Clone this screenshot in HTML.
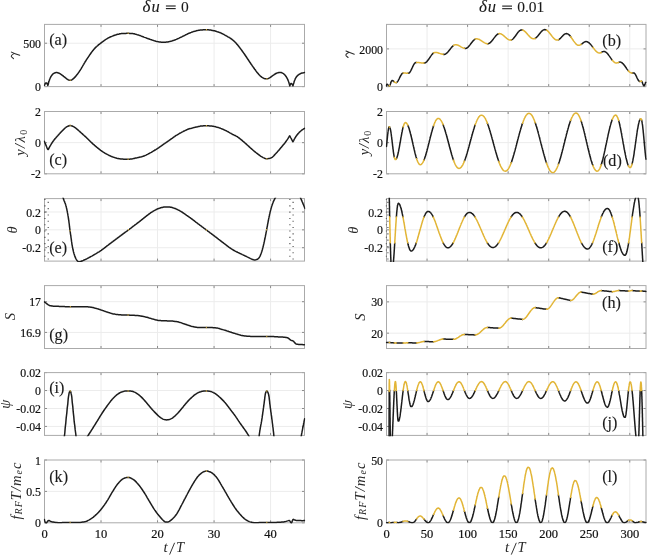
<!DOCTYPE html>
<html><head><meta charset="utf-8"><style>
html,body{margin:0;padding:0;background:#fff;width:648px;height:556px;overflow:hidden;}
svg{display:block;filter:blur(0.3px);}
</style></head><body>
<svg width="648" height="556" viewBox="0 0 648 556">
<style>
.tk { font-family: "Liberation Serif", serif; font-size: 12.5px; fill: #111; stroke: #111; stroke-width: 0.2px; }
.pl { font-family: "Liberation Serif", serif; font-size: 16.2px; fill: #1a1a1a; stroke: #1a1a1a; stroke-width: 0.12px; }
.yl { font-family: "Liberation Serif", serif; font-size: 14px; fill: #2a2a2a; font-style: italic; }
.ti { font-family: "Liberation Serif", serif; font-size: 15.5px; fill: #1a1a1a; stroke: #1a1a1a; stroke-width: 0.1px; }
</style>
<rect width="648" height="556" fill="#fff"/>
<line x1="101.02" y1="24.4" x2="101.02" y2="86.6" stroke="#ececec" stroke-width="1"/>
<line x1="157.54" y1="24.4" x2="157.54" y2="86.6" stroke="#ececec" stroke-width="1"/>
<line x1="214.07" y1="24.4" x2="214.07" y2="86.6" stroke="#ececec" stroke-width="1"/>
<line x1="270.59" y1="24.4" x2="270.59" y2="86.6" stroke="#ececec" stroke-width="1"/>
<line x1="44.5" y1="43.22" x2="304.5" y2="43.22" stroke="#ececec" stroke-width="1"/>
<line x1="44.50" y1="86.6" x2="44.50" y2="84.1" stroke="#8a8a8a" stroke-width="1"/>
<line x1="44.50" y1="24.4" x2="44.50" y2="26.9" stroke="#8a8a8a" stroke-width="1"/>
<line x1="101.02" y1="86.6" x2="101.02" y2="84.1" stroke="#8a8a8a" stroke-width="1"/>
<line x1="101.02" y1="24.4" x2="101.02" y2="26.9" stroke="#8a8a8a" stroke-width="1"/>
<line x1="157.54" y1="86.6" x2="157.54" y2="84.1" stroke="#8a8a8a" stroke-width="1"/>
<line x1="157.54" y1="24.4" x2="157.54" y2="26.9" stroke="#8a8a8a" stroke-width="1"/>
<line x1="214.07" y1="86.6" x2="214.07" y2="84.1" stroke="#8a8a8a" stroke-width="1"/>
<line x1="214.07" y1="24.4" x2="214.07" y2="26.9" stroke="#8a8a8a" stroke-width="1"/>
<line x1="270.59" y1="86.6" x2="270.59" y2="84.1" stroke="#8a8a8a" stroke-width="1"/>
<line x1="270.59" y1="24.4" x2="270.59" y2="26.9" stroke="#8a8a8a" stroke-width="1"/>
<line x1="44.5" y1="86.60" x2="47.0" y2="86.60" stroke="#8a8a8a" stroke-width="1"/>
<line x1="304.5" y1="86.60" x2="302.0" y2="86.60" stroke="#8a8a8a" stroke-width="1"/>
<line x1="44.5" y1="43.22" x2="47.0" y2="43.22" stroke="#8a8a8a" stroke-width="1"/>
<line x1="304.5" y1="43.22" x2="302.0" y2="43.22" stroke="#8a8a8a" stroke-width="1"/>
<text transform="translate(41.00,91.20) scale(0.95,1)" text-anchor="end" class="tk">0</text>
<text transform="translate(41.00,47.82) scale(0.95,1)" text-anchor="end" class="tk">500</text>
<line x1="101.02" y1="111.5" x2="101.02" y2="173.8" stroke="#ececec" stroke-width="1"/>
<line x1="157.54" y1="111.5" x2="157.54" y2="173.8" stroke="#ececec" stroke-width="1"/>
<line x1="214.07" y1="111.5" x2="214.07" y2="173.8" stroke="#ececec" stroke-width="1"/>
<line x1="270.59" y1="111.5" x2="270.59" y2="173.8" stroke="#ececec" stroke-width="1"/>
<line x1="44.5" y1="142.65" x2="304.5" y2="142.65" stroke="#ececec" stroke-width="1"/>
<line x1="44.50" y1="173.8" x2="44.50" y2="171.3" stroke="#8a8a8a" stroke-width="1"/>
<line x1="44.50" y1="111.5" x2="44.50" y2="114.0" stroke="#8a8a8a" stroke-width="1"/>
<line x1="101.02" y1="173.8" x2="101.02" y2="171.3" stroke="#8a8a8a" stroke-width="1"/>
<line x1="101.02" y1="111.5" x2="101.02" y2="114.0" stroke="#8a8a8a" stroke-width="1"/>
<line x1="157.54" y1="173.8" x2="157.54" y2="171.3" stroke="#8a8a8a" stroke-width="1"/>
<line x1="157.54" y1="111.5" x2="157.54" y2="114.0" stroke="#8a8a8a" stroke-width="1"/>
<line x1="214.07" y1="173.8" x2="214.07" y2="171.3" stroke="#8a8a8a" stroke-width="1"/>
<line x1="214.07" y1="111.5" x2="214.07" y2="114.0" stroke="#8a8a8a" stroke-width="1"/>
<line x1="270.59" y1="173.8" x2="270.59" y2="171.3" stroke="#8a8a8a" stroke-width="1"/>
<line x1="270.59" y1="111.5" x2="270.59" y2="114.0" stroke="#8a8a8a" stroke-width="1"/>
<line x1="44.5" y1="173.80" x2="47.0" y2="173.80" stroke="#8a8a8a" stroke-width="1"/>
<line x1="304.5" y1="173.80" x2="302.0" y2="173.80" stroke="#8a8a8a" stroke-width="1"/>
<line x1="44.5" y1="142.65" x2="47.0" y2="142.65" stroke="#8a8a8a" stroke-width="1"/>
<line x1="304.5" y1="142.65" x2="302.0" y2="142.65" stroke="#8a8a8a" stroke-width="1"/>
<line x1="44.5" y1="111.50" x2="47.0" y2="111.50" stroke="#8a8a8a" stroke-width="1"/>
<line x1="304.5" y1="111.50" x2="302.0" y2="111.50" stroke="#8a8a8a" stroke-width="1"/>
<text transform="translate(41.00,178.40) scale(0.95,1)" text-anchor="end" class="tk">-2</text>
<text transform="translate(41.00,147.25) scale(0.95,1)" text-anchor="end" class="tk">0</text>
<text transform="translate(41.00,116.10) scale(0.95,1)" text-anchor="end" class="tk">2</text>
<line x1="101.02" y1="198.6" x2="101.02" y2="261.1" stroke="#ececec" stroke-width="1"/>
<line x1="157.54" y1="198.6" x2="157.54" y2="261.1" stroke="#ececec" stroke-width="1"/>
<line x1="214.07" y1="198.6" x2="214.07" y2="261.1" stroke="#ececec" stroke-width="1"/>
<line x1="270.59" y1="198.6" x2="270.59" y2="261.1" stroke="#ececec" stroke-width="1"/>
<line x1="44.5" y1="247.71" x2="304.5" y2="247.71" stroke="#ececec" stroke-width="1"/>
<line x1="44.5" y1="229.85" x2="304.5" y2="229.85" stroke="#ececec" stroke-width="1"/>
<line x1="44.5" y1="211.99" x2="304.5" y2="211.99" stroke="#ececec" stroke-width="1"/>
<line x1="44.50" y1="261.1" x2="44.50" y2="258.6" stroke="#8a8a8a" stroke-width="1"/>
<line x1="44.50" y1="198.6" x2="44.50" y2="201.1" stroke="#8a8a8a" stroke-width="1"/>
<line x1="101.02" y1="261.1" x2="101.02" y2="258.6" stroke="#8a8a8a" stroke-width="1"/>
<line x1="101.02" y1="198.6" x2="101.02" y2="201.1" stroke="#8a8a8a" stroke-width="1"/>
<line x1="157.54" y1="261.1" x2="157.54" y2="258.6" stroke="#8a8a8a" stroke-width="1"/>
<line x1="157.54" y1="198.6" x2="157.54" y2="201.1" stroke="#8a8a8a" stroke-width="1"/>
<line x1="214.07" y1="261.1" x2="214.07" y2="258.6" stroke="#8a8a8a" stroke-width="1"/>
<line x1="214.07" y1="198.6" x2="214.07" y2="201.1" stroke="#8a8a8a" stroke-width="1"/>
<line x1="270.59" y1="261.1" x2="270.59" y2="258.6" stroke="#8a8a8a" stroke-width="1"/>
<line x1="270.59" y1="198.6" x2="270.59" y2="201.1" stroke="#8a8a8a" stroke-width="1"/>
<line x1="44.5" y1="247.71" x2="47.0" y2="247.71" stroke="#8a8a8a" stroke-width="1"/>
<line x1="304.5" y1="247.71" x2="302.0" y2="247.71" stroke="#8a8a8a" stroke-width="1"/>
<line x1="44.5" y1="229.85" x2="47.0" y2="229.85" stroke="#8a8a8a" stroke-width="1"/>
<line x1="304.5" y1="229.85" x2="302.0" y2="229.85" stroke="#8a8a8a" stroke-width="1"/>
<line x1="44.5" y1="211.99" x2="47.0" y2="211.99" stroke="#8a8a8a" stroke-width="1"/>
<line x1="304.5" y1="211.99" x2="302.0" y2="211.99" stroke="#8a8a8a" stroke-width="1"/>
<text transform="translate(41.00,252.31) scale(0.95,1)" text-anchor="end" class="tk">-0.2</text>
<text transform="translate(41.00,234.45) scale(0.95,1)" text-anchor="end" class="tk">0</text>
<text transform="translate(41.00,216.59) scale(0.95,1)" text-anchor="end" class="tk">0.2</text>
<line x1="101.02" y1="285.6" x2="101.02" y2="348.5" stroke="#ececec" stroke-width="1"/>
<line x1="157.54" y1="285.6" x2="157.54" y2="348.5" stroke="#ececec" stroke-width="1"/>
<line x1="214.07" y1="285.6" x2="214.07" y2="348.5" stroke="#ececec" stroke-width="1"/>
<line x1="270.59" y1="285.6" x2="270.59" y2="348.5" stroke="#ececec" stroke-width="1"/>
<line x1="44.5" y1="332.41" x2="304.5" y2="332.41" stroke="#ececec" stroke-width="1"/>
<line x1="44.5" y1="301.69" x2="304.5" y2="301.69" stroke="#ececec" stroke-width="1"/>
<line x1="44.50" y1="348.5" x2="44.50" y2="346.0" stroke="#8a8a8a" stroke-width="1"/>
<line x1="44.50" y1="285.6" x2="44.50" y2="288.1" stroke="#8a8a8a" stroke-width="1"/>
<line x1="101.02" y1="348.5" x2="101.02" y2="346.0" stroke="#8a8a8a" stroke-width="1"/>
<line x1="101.02" y1="285.6" x2="101.02" y2="288.1" stroke="#8a8a8a" stroke-width="1"/>
<line x1="157.54" y1="348.5" x2="157.54" y2="346.0" stroke="#8a8a8a" stroke-width="1"/>
<line x1="157.54" y1="285.6" x2="157.54" y2="288.1" stroke="#8a8a8a" stroke-width="1"/>
<line x1="214.07" y1="348.5" x2="214.07" y2="346.0" stroke="#8a8a8a" stroke-width="1"/>
<line x1="214.07" y1="285.6" x2="214.07" y2="288.1" stroke="#8a8a8a" stroke-width="1"/>
<line x1="270.59" y1="348.5" x2="270.59" y2="346.0" stroke="#8a8a8a" stroke-width="1"/>
<line x1="270.59" y1="285.6" x2="270.59" y2="288.1" stroke="#8a8a8a" stroke-width="1"/>
<line x1="44.5" y1="332.41" x2="47.0" y2="332.41" stroke="#8a8a8a" stroke-width="1"/>
<line x1="304.5" y1="332.41" x2="302.0" y2="332.41" stroke="#8a8a8a" stroke-width="1"/>
<line x1="44.5" y1="301.69" x2="47.0" y2="301.69" stroke="#8a8a8a" stroke-width="1"/>
<line x1="304.5" y1="301.69" x2="302.0" y2="301.69" stroke="#8a8a8a" stroke-width="1"/>
<text transform="translate(41.00,337.01) scale(0.95,1)" text-anchor="end" class="tk">16.9</text>
<text transform="translate(41.00,306.29) scale(0.95,1)" text-anchor="end" class="tk">17</text>
<line x1="101.02" y1="372.6" x2="101.02" y2="435.4" stroke="#ececec" stroke-width="1"/>
<line x1="157.54" y1="372.6" x2="157.54" y2="435.4" stroke="#ececec" stroke-width="1"/>
<line x1="214.07" y1="372.6" x2="214.07" y2="435.4" stroke="#ececec" stroke-width="1"/>
<line x1="270.59" y1="372.6" x2="270.59" y2="435.4" stroke="#ececec" stroke-width="1"/>
<line x1="44.5" y1="426.43" x2="304.5" y2="426.43" stroke="#ececec" stroke-width="1"/>
<line x1="44.5" y1="408.49" x2="304.5" y2="408.49" stroke="#ececec" stroke-width="1"/>
<line x1="44.5" y1="390.54" x2="304.5" y2="390.54" stroke="#ececec" stroke-width="1"/>
<line x1="44.50" y1="435.4" x2="44.50" y2="432.9" stroke="#8a8a8a" stroke-width="1"/>
<line x1="44.50" y1="372.6" x2="44.50" y2="375.1" stroke="#8a8a8a" stroke-width="1"/>
<line x1="101.02" y1="435.4" x2="101.02" y2="432.9" stroke="#8a8a8a" stroke-width="1"/>
<line x1="101.02" y1="372.6" x2="101.02" y2="375.1" stroke="#8a8a8a" stroke-width="1"/>
<line x1="157.54" y1="435.4" x2="157.54" y2="432.9" stroke="#8a8a8a" stroke-width="1"/>
<line x1="157.54" y1="372.6" x2="157.54" y2="375.1" stroke="#8a8a8a" stroke-width="1"/>
<line x1="214.07" y1="435.4" x2="214.07" y2="432.9" stroke="#8a8a8a" stroke-width="1"/>
<line x1="214.07" y1="372.6" x2="214.07" y2="375.1" stroke="#8a8a8a" stroke-width="1"/>
<line x1="270.59" y1="435.4" x2="270.59" y2="432.9" stroke="#8a8a8a" stroke-width="1"/>
<line x1="270.59" y1="372.6" x2="270.59" y2="375.1" stroke="#8a8a8a" stroke-width="1"/>
<line x1="44.5" y1="426.43" x2="47.0" y2="426.43" stroke="#8a8a8a" stroke-width="1"/>
<line x1="304.5" y1="426.43" x2="302.0" y2="426.43" stroke="#8a8a8a" stroke-width="1"/>
<line x1="44.5" y1="408.49" x2="47.0" y2="408.49" stroke="#8a8a8a" stroke-width="1"/>
<line x1="304.5" y1="408.49" x2="302.0" y2="408.49" stroke="#8a8a8a" stroke-width="1"/>
<line x1="44.5" y1="390.54" x2="47.0" y2="390.54" stroke="#8a8a8a" stroke-width="1"/>
<line x1="304.5" y1="390.54" x2="302.0" y2="390.54" stroke="#8a8a8a" stroke-width="1"/>
<line x1="44.5" y1="372.60" x2="47.0" y2="372.60" stroke="#8a8a8a" stroke-width="1"/>
<line x1="304.5" y1="372.60" x2="302.0" y2="372.60" stroke="#8a8a8a" stroke-width="1"/>
<text transform="translate(41.00,431.03) scale(0.95,1)" text-anchor="end" class="tk">-0.04</text>
<text transform="translate(41.00,413.09) scale(0.95,1)" text-anchor="end" class="tk">-0.02</text>
<text transform="translate(41.00,395.14) scale(0.95,1)" text-anchor="end" class="tk">0</text>
<text transform="translate(41.00,377.20) scale(0.95,1)" text-anchor="end" class="tk">0.02</text>
<line x1="101.02" y1="460.0" x2="101.02" y2="522.8" stroke="#ececec" stroke-width="1"/>
<line x1="157.54" y1="460.0" x2="157.54" y2="522.8" stroke="#ececec" stroke-width="1"/>
<line x1="214.07" y1="460.0" x2="214.07" y2="522.8" stroke="#ececec" stroke-width="1"/>
<line x1="270.59" y1="460.0" x2="270.59" y2="522.8" stroke="#ececec" stroke-width="1"/>
<line x1="44.5" y1="491.40" x2="304.5" y2="491.40" stroke="#ececec" stroke-width="1"/>
<line x1="44.50" y1="522.8" x2="44.50" y2="520.3" stroke="#8a8a8a" stroke-width="1"/>
<line x1="44.50" y1="460.0" x2="44.50" y2="462.5" stroke="#8a8a8a" stroke-width="1"/>
<line x1="101.02" y1="522.8" x2="101.02" y2="520.3" stroke="#8a8a8a" stroke-width="1"/>
<line x1="101.02" y1="460.0" x2="101.02" y2="462.5" stroke="#8a8a8a" stroke-width="1"/>
<line x1="157.54" y1="522.8" x2="157.54" y2="520.3" stroke="#8a8a8a" stroke-width="1"/>
<line x1="157.54" y1="460.0" x2="157.54" y2="462.5" stroke="#8a8a8a" stroke-width="1"/>
<line x1="214.07" y1="522.8" x2="214.07" y2="520.3" stroke="#8a8a8a" stroke-width="1"/>
<line x1="214.07" y1="460.0" x2="214.07" y2="462.5" stroke="#8a8a8a" stroke-width="1"/>
<line x1="270.59" y1="522.8" x2="270.59" y2="520.3" stroke="#8a8a8a" stroke-width="1"/>
<line x1="270.59" y1="460.0" x2="270.59" y2="462.5" stroke="#8a8a8a" stroke-width="1"/>
<line x1="44.5" y1="522.80" x2="47.0" y2="522.80" stroke="#8a8a8a" stroke-width="1"/>
<line x1="304.5" y1="522.80" x2="302.0" y2="522.80" stroke="#8a8a8a" stroke-width="1"/>
<line x1="44.5" y1="491.40" x2="47.0" y2="491.40" stroke="#8a8a8a" stroke-width="1"/>
<line x1="304.5" y1="491.40" x2="302.0" y2="491.40" stroke="#8a8a8a" stroke-width="1"/>
<line x1="44.5" y1="460.00" x2="47.0" y2="460.00" stroke="#8a8a8a" stroke-width="1"/>
<line x1="304.5" y1="460.00" x2="302.0" y2="460.00" stroke="#8a8a8a" stroke-width="1"/>
<text transform="translate(41.00,527.40) scale(0.95,1)" text-anchor="end" class="tk">0</text>
<text transform="translate(41.00,496.00) scale(0.95,1)" text-anchor="end" class="tk">0.5</text>
<text transform="translate(41.00,464.60) scale(0.95,1)" text-anchor="end" class="tk">1</text>
<text x="44.50" y="537.80" text-anchor="middle" class="tk">0</text>
<text x="101.02" y="537.80" text-anchor="middle" class="tk">10</text>
<text x="157.54" y="537.80" text-anchor="middle" class="tk">20</text>
<text x="214.07" y="537.80" text-anchor="middle" class="tk">30</text>
<text x="270.59" y="537.80" text-anchor="middle" class="tk">40</text>
<line x1="427.05" y1="24.4" x2="427.05" y2="86.6" stroke="#ececec" stroke-width="1"/>
<line x1="467.59" y1="24.4" x2="467.59" y2="86.6" stroke="#ececec" stroke-width="1"/>
<line x1="508.14" y1="24.4" x2="508.14" y2="86.6" stroke="#ececec" stroke-width="1"/>
<line x1="548.69" y1="24.4" x2="548.69" y2="86.6" stroke="#ececec" stroke-width="1"/>
<line x1="589.23" y1="24.4" x2="589.23" y2="86.6" stroke="#ececec" stroke-width="1"/>
<line x1="629.78" y1="24.4" x2="629.78" y2="86.6" stroke="#ececec" stroke-width="1"/>
<line x1="386.5" y1="48.90" x2="646.0" y2="48.90" stroke="#ececec" stroke-width="1"/>
<line x1="386.50" y1="86.6" x2="386.50" y2="84.1" stroke="#8a8a8a" stroke-width="1"/>
<line x1="386.50" y1="24.4" x2="386.50" y2="26.9" stroke="#8a8a8a" stroke-width="1"/>
<line x1="427.05" y1="86.6" x2="427.05" y2="84.1" stroke="#8a8a8a" stroke-width="1"/>
<line x1="427.05" y1="24.4" x2="427.05" y2="26.9" stroke="#8a8a8a" stroke-width="1"/>
<line x1="467.59" y1="86.6" x2="467.59" y2="84.1" stroke="#8a8a8a" stroke-width="1"/>
<line x1="467.59" y1="24.4" x2="467.59" y2="26.9" stroke="#8a8a8a" stroke-width="1"/>
<line x1="508.14" y1="86.6" x2="508.14" y2="84.1" stroke="#8a8a8a" stroke-width="1"/>
<line x1="508.14" y1="24.4" x2="508.14" y2="26.9" stroke="#8a8a8a" stroke-width="1"/>
<line x1="548.69" y1="86.6" x2="548.69" y2="84.1" stroke="#8a8a8a" stroke-width="1"/>
<line x1="548.69" y1="24.4" x2="548.69" y2="26.9" stroke="#8a8a8a" stroke-width="1"/>
<line x1="589.23" y1="86.6" x2="589.23" y2="84.1" stroke="#8a8a8a" stroke-width="1"/>
<line x1="589.23" y1="24.4" x2="589.23" y2="26.9" stroke="#8a8a8a" stroke-width="1"/>
<line x1="629.78" y1="86.6" x2="629.78" y2="84.1" stroke="#8a8a8a" stroke-width="1"/>
<line x1="629.78" y1="24.4" x2="629.78" y2="26.9" stroke="#8a8a8a" stroke-width="1"/>
<line x1="386.5" y1="86.60" x2="389.0" y2="86.60" stroke="#8a8a8a" stroke-width="1"/>
<line x1="646.0" y1="86.60" x2="643.5" y2="86.60" stroke="#8a8a8a" stroke-width="1"/>
<line x1="386.5" y1="48.90" x2="389.0" y2="48.90" stroke="#8a8a8a" stroke-width="1"/>
<line x1="646.0" y1="48.90" x2="643.5" y2="48.90" stroke="#8a8a8a" stroke-width="1"/>
<text transform="translate(383.00,91.20) scale(0.95,1)" text-anchor="end" class="tk">0</text>
<text transform="translate(383.00,53.50) scale(0.95,1)" text-anchor="end" class="tk">2000</text>
<line x1="427.05" y1="111.5" x2="427.05" y2="173.8" stroke="#ececec" stroke-width="1"/>
<line x1="467.59" y1="111.5" x2="467.59" y2="173.8" stroke="#ececec" stroke-width="1"/>
<line x1="508.14" y1="111.5" x2="508.14" y2="173.8" stroke="#ececec" stroke-width="1"/>
<line x1="548.69" y1="111.5" x2="548.69" y2="173.8" stroke="#ececec" stroke-width="1"/>
<line x1="589.23" y1="111.5" x2="589.23" y2="173.8" stroke="#ececec" stroke-width="1"/>
<line x1="629.78" y1="111.5" x2="629.78" y2="173.8" stroke="#ececec" stroke-width="1"/>
<line x1="386.5" y1="142.65" x2="646.0" y2="142.65" stroke="#ececec" stroke-width="1"/>
<line x1="386.50" y1="173.8" x2="386.50" y2="171.3" stroke="#8a8a8a" stroke-width="1"/>
<line x1="386.50" y1="111.5" x2="386.50" y2="114.0" stroke="#8a8a8a" stroke-width="1"/>
<line x1="427.05" y1="173.8" x2="427.05" y2="171.3" stroke="#8a8a8a" stroke-width="1"/>
<line x1="427.05" y1="111.5" x2="427.05" y2="114.0" stroke="#8a8a8a" stroke-width="1"/>
<line x1="467.59" y1="173.8" x2="467.59" y2="171.3" stroke="#8a8a8a" stroke-width="1"/>
<line x1="467.59" y1="111.5" x2="467.59" y2="114.0" stroke="#8a8a8a" stroke-width="1"/>
<line x1="508.14" y1="173.8" x2="508.14" y2="171.3" stroke="#8a8a8a" stroke-width="1"/>
<line x1="508.14" y1="111.5" x2="508.14" y2="114.0" stroke="#8a8a8a" stroke-width="1"/>
<line x1="548.69" y1="173.8" x2="548.69" y2="171.3" stroke="#8a8a8a" stroke-width="1"/>
<line x1="548.69" y1="111.5" x2="548.69" y2="114.0" stroke="#8a8a8a" stroke-width="1"/>
<line x1="589.23" y1="173.8" x2="589.23" y2="171.3" stroke="#8a8a8a" stroke-width="1"/>
<line x1="589.23" y1="111.5" x2="589.23" y2="114.0" stroke="#8a8a8a" stroke-width="1"/>
<line x1="629.78" y1="173.8" x2="629.78" y2="171.3" stroke="#8a8a8a" stroke-width="1"/>
<line x1="629.78" y1="111.5" x2="629.78" y2="114.0" stroke="#8a8a8a" stroke-width="1"/>
<line x1="386.5" y1="173.80" x2="389.0" y2="173.80" stroke="#8a8a8a" stroke-width="1"/>
<line x1="646.0" y1="173.80" x2="643.5" y2="173.80" stroke="#8a8a8a" stroke-width="1"/>
<line x1="386.5" y1="142.65" x2="389.0" y2="142.65" stroke="#8a8a8a" stroke-width="1"/>
<line x1="646.0" y1="142.65" x2="643.5" y2="142.65" stroke="#8a8a8a" stroke-width="1"/>
<line x1="386.5" y1="111.50" x2="389.0" y2="111.50" stroke="#8a8a8a" stroke-width="1"/>
<line x1="646.0" y1="111.50" x2="643.5" y2="111.50" stroke="#8a8a8a" stroke-width="1"/>
<text transform="translate(383.00,178.40) scale(0.95,1)" text-anchor="end" class="tk">-2</text>
<text transform="translate(383.00,147.25) scale(0.95,1)" text-anchor="end" class="tk">0</text>
<text transform="translate(383.00,116.10) scale(0.95,1)" text-anchor="end" class="tk">2</text>
<line x1="427.05" y1="198.6" x2="427.05" y2="261.1" stroke="#ececec" stroke-width="1"/>
<line x1="467.59" y1="198.6" x2="467.59" y2="261.1" stroke="#ececec" stroke-width="1"/>
<line x1="508.14" y1="198.6" x2="508.14" y2="261.1" stroke="#ececec" stroke-width="1"/>
<line x1="548.69" y1="198.6" x2="548.69" y2="261.1" stroke="#ececec" stroke-width="1"/>
<line x1="589.23" y1="198.6" x2="589.23" y2="261.1" stroke="#ececec" stroke-width="1"/>
<line x1="629.78" y1="198.6" x2="629.78" y2="261.1" stroke="#ececec" stroke-width="1"/>
<line x1="386.5" y1="247.71" x2="646.0" y2="247.71" stroke="#ececec" stroke-width="1"/>
<line x1="386.5" y1="229.85" x2="646.0" y2="229.85" stroke="#ececec" stroke-width="1"/>
<line x1="386.5" y1="211.99" x2="646.0" y2="211.99" stroke="#ececec" stroke-width="1"/>
<line x1="386.50" y1="261.1" x2="386.50" y2="258.6" stroke="#8a8a8a" stroke-width="1"/>
<line x1="386.50" y1="198.6" x2="386.50" y2="201.1" stroke="#8a8a8a" stroke-width="1"/>
<line x1="427.05" y1="261.1" x2="427.05" y2="258.6" stroke="#8a8a8a" stroke-width="1"/>
<line x1="427.05" y1="198.6" x2="427.05" y2="201.1" stroke="#8a8a8a" stroke-width="1"/>
<line x1="467.59" y1="261.1" x2="467.59" y2="258.6" stroke="#8a8a8a" stroke-width="1"/>
<line x1="467.59" y1="198.6" x2="467.59" y2="201.1" stroke="#8a8a8a" stroke-width="1"/>
<line x1="508.14" y1="261.1" x2="508.14" y2="258.6" stroke="#8a8a8a" stroke-width="1"/>
<line x1="508.14" y1="198.6" x2="508.14" y2="201.1" stroke="#8a8a8a" stroke-width="1"/>
<line x1="548.69" y1="261.1" x2="548.69" y2="258.6" stroke="#8a8a8a" stroke-width="1"/>
<line x1="548.69" y1="198.6" x2="548.69" y2="201.1" stroke="#8a8a8a" stroke-width="1"/>
<line x1="589.23" y1="261.1" x2="589.23" y2="258.6" stroke="#8a8a8a" stroke-width="1"/>
<line x1="589.23" y1="198.6" x2="589.23" y2="201.1" stroke="#8a8a8a" stroke-width="1"/>
<line x1="629.78" y1="261.1" x2="629.78" y2="258.6" stroke="#8a8a8a" stroke-width="1"/>
<line x1="629.78" y1="198.6" x2="629.78" y2="201.1" stroke="#8a8a8a" stroke-width="1"/>
<line x1="386.5" y1="247.71" x2="389.0" y2="247.71" stroke="#8a8a8a" stroke-width="1"/>
<line x1="646.0" y1="247.71" x2="643.5" y2="247.71" stroke="#8a8a8a" stroke-width="1"/>
<line x1="386.5" y1="229.85" x2="389.0" y2="229.85" stroke="#8a8a8a" stroke-width="1"/>
<line x1="646.0" y1="229.85" x2="643.5" y2="229.85" stroke="#8a8a8a" stroke-width="1"/>
<line x1="386.5" y1="211.99" x2="389.0" y2="211.99" stroke="#8a8a8a" stroke-width="1"/>
<line x1="646.0" y1="211.99" x2="643.5" y2="211.99" stroke="#8a8a8a" stroke-width="1"/>
<text transform="translate(383.00,252.31) scale(0.95,1)" text-anchor="end" class="tk">-0.2</text>
<text transform="translate(383.00,234.45) scale(0.95,1)" text-anchor="end" class="tk">0</text>
<text transform="translate(383.00,216.59) scale(0.95,1)" text-anchor="end" class="tk">0.2</text>
<line x1="427.05" y1="285.6" x2="427.05" y2="348.5" stroke="#ececec" stroke-width="1"/>
<line x1="467.59" y1="285.6" x2="467.59" y2="348.5" stroke="#ececec" stroke-width="1"/>
<line x1="508.14" y1="285.6" x2="508.14" y2="348.5" stroke="#ececec" stroke-width="1"/>
<line x1="548.69" y1="285.6" x2="548.69" y2="348.5" stroke="#ececec" stroke-width="1"/>
<line x1="589.23" y1="285.6" x2="589.23" y2="348.5" stroke="#ececec" stroke-width="1"/>
<line x1="629.78" y1="285.6" x2="629.78" y2="348.5" stroke="#ececec" stroke-width="1"/>
<line x1="386.5" y1="333.17" x2="646.0" y2="333.17" stroke="#ececec" stroke-width="1"/>
<line x1="386.5" y1="301.87" x2="646.0" y2="301.87" stroke="#ececec" stroke-width="1"/>
<line x1="386.50" y1="348.5" x2="386.50" y2="346.0" stroke="#8a8a8a" stroke-width="1"/>
<line x1="386.50" y1="285.6" x2="386.50" y2="288.1" stroke="#8a8a8a" stroke-width="1"/>
<line x1="427.05" y1="348.5" x2="427.05" y2="346.0" stroke="#8a8a8a" stroke-width="1"/>
<line x1="427.05" y1="285.6" x2="427.05" y2="288.1" stroke="#8a8a8a" stroke-width="1"/>
<line x1="467.59" y1="348.5" x2="467.59" y2="346.0" stroke="#8a8a8a" stroke-width="1"/>
<line x1="467.59" y1="285.6" x2="467.59" y2="288.1" stroke="#8a8a8a" stroke-width="1"/>
<line x1="508.14" y1="348.5" x2="508.14" y2="346.0" stroke="#8a8a8a" stroke-width="1"/>
<line x1="508.14" y1="285.6" x2="508.14" y2="288.1" stroke="#8a8a8a" stroke-width="1"/>
<line x1="548.69" y1="348.5" x2="548.69" y2="346.0" stroke="#8a8a8a" stroke-width="1"/>
<line x1="548.69" y1="285.6" x2="548.69" y2="288.1" stroke="#8a8a8a" stroke-width="1"/>
<line x1="589.23" y1="348.5" x2="589.23" y2="346.0" stroke="#8a8a8a" stroke-width="1"/>
<line x1="589.23" y1="285.6" x2="589.23" y2="288.1" stroke="#8a8a8a" stroke-width="1"/>
<line x1="629.78" y1="348.5" x2="629.78" y2="346.0" stroke="#8a8a8a" stroke-width="1"/>
<line x1="629.78" y1="285.6" x2="629.78" y2="288.1" stroke="#8a8a8a" stroke-width="1"/>
<line x1="386.5" y1="333.17" x2="389.0" y2="333.17" stroke="#8a8a8a" stroke-width="1"/>
<line x1="646.0" y1="333.17" x2="643.5" y2="333.17" stroke="#8a8a8a" stroke-width="1"/>
<line x1="386.5" y1="301.87" x2="389.0" y2="301.87" stroke="#8a8a8a" stroke-width="1"/>
<line x1="646.0" y1="301.87" x2="643.5" y2="301.87" stroke="#8a8a8a" stroke-width="1"/>
<text transform="translate(383.00,337.77) scale(0.95,1)" text-anchor="end" class="tk">20</text>
<text transform="translate(383.00,306.47) scale(0.95,1)" text-anchor="end" class="tk">30</text>
<line x1="427.05" y1="372.6" x2="427.05" y2="435.4" stroke="#ececec" stroke-width="1"/>
<line x1="467.59" y1="372.6" x2="467.59" y2="435.4" stroke="#ececec" stroke-width="1"/>
<line x1="508.14" y1="372.6" x2="508.14" y2="435.4" stroke="#ececec" stroke-width="1"/>
<line x1="548.69" y1="372.6" x2="548.69" y2="435.4" stroke="#ececec" stroke-width="1"/>
<line x1="589.23" y1="372.6" x2="589.23" y2="435.4" stroke="#ececec" stroke-width="1"/>
<line x1="629.78" y1="372.6" x2="629.78" y2="435.4" stroke="#ececec" stroke-width="1"/>
<line x1="386.5" y1="426.43" x2="646.0" y2="426.43" stroke="#ececec" stroke-width="1"/>
<line x1="386.5" y1="408.49" x2="646.0" y2="408.49" stroke="#ececec" stroke-width="1"/>
<line x1="386.5" y1="390.54" x2="646.0" y2="390.54" stroke="#ececec" stroke-width="1"/>
<line x1="386.50" y1="435.4" x2="386.50" y2="432.9" stroke="#8a8a8a" stroke-width="1"/>
<line x1="386.50" y1="372.6" x2="386.50" y2="375.1" stroke="#8a8a8a" stroke-width="1"/>
<line x1="427.05" y1="435.4" x2="427.05" y2="432.9" stroke="#8a8a8a" stroke-width="1"/>
<line x1="427.05" y1="372.6" x2="427.05" y2="375.1" stroke="#8a8a8a" stroke-width="1"/>
<line x1="467.59" y1="435.4" x2="467.59" y2="432.9" stroke="#8a8a8a" stroke-width="1"/>
<line x1="467.59" y1="372.6" x2="467.59" y2="375.1" stroke="#8a8a8a" stroke-width="1"/>
<line x1="508.14" y1="435.4" x2="508.14" y2="432.9" stroke="#8a8a8a" stroke-width="1"/>
<line x1="508.14" y1="372.6" x2="508.14" y2="375.1" stroke="#8a8a8a" stroke-width="1"/>
<line x1="548.69" y1="435.4" x2="548.69" y2="432.9" stroke="#8a8a8a" stroke-width="1"/>
<line x1="548.69" y1="372.6" x2="548.69" y2="375.1" stroke="#8a8a8a" stroke-width="1"/>
<line x1="589.23" y1="435.4" x2="589.23" y2="432.9" stroke="#8a8a8a" stroke-width="1"/>
<line x1="589.23" y1="372.6" x2="589.23" y2="375.1" stroke="#8a8a8a" stroke-width="1"/>
<line x1="629.78" y1="435.4" x2="629.78" y2="432.9" stroke="#8a8a8a" stroke-width="1"/>
<line x1="629.78" y1="372.6" x2="629.78" y2="375.1" stroke="#8a8a8a" stroke-width="1"/>
<line x1="386.5" y1="426.43" x2="389.0" y2="426.43" stroke="#8a8a8a" stroke-width="1"/>
<line x1="646.0" y1="426.43" x2="643.5" y2="426.43" stroke="#8a8a8a" stroke-width="1"/>
<line x1="386.5" y1="408.49" x2="389.0" y2="408.49" stroke="#8a8a8a" stroke-width="1"/>
<line x1="646.0" y1="408.49" x2="643.5" y2="408.49" stroke="#8a8a8a" stroke-width="1"/>
<line x1="386.5" y1="390.54" x2="389.0" y2="390.54" stroke="#8a8a8a" stroke-width="1"/>
<line x1="646.0" y1="390.54" x2="643.5" y2="390.54" stroke="#8a8a8a" stroke-width="1"/>
<line x1="386.5" y1="372.60" x2="389.0" y2="372.60" stroke="#8a8a8a" stroke-width="1"/>
<line x1="646.0" y1="372.60" x2="643.5" y2="372.60" stroke="#8a8a8a" stroke-width="1"/>
<text transform="translate(383.00,431.03) scale(0.95,1)" text-anchor="end" class="tk">-0.04</text>
<text transform="translate(383.00,413.09) scale(0.95,1)" text-anchor="end" class="tk">-0.02</text>
<text transform="translate(383.00,395.14) scale(0.95,1)" text-anchor="end" class="tk">0</text>
<text transform="translate(383.00,377.20) scale(0.95,1)" text-anchor="end" class="tk">0.02</text>
<line x1="427.05" y1="460.0" x2="427.05" y2="522.8" stroke="#ececec" stroke-width="1"/>
<line x1="467.59" y1="460.0" x2="467.59" y2="522.8" stroke="#ececec" stroke-width="1"/>
<line x1="508.14" y1="460.0" x2="508.14" y2="522.8" stroke="#ececec" stroke-width="1"/>
<line x1="548.69" y1="460.0" x2="548.69" y2="522.8" stroke="#ececec" stroke-width="1"/>
<line x1="589.23" y1="460.0" x2="589.23" y2="522.8" stroke="#ececec" stroke-width="1"/>
<line x1="629.78" y1="460.0" x2="629.78" y2="522.8" stroke="#ececec" stroke-width="1"/>
<line x1="386.50" y1="522.8" x2="386.50" y2="520.3" stroke="#8a8a8a" stroke-width="1"/>
<line x1="386.50" y1="460.0" x2="386.50" y2="462.5" stroke="#8a8a8a" stroke-width="1"/>
<line x1="427.05" y1="522.8" x2="427.05" y2="520.3" stroke="#8a8a8a" stroke-width="1"/>
<line x1="427.05" y1="460.0" x2="427.05" y2="462.5" stroke="#8a8a8a" stroke-width="1"/>
<line x1="467.59" y1="522.8" x2="467.59" y2="520.3" stroke="#8a8a8a" stroke-width="1"/>
<line x1="467.59" y1="460.0" x2="467.59" y2="462.5" stroke="#8a8a8a" stroke-width="1"/>
<line x1="508.14" y1="522.8" x2="508.14" y2="520.3" stroke="#8a8a8a" stroke-width="1"/>
<line x1="508.14" y1="460.0" x2="508.14" y2="462.5" stroke="#8a8a8a" stroke-width="1"/>
<line x1="548.69" y1="522.8" x2="548.69" y2="520.3" stroke="#8a8a8a" stroke-width="1"/>
<line x1="548.69" y1="460.0" x2="548.69" y2="462.5" stroke="#8a8a8a" stroke-width="1"/>
<line x1="589.23" y1="522.8" x2="589.23" y2="520.3" stroke="#8a8a8a" stroke-width="1"/>
<line x1="589.23" y1="460.0" x2="589.23" y2="462.5" stroke="#8a8a8a" stroke-width="1"/>
<line x1="629.78" y1="522.8" x2="629.78" y2="520.3" stroke="#8a8a8a" stroke-width="1"/>
<line x1="629.78" y1="460.0" x2="629.78" y2="462.5" stroke="#8a8a8a" stroke-width="1"/>
<line x1="386.5" y1="522.80" x2="389.0" y2="522.80" stroke="#8a8a8a" stroke-width="1"/>
<line x1="646.0" y1="522.80" x2="643.5" y2="522.80" stroke="#8a8a8a" stroke-width="1"/>
<line x1="386.5" y1="460.00" x2="389.0" y2="460.00" stroke="#8a8a8a" stroke-width="1"/>
<line x1="646.0" y1="460.00" x2="643.5" y2="460.00" stroke="#8a8a8a" stroke-width="1"/>
<text transform="translate(383.00,527.40) scale(0.95,1)" text-anchor="end" class="tk">0</text>
<text transform="translate(383.00,464.60) scale(0.95,1)" text-anchor="end" class="tk">50</text>
<text x="386.50" y="537.80" text-anchor="middle" class="tk">0</text>
<text x="427.05" y="537.80" text-anchor="middle" class="tk">50</text>
<text x="467.59" y="537.80" text-anchor="middle" class="tk">100</text>
<text x="508.14" y="537.80" text-anchor="middle" class="tk">150</text>
<text x="548.69" y="537.80" text-anchor="middle" class="tk">200</text>
<text x="589.23" y="537.80" text-anchor="middle" class="tk">250</text>
<text x="629.78" y="537.80" text-anchor="middle" class="tk">300</text>
<rect x="44.5" y="24.4" width="260.0" height="62.199999999999996" fill="none" stroke="#aaaaaa" stroke-width="1"/>
<rect x="44.5" y="111.5" width="260.0" height="62.30000000000001" fill="none" stroke="#aaaaaa" stroke-width="1"/>
<rect x="44.5" y="198.6" width="260.0" height="62.50000000000003" fill="none" stroke="#aaaaaa" stroke-width="1"/>
<rect x="44.5" y="285.6" width="260.0" height="62.89999999999998" fill="none" stroke="#aaaaaa" stroke-width="1"/>
<rect x="44.5" y="372.6" width="260.0" height="62.799999999999955" fill="none" stroke="#aaaaaa" stroke-width="1"/>
<rect x="44.5" y="460.0" width="260.0" height="62.799999999999955" fill="none" stroke="#aaaaaa" stroke-width="1"/>
<rect x="386.5" y="24.4" width="259.5" height="62.199999999999996" fill="none" stroke="#aaaaaa" stroke-width="1"/>
<rect x="386.5" y="111.5" width="259.5" height="62.30000000000001" fill="none" stroke="#aaaaaa" stroke-width="1"/>
<rect x="386.5" y="198.6" width="259.5" height="62.50000000000003" fill="none" stroke="#aaaaaa" stroke-width="1"/>
<rect x="386.5" y="285.6" width="259.5" height="62.89999999999998" fill="none" stroke="#aaaaaa" stroke-width="1"/>
<rect x="386.5" y="372.6" width="259.5" height="62.799999999999955" fill="none" stroke="#aaaaaa" stroke-width="1"/>
<rect x="386.5" y="460.0" width="259.5" height="62.799999999999955" fill="none" stroke="#aaaaaa" stroke-width="1"/>
<defs><clipPath id="cp_a"><rect x="43.7" y="23.599999999999998" width="261.6" height="63.8"/></clipPath><clipPath id="cp_c"><rect x="43.7" y="110.7" width="261.6" height="63.90000000000001"/></clipPath><clipPath id="cp_e"><rect x="43.7" y="197.79999999999998" width="261.6" height="64.10000000000002"/></clipPath><clipPath id="cp_g"><rect x="43.7" y="284.8" width="261.6" height="64.49999999999997"/></clipPath><clipPath id="cp_i"><rect x="43.7" y="371.8" width="261.6" height="64.39999999999995"/></clipPath><clipPath id="cp_k"><rect x="43.7" y="459.2" width="261.6" height="64.39999999999995"/></clipPath><clipPath id="cp_b"><rect x="385.7" y="23.599999999999998" width="261.1" height="63.8"/></clipPath><clipPath id="cp_d"><rect x="385.7" y="110.7" width="261.1" height="63.90000000000001"/></clipPath><clipPath id="cp_f"><rect x="385.7" y="197.79999999999998" width="261.1" height="64.10000000000002"/></clipPath><clipPath id="cp_h"><rect x="385.7" y="284.8" width="261.1" height="64.49999999999997"/></clipPath><clipPath id="cp_j"><rect x="385.7" y="371.8" width="261.1" height="64.39999999999995"/></clipPath><clipPath id="cp_l"><rect x="385.7" y="459.2" width="261.1" height="64.39999999999995"/></clipPath></defs>
<g clip-path="url(#cp_a)">
<path d="M44.5,85.3 L44.8,84.6 L45.0,84.0 L45.5,83.2 L46.0,82.9 L46.8,83.1 L47.2,84.0 L47.5,84.6 L47.8,85.4 L48.1,84.7 L48.4,83.5 L48.6,82.5 L48.9,81.6 L49.1,80.9 L49.4,80.2 L49.6,79.5 L49.9,78.8 L50.1,78.2 L50.4,77.7 L50.9,76.7 L51.4,75.9 L51.9,75.2 L52.4,74.6 L52.9,74.0 L53.4,73.6 L53.9,73.3 L54.6,72.9 L55.4,72.7 L56.1,72.6 L56.9,72.6 L57.6,72.7 L58.4,72.9 L59.1,73.2 L59.9,73.6 L60.6,74.1 L61.1,74.4 L61.6,74.8 L62.1,75.2 L62.6,75.5 L63.1,75.9 L63.6,76.4 L64.2,76.8 L64.7,77.2 L65.2,77.6 L65.7,78.0 L66.2,78.4 L66.7,78.8 L67.2,79.1 L67.7,79.5 L68.4,79.9 L69.2,80.2 L69.9,80.3 L70.7,80.3 L71.4,80.0 L72.2,79.6 L72.7,79.2 L73.2,78.8 L73.7,78.4 L74.2,77.9 L74.7,77.4 L75.2,76.9 L75.7,76.3 L76.2,75.7 L76.7,75.1 L77.2,74.4 L77.7,73.8 L78.2,73.1 L78.7,72.4 L79.2,71.7 L79.7,70.9 L80.2,70.2 L80.7,69.4 L81.2,68.6 L81.7,67.7 L82.2,66.9 L82.7,66.0 L83.2,65.1 L83.7,64.3 L84.2,63.4 L84.7,62.6 L85.2,61.7 L85.7,61.0 L86.2,60.2 L86.7,59.4 L87.2,58.6 L87.7,57.9 L88.2,57.2 L88.7,56.4 L89.2,55.7 L89.7,54.9 L90.2,54.2 L90.7,53.5 L91.2,52.8 L91.7,52.1 L92.2,51.4 L92.7,50.8 L93.2,50.2 L93.7,49.6 L94.2,49.0 L94.7,48.4 L95.2,47.9 L95.7,47.4 L96.2,46.9 L96.7,46.5 L97.2,46.0 L97.7,45.6 L98.2,45.1 L98.7,44.7 L99.2,44.3 L99.7,43.9 L100.2,43.6 L100.7,43.2 L101.2,42.8 L101.7,42.4 L102.2,42.0 L102.7,41.7 L103.2,41.3 L103.7,40.9 L104.2,40.6 L104.7,40.2 L105.2,39.9 L105.7,39.5 L106.4,39.0 L107.2,38.6 L107.9,38.1 L108.7,37.8 L109.4,37.4 L110.2,37.0 L110.9,36.7 L111.7,36.4 L112.4,36.1 L113.2,35.8 L113.9,35.5 L114.7,35.2 L115.4,35.0 L116.2,34.8 L116.9,34.5 L117.7,34.3 L118.4,34.2 L119.2,34.0 L119.9,33.8 L120.7,33.7 L121.4,33.6 L122.2,33.6 L122.9,33.5 L123.7,33.5 L124.4,33.4 L125.2,33.4 L125.9,33.4 L126.7,33.3 L127.4,33.3 L128.2,33.3 L128.9,33.3 L129.7,33.4 L130.4,33.4 L131.2,33.4 L131.9,33.5 L132.7,33.6 L133.4,33.7 L134.2,33.8 L134.9,34.0 L135.7,34.2 L136.4,34.4 L137.2,34.7 L137.9,34.9 L138.7,35.1 L139.4,35.4 L140.2,35.6 L140.9,35.9 L141.7,36.2 L142.4,36.5 L143.2,36.8 L143.9,37.1 L144.7,37.4 L145.4,37.6 L146.2,37.9 L146.9,38.2 L147.7,38.5 L148.4,38.8 L149.2,39.0 L149.9,39.3 L150.7,39.6 L151.4,39.8 L152.2,40.1 L152.9,40.3 L153.7,40.6 L154.4,40.8 L155.2,41.0 L155.9,41.2 L156.7,41.4 L157.4,41.6 L158.2,41.7 L158.9,41.9 L159.7,42.0 L160.4,42.1 L161.2,42.2 L161.9,42.3 L162.7,42.3 L163.4,42.3 L164.2,42.3 L164.9,42.3 L165.7,42.2 L166.4,42.1 L167.2,42.0 L167.9,41.9 L168.7,41.7 L169.4,41.6 L170.2,41.4 L170.9,41.2 L171.7,41.0 L172.4,40.8 L173.2,40.5 L173.9,40.3 L174.7,40.0 L175.4,39.7 L176.2,39.4 L176.9,39.1 L177.7,38.8 L178.4,38.4 L179.2,38.1 L179.9,37.7 L180.7,37.3 L181.4,37.0 L182.2,36.6 L182.9,36.2 L183.7,35.9 L184.4,35.5 L185.2,35.1 L185.9,34.7 L186.7,34.4 L187.4,34.0 L188.2,33.6 L188.9,33.3 L189.7,33.0 L190.4,32.7 L191.2,32.4 L191.9,32.1 L192.7,31.9 L193.4,31.6 L194.2,31.4 L194.9,31.2 L195.7,31.0 L196.4,30.8 L197.2,30.6 L197.9,30.4 L198.7,30.3 L199.4,30.2 L200.2,30.1 L200.9,30.0 L201.7,29.9 L202.4,29.9 L203.2,29.8 L203.9,29.8 L204.7,29.8 L205.4,29.7 L206.2,29.7 L206.9,29.8 L207.7,29.8 L208.4,29.8 L209.2,29.9 L209.9,30.0 L210.7,30.1 L211.4,30.2 L212.2,30.4 L212.9,30.5 L213.7,30.7 L214.4,30.8 L215.2,31.0 L215.9,31.2 L216.7,31.5 L217.4,31.7 L218.2,31.9 L218.9,32.2 L219.7,32.5 L220.4,32.8 L221.2,33.1 L221.9,33.5 L222.7,33.9 L223.4,34.2 L224.2,34.7 L224.9,35.1 L225.7,35.5 L226.4,35.9 L227.2,36.3 L227.9,36.8 L228.7,37.2 L229.4,37.7 L230.2,38.1 L230.7,38.5 L231.2,38.8 L231.7,39.2 L232.2,39.6 L232.7,40.0 L233.2,40.4 L233.7,40.8 L234.2,41.3 L234.7,41.8 L235.2,42.3 L235.7,42.8 L236.2,43.3 L236.7,43.9 L237.2,44.5 L237.7,45.1 L238.2,45.7 L238.7,46.3 L239.2,47.0 L239.7,47.6 L240.2,48.3 L240.7,48.9 L241.2,49.6 L241.7,50.3 L242.2,51.0 L242.7,51.7 L243.2,52.4 L243.7,53.1 L244.2,53.8 L244.7,54.5 L245.2,55.3 L245.7,56.0 L246.2,56.7 L246.7,57.5 L247.2,58.2 L247.7,59.0 L248.2,59.7 L248.7,60.5 L249.2,61.2 L249.7,62.0 L250.2,62.7 L250.7,63.5 L251.2,64.2 L251.7,64.9 L252.2,65.7 L252.7,66.4 L253.2,67.1 L253.7,67.8 L254.2,68.5 L254.7,69.2 L255.2,69.8 L255.7,70.5 L256.1,71.1 L256.6,71.8 L257.1,72.4 L257.6,73.0 L258.1,73.6 L258.6,74.2 L259.1,74.8 L259.6,75.3 L260.1,75.8 L260.6,76.2 L261.1,76.7 L261.6,77.0 L262.1,77.4 L262.9,77.8 L263.6,78.2 L264.4,78.5 L265.1,78.7 L265.9,78.8 L266.6,78.8 L267.4,78.7 L268.1,78.5 L268.9,78.2 L269.6,77.8 L270.4,77.3 L270.9,77.0 L271.4,76.6 L271.9,76.2 L272.4,75.9 L272.9,75.5 L273.4,75.1 L273.9,74.8 L274.4,74.4 L275.1,74.0 L275.9,73.5 L276.6,73.2 L277.4,72.9 L278.1,72.7 L278.9,72.5 L279.6,72.4 L280.4,72.5 L281.1,72.6 L281.9,72.8 L282.6,73.2 L283.4,73.6 L283.9,74.0 L284.4,74.5 L284.9,75.0 L285.4,75.6 L285.9,76.3 L286.4,77.0 L286.9,77.9 L287.4,78.8 L287.9,79.9 L288.1,80.4 L288.4,81.0 L288.6,81.7 L288.9,82.5 L289.1,83.3 L289.4,84.2 L289.6,85.2 L289.8,85.9 L290.1,85.0 L290.3,84.4 L290.8,83.6 L291.6,83.6 L292.1,84.3 L292.6,85.0 L293.0,85.9 L293.2,84.9 L293.5,83.9 L293.8,83.0 L294.0,82.2 L294.2,81.4 L294.5,80.7 L294.8,80.0 L295.0,79.4 L295.5,78.4 L296.0,77.5 L296.5,76.8 L297.0,76.2 L297.5,75.6 L298.0,75.1 L298.5,74.8 L299.0,74.4 L299.8,74.0 L300.5,73.6 L301.2,73.3 L302.0,73.1 L302.8,72.9 L303.5,72.8 L304.2,72.6 L304.6,72.6" fill="none" stroke="#1c1c1c" stroke-width="1.5" stroke-linejoin="round" stroke-linecap="round"/>
<line x1="69.70" y1="80.33" x2="70.60" y2="80.33" stroke="#e2b536" stroke-width="1.5" stroke-linecap="butt"/>
<line x1="127.70" y1="33.32" x2="128.60" y2="33.32" stroke="#e2b536" stroke-width="1.5" stroke-linecap="butt"/>
<line x1="205.95" y1="29.74" x2="206.85" y2="29.74" stroke="#e2b536" stroke-width="1.5" stroke-linecap="butt"/>
<line x1="266.45" y1="78.80" x2="267.35" y2="78.80" stroke="#e2b536" stroke-width="1.5" stroke-linecap="butt"/>
</g>
<g clip-path="url(#cp_c)">
<path d="M44.3,141.3 L44.5,141.9 L44.8,142.5 L45.0,143.1 L45.3,143.7 L45.5,144.2 L45.8,144.8 L46.0,145.4 L46.3,146.0 L46.5,146.6 L46.8,147.2 L47.0,147.8 L47.3,148.4 L47.5,148.9 L47.8,149.5 L48.2,149.5 L48.8,148.5 L49.2,147.6 L49.8,146.7 L50.2,145.8 L50.8,144.9 L51.2,144.1 L51.8,143.3 L52.2,142.5 L52.8,141.8 L53.2,141.1 L53.8,140.4 L54.2,139.7 L54.8,139.1 L55.2,138.5 L55.8,138.0 L56.2,137.4 L56.8,136.8 L57.2,136.3 L57.8,135.7 L58.2,135.1 L58.8,134.6 L59.2,134.0 L59.8,133.5 L60.2,132.9 L60.8,132.4 L61.2,131.9 L61.8,131.3 L62.2,130.8 L62.8,130.3 L63.2,129.8 L63.8,129.3 L64.2,128.8 L64.8,128.3 L65.2,127.9 L65.8,127.5 L66.2,127.1 L67.0,126.7 L67.8,126.3 L68.5,126.0 L69.2,125.7 L70.0,125.5 L70.6,125.6 L71.3,125.8 L72.1,126.0 L72.8,126.3 L73.6,126.7 L74.3,127.1 L75.1,127.6 L75.6,128.0 L76.1,128.4 L76.6,128.8 L77.1,129.2 L77.6,129.7 L78.1,130.1 L78.6,130.5 L79.1,131.0 L79.6,131.4 L80.1,131.9 L80.6,132.3 L81.1,132.8 L81.6,133.2 L82.1,133.7 L82.6,134.1 L83.1,134.6 L83.6,135.0 L84.1,135.5 L84.6,135.9 L85.1,136.4 L85.6,136.8 L86.1,137.3 L86.6,137.8 L87.1,138.2 L87.6,138.7 L88.1,139.2 L88.6,139.7 L89.1,140.2 L89.6,140.7 L90.1,141.2 L90.6,141.7 L91.1,142.2 L91.6,142.7 L92.1,143.1 L92.6,143.6 L93.1,144.1 L93.6,144.5 L94.1,144.9 L94.6,145.4 L95.1,145.8 L95.6,146.2 L96.1,146.7 L96.6,147.1 L97.1,147.5 L97.6,147.9 L98.1,148.3 L98.6,148.7 L99.1,149.1 L99.6,149.5 L100.1,149.9 L100.6,150.3 L101.1,150.6 L101.6,151.0 L102.1,151.3 L102.6,151.7 L103.3,152.2 L104.1,152.6 L104.8,153.1 L105.6,153.5 L106.3,153.9 L107.1,154.3 L107.8,154.7 L108.6,155.1 L109.3,155.5 L110.1,155.8 L110.8,156.2 L111.6,156.5 L112.3,156.8 L113.1,157.1 L113.8,157.3 L114.6,157.6 L115.3,157.8 L116.1,158.0 L116.8,158.2 L117.6,158.4 L118.3,158.5 L119.1,158.7 L119.8,158.8 L120.6,158.9 L121.3,159.0 L122.1,159.1 L122.8,159.1 L123.6,159.2 L124.3,159.2 L125.1,159.2 L125.8,159.3 L126.6,159.3 L127.3,159.3 L128.1,159.3 L128.8,159.2 L129.6,159.2 L130.3,159.1 L131.1,159.0 L131.8,158.9 L132.6,158.8 L133.3,158.6 L134.1,158.5 L134.8,158.3 L135.6,158.1 L136.3,158.0 L137.1,157.8 L137.8,157.6 L138.6,157.5 L139.3,157.3 L140.1,157.1 L140.8,156.9 L141.6,156.7 L142.3,156.5 L143.1,156.3 L143.8,156.0 L144.6,155.7 L145.3,155.4 L146.1,155.1 L146.8,154.7 L147.6,154.3 L148.3,153.9 L149.1,153.5 L149.8,153.1 L150.6,152.7 L151.3,152.3 L152.1,151.8 L152.8,151.4 L153.6,150.9 L154.3,150.5 L155.1,150.0 L155.8,149.6 L156.6,149.1 L157.3,148.6 L158.1,148.1 L158.6,147.8 L159.1,147.4 L159.6,147.1 L160.1,146.7 L160.6,146.4 L161.1,146.0 L161.6,145.7 L162.1,145.3 L162.6,144.9 L163.1,144.6 L163.6,144.2 L164.1,143.9 L164.6,143.6 L165.1,143.2 L165.6,142.9 L166.1,142.5 L166.6,142.2 L167.1,141.8 L167.6,141.5 L168.1,141.1 L168.6,140.8 L169.1,140.4 L169.6,140.1 L170.1,139.7 L170.6,139.3 L171.1,139.0 L171.6,138.6 L172.1,138.3 L172.6,137.9 L173.1,137.6 L173.6,137.2 L174.1,136.9 L174.6,136.6 L175.1,136.2 L175.8,135.7 L176.6,135.2 L177.3,134.8 L178.1,134.3 L178.8,133.9 L179.6,133.4 L180.3,133.0 L181.1,132.6 L181.8,132.2 L182.6,131.8 L183.3,131.4 L184.1,131.0 L184.8,130.7 L185.6,130.3 L186.3,130.0 L187.1,129.6 L187.8,129.3 L188.6,129.0 L189.3,128.8 L190.1,128.6 L190.8,128.4 L191.6,128.2 L192.3,128.0 L193.1,127.8 L193.8,127.6 L194.6,127.4 L195.3,127.2 L196.1,127.0 L196.8,126.9 L197.6,126.7 L198.3,126.5 L199.1,126.4 L199.8,126.3 L200.6,126.1 L201.3,126.0 L202.1,126.0 L202.8,125.9 L203.6,125.8 L204.3,125.8 L205.1,125.8 L205.8,125.7 L206.6,125.7 L207.3,125.7 L208.1,125.8 L208.8,125.8 L209.6,125.9 L210.3,125.9 L211.1,126.0 L211.8,126.1 L212.6,126.2 L213.3,126.3 L214.1,126.4 L214.8,126.6 L215.6,126.8 L216.3,127.0 L217.1,127.2 L217.8,127.4 L218.6,127.6 L219.3,127.9 L220.1,128.1 L220.8,128.4 L221.6,128.7 L222.3,129.0 L223.1,129.3 L223.8,129.7 L224.6,130.0 L225.3,130.4 L226.1,130.7 L226.8,131.1 L227.6,131.5 L228.3,131.9 L229.1,132.4 L229.8,132.8 L230.6,133.2 L231.3,133.7 L232.1,134.1 L232.8,134.5 L233.6,134.8 L234.3,135.2 L235.1,135.5 L235.8,135.9 L236.6,136.3 L237.3,136.7 L237.8,137.1 L238.3,137.4 L238.8,137.8 L239.3,138.2 L239.8,138.6 L240.3,139.0 L240.8,139.4 L241.3,139.8 L241.8,140.2 L242.3,140.6 L242.8,141.1 L243.3,141.5 L243.8,141.9 L244.3,142.3 L244.8,142.8 L245.3,143.2 L245.8,143.7 L246.3,144.1 L246.8,144.6 L247.3,145.0 L247.8,145.5 L248.3,145.9 L248.8,146.4 L249.3,146.9 L249.8,147.3 L250.3,147.8 L250.8,148.2 L251.3,148.7 L251.8,149.1 L252.3,149.5 L252.8,150.0 L253.3,150.4 L253.8,150.8 L254.3,151.3 L254.8,151.7 L255.3,152.1 L255.8,152.5 L256.4,152.9 L256.9,153.3 L257.4,153.7 L257.9,154.1 L258.4,154.5 L258.9,154.8 L259.4,155.2 L259.9,155.6 L260.4,155.9 L260.9,156.3 L261.6,156.7 L262.4,157.2 L263.1,157.6 L263.9,157.9 L264.6,158.2 L265.4,158.5 L266.1,158.7 L266.9,158.8 L267.6,158.7 L268.4,158.6 L269.1,158.4 L269.9,158.2 L270.6,158.0 L271.4,157.7 L272.1,157.3 L272.6,156.9 L273.1,156.5 L273.6,156.0 L274.1,155.4 L274.6,154.9 L275.1,154.3 L275.6,153.8 L276.1,153.2 L276.6,152.7 L277.1,152.2 L277.6,151.6 L278.1,151.0 L278.6,150.5 L279.1,149.9 L279.6,149.3 L280.1,148.7 L280.6,148.1 L281.1,147.5 L281.6,146.9 L282.1,146.3 L282.6,145.7 L283.1,145.1 L283.6,144.5 L284.1,143.9 L284.6,143.3 L285.1,142.7 L285.6,142.0 L286.1,141.3 L286.6,140.6 L287.1,139.9 L287.6,139.1 L288.1,138.4 L288.6,137.5 L289.1,136.7 L289.6,135.8 L289.9,136.1 L290.4,137.0 L290.9,138.0 L291.4,138.9 L291.9,139.9 L292.4,140.8 L292.9,141.8 L293.2,141.4 L293.8,140.3 L294.2,139.3 L294.8,138.4 L295.2,137.6 L295.8,136.8 L296.2,136.0 L296.8,135.4 L297.2,134.7 L297.8,134.1 L298.2,133.5 L298.8,133.0 L299.2,132.4 L299.8,131.9 L300.2,131.5 L300.8,131.0 L301.2,130.6 L301.8,130.2 L302.2,129.8 L302.8,129.5 L303.5,129.0 L304.2,128.6 L304.6,128.4" fill="none" stroke="#1c1c1c" stroke-width="1.5" stroke-linejoin="round" stroke-linecap="round"/>
<line x1="69.65" y1="125.50" x2="70.55" y2="125.50" stroke="#e2b536" stroke-width="1.5" stroke-linecap="butt"/>
<line x1="127.65" y1="159.25" x2="128.55" y2="159.25" stroke="#e2b536" stroke-width="1.5" stroke-linecap="butt"/>
<line x1="205.90" y1="125.73" x2="206.80" y2="125.73" stroke="#e2b536" stroke-width="1.5" stroke-linecap="butt"/>
<line x1="266.40" y1="158.80" x2="267.30" y2="158.80" stroke="#e2b536" stroke-width="1.5" stroke-linecap="butt"/>
</g>
<g clip-path="url(#cp_e)">
<line x1="44.9" y1="199.0" x2="44.9" y2="261" stroke="#444" stroke-width="1.1" stroke-dasharray="1.1 5.2"/>
<line x1="48.2" y1="201.8" x2="48.2" y2="261" stroke="#444" stroke-width="1.1" stroke-dasharray="1.1 5.2"/>
<line x1="289.9" y1="199.0" x2="289.9" y2="261" stroke="#444" stroke-width="1.1" stroke-dasharray="1.1 5.2"/>
<line x1="293.1" y1="201.8" x2="293.1" y2="261" stroke="#444" stroke-width="1.1" stroke-dasharray="1.1 5.2"/>
<path d="M62.3,195.0 L62.5,195.9 L62.8,196.8 L63.0,197.6 L63.3,198.4 L63.5,199.1 L63.8,199.8 L64.0,200.5 L64.3,201.1 L64.5,201.7 L64.8,202.3 L65.0,203.0 L65.3,203.6 L65.5,204.3 L65.8,205.1 L66.0,206.0 L66.3,206.9 L66.5,208.0 L66.8,209.1 L67.0,210.3 L67.3,211.6 L67.5,212.9 L67.8,214.3 L68.0,215.7 L68.3,217.3 L68.5,219.0 L68.8,220.7 L69.0,222.5 L69.3,224.5 L69.5,226.7 L69.8,228.8 L70.0,230.7 L70.3,232.4 L70.5,234.1 L70.8,235.7 L71.0,237.5 L71.3,239.3 L71.5,241.2 L71.8,243.0 L72.0,244.6 L72.3,246.0 L72.5,247.3 L72.8,248.6 L73.0,249.8 L73.3,250.9 L73.5,251.9 L73.8,252.8 L74.0,253.7 L74.3,254.5 L74.5,255.2 L74.8,256.0 L75.0,256.7 L75.3,257.3 L75.5,257.9 L75.8,258.5 L76.3,259.4 L76.8,260.2 L77.3,260.8 L77.8,261.3 L78.5,261.7 L79.3,261.9 L79.6,261.9" fill="none" stroke="#1c1c1c" stroke-width="1.5" stroke-linejoin="round" stroke-linecap="round"/>
<path d="M79.6,261.9 L80.3,261.6 L81.1,261.3 L81.8,261.0 L82.6,260.7 L83.3,260.4 L84.1,260.0 L84.8,259.7 L85.6,259.4 L86.3,259.0 L87.1,258.6 L87.8,258.2 L88.6,257.9 L89.3,257.4 L90.1,257.0 L90.8,256.6 L91.6,256.2 L92.3,255.8 L93.1,255.3 L93.8,254.9 L94.6,254.5 L95.3,254.0 L96.1,253.6 L96.8,253.2 L97.6,252.7 L98.3,252.2 L99.1,251.8 L99.8,251.3 L100.3,250.9 L100.8,250.6 L101.3,250.3 L101.8,249.9 L102.3,249.5 L102.8,249.2 L103.3,248.8 L103.8,248.4 L104.3,248.1 L104.8,247.7 L105.3,247.3 L105.8,246.9 L106.3,246.5 L106.8,246.1 L107.3,245.7 L107.8,245.4 L108.3,245.0 L108.8,244.6 L109.3,244.2 L109.8,243.8 L110.3,243.4 L110.8,243.1 L111.3,242.7 L111.8,242.3 L112.3,241.9 L112.8,241.6 L113.3,241.2 L113.8,240.8 L114.3,240.4 L114.8,240.1 L115.3,239.7 L115.8,239.3 L116.3,238.9 L116.8,238.6 L117.3,238.2 L117.8,237.8 L118.3,237.4 L118.8,237.1 L119.3,236.7 L119.8,236.3 L120.3,235.9 L120.8,235.6 L121.3,235.2 L121.8,234.8 L122.3,234.5 L122.8,234.1 L123.3,233.7 L123.8,233.3 L124.3,233.0 L124.8,232.6 L125.3,232.2 L125.8,231.9 L126.3,231.5 L126.8,231.1 L127.3,230.8 L127.8,230.4 L128.3,230.0 L128.8,229.6 L129.3,229.3 L129.8,228.9 L130.3,228.5 L130.8,228.1 L131.3,227.8 L131.8,227.4 L132.3,227.0 L132.8,226.6 L133.3,226.2 L133.8,225.9 L134.3,225.5 L134.8,225.1 L135.3,224.7 L135.8,224.4 L136.3,224.0 L136.8,223.6 L137.3,223.2 L137.8,222.8 L138.3,222.4 L138.8,222.1 L139.3,221.7 L139.8,221.3 L140.3,220.9 L140.8,220.5 L141.3,220.1 L141.8,219.7 L142.3,219.3 L142.8,218.9 L143.3,218.5 L143.8,218.1 L144.3,217.7 L144.8,217.3 L145.3,216.9 L145.8,216.5 L146.3,216.1 L146.8,215.7 L147.3,215.3 L147.8,214.9 L148.3,214.6 L148.8,214.2 L149.3,213.8 L149.8,213.4 L150.3,213.1 L150.8,212.7 L151.3,212.4 L151.8,212.1 L152.6,211.6 L153.3,211.1 L154.1,210.7 L154.8,210.3 L155.6,209.9 L156.3,209.5 L157.1,209.1 L157.8,208.8 L158.6,208.5 L159.3,208.2 L160.1,208.0 L160.8,207.7 L161.6,207.5 L162.3,207.4 L163.1,207.2 L163.8,207.1 L164.6,207.0 L165.3,206.9 L166.1,206.9 L166.8,206.9 L167.6,206.9 L168.3,206.9 L169.1,207.0 L169.8,207.0 L170.6,207.2 L171.3,207.3 L172.1,207.5 L172.8,207.7 L173.6,207.9 L174.3,208.2 L175.1,208.5 L175.8,208.8 L176.6,209.1 L177.3,209.5 L178.1,209.9 L178.8,210.2 L179.6,210.6 L180.3,211.1 L181.1,211.5 L181.8,212.0 L182.6,212.5 L183.1,212.8 L183.6,213.2 L184.1,213.5 L184.6,213.9 L185.1,214.2 L185.6,214.6 L186.1,214.9 L186.6,215.3 L187.1,215.6 L187.6,216.0 L188.1,216.3 L188.6,216.7 L189.1,217.0 L189.6,217.4 L190.1,217.7 L190.6,218.1 L191.1,218.4 L191.6,218.8 L192.1,219.2 L192.6,219.6 L193.1,219.9 L193.6,220.3 L194.1,220.7 L194.6,221.1 L195.1,221.5 L195.6,221.9 L196.1,222.3 L196.6,222.6 L197.1,223.0 L197.6,223.4 L198.1,223.8 L198.6,224.1 L199.1,224.5 L199.6,224.9 L200.1,225.3 L200.6,225.6 L201.1,226.0 L201.6,226.4 L202.1,226.8 L202.6,227.1 L203.1,227.5 L203.6,227.9 L204.1,228.3 L204.6,228.6 L205.1,229.0 L205.6,229.4 L206.1,229.8 L206.6,230.1 L207.1,230.5 L207.6,230.9 L208.1,231.3 L208.6,231.6 L209.1,232.0 L209.6,232.4 L210.1,232.8 L210.6,233.1 L211.1,233.5 L211.6,233.9 L212.1,234.3 L212.6,234.7 L213.1,235.0 L213.6,235.4 L214.1,235.8 L214.6,236.2 L215.1,236.6 L215.6,236.9 L216.1,237.3 L216.6,237.7 L217.1,238.1 L217.6,238.5 L218.1,238.9 L218.6,239.3 L219.1,239.6 L219.6,240.0 L220.1,240.4 L220.6,240.8 L221.1,241.2 L221.6,241.6 L222.1,242.0 L222.6,242.3 L223.1,242.7 L223.6,243.1 L224.1,243.5 L224.6,243.9 L225.1,244.2 L225.6,244.6 L226.1,245.0 L226.6,245.4 L227.1,245.8 L227.6,246.2 L228.1,246.5 L228.6,246.9 L229.1,247.3 L229.6,247.6 L230.1,248.0 L230.6,248.3 L231.1,248.7 L231.8,249.1 L232.6,249.6 L233.3,250.0 L234.1,250.5 L234.8,250.9 L235.6,251.3 L236.3,251.7 L237.1,252.0 L237.8,252.4 L238.6,252.8 L239.3,253.1 L240.1,253.5 L240.8,253.8 L241.6,254.2 L242.3,254.6 L243.1,254.9 L243.8,255.3 L244.6,255.6 L245.3,256.0 L246.1,256.3 L246.8,256.7 L247.6,257.1 L248.3,257.4 L249.1,257.8 L249.8,258.2 L250.6,258.6 L251.3,258.9 L252.1,259.3 L252.8,259.6 L253.6,259.8 L254.3,259.9 L255.1,259.9 L255.8,259.8 L256.6,259.6 L257.4,259.3 L257.9,258.9 L258.4,258.5 L258.9,257.9 L259.4,257.2 L259.9,256.3 L260.4,255.3 L260.6,254.7 L260.9,254.1 L261.1,253.5 L261.4,252.8 L261.6,252.0 L261.9,251.2 L262.1,250.4 L262.4,249.5 L262.6,248.6 L262.9,247.7 L263.1,246.7 L263.4,245.6 L263.6,244.6 L263.9,243.5 L264.1,242.4 L264.4,241.2 L264.6,240.0 L264.9,238.8 L265.1,237.6 L265.4,236.4 L265.6,235.1 L265.9,233.8 L266.1,232.5 L266.4,231.2 L266.6,229.8 L266.9,228.5 L267.1,227.1 L267.4,225.8 L267.6,224.4 L267.9,223.1 L268.1,221.8 L268.4,220.5 L268.6,219.2 L268.9,217.9 L269.1,216.7 L269.4,215.5 L269.6,214.4 L269.9,213.2 L270.1,212.2 L270.4,211.1 L270.6,210.2 L270.9,209.2 L271.1,208.3 L271.4,207.4 L271.6,206.6 L271.9,205.8 L272.1,205.1 L272.4,204.4 L272.6,203.6 L272.9,203.0 L273.1,202.3 L273.4,201.7 L273.6,201.1 L274.1,200.1 L274.6,199.1 L275.1,198.1 L275.6,197.2 L276.1,196.3 L276.5,195.5" fill="none" stroke="#1c1c1c" stroke-width="1.5" stroke-linejoin="round" stroke-linecap="round"/>
<path d="M299.8,195.0 L300.1,196.0 L300.3,196.9 L300.6,197.7 L300.8,198.5 L301.1,199.1 L301.3,199.7 L301.6,200.3 L301.8,200.9 L302.1,201.4 L302.3,202.0 L302.6,202.6 L302.8,203.2 L303.1,203.8 L303.3,204.4 L303.6,205.0 L303.8,205.6 L304.1,206.2 L304.3,206.8 L304.6,207.4 L304.8,208.0 L305.0,208.5" fill="none" stroke="#1c1c1c" stroke-width="1.5" stroke-linejoin="round" stroke-linecap="round"/>
<line x1="69.60" y1="230.70" x2="70.50" y2="230.70" stroke="#e2b536" stroke-width="1.5" stroke-linecap="butt"/>
<line x1="128.15" y1="229.82" x2="129.05" y2="229.82" stroke="#e2b536" stroke-width="1.5" stroke-linecap="butt"/>
<line x1="205.90" y1="229.94" x2="206.80" y2="229.94" stroke="#e2b536" stroke-width="1.5" stroke-linecap="butt"/>
<line x1="266.15" y1="229.83" x2="267.05" y2="229.83" stroke="#e2b536" stroke-width="1.5" stroke-linecap="butt"/>
</g>
<g clip-path="url(#cp_g)">
<path d="M44.3,301.9 L45.0,302.4 L45.5,302.7 L46.0,303.1 L46.5,303.4 L47.0,303.9 L47.5,304.3 L48.0,304.7 L48.8,305.1 L49.5,305.5 L50.3,305.7 L51.0,305.8 L51.8,306.0 L52.5,306.1 L53.3,306.2 L54.0,306.2 L54.8,306.2 L55.5,306.3 L56.3,306.3 L57.0,306.3 L57.8,306.3 L58.5,306.3 L59.3,306.4 L60.0,306.4 L60.8,306.5 L61.5,306.5 L62.3,306.5 L63.0,306.6 L63.8,306.6 L64.5,306.6 L65.3,306.7 L66.0,306.7 L66.8,306.7 L67.5,306.7 L68.3,306.8 L69.0,306.8 L69.8,306.8 L70.5,306.8 L71.3,306.8 L72.0,306.8 L72.8,306.8 L73.5,306.8 L74.3,306.8 L75.0,306.8 L75.8,306.8 L76.5,306.8 L77.3,306.8 L78.0,306.8 L78.8,306.8 L79.5,306.8 L80.3,306.8 L81.0,306.8 L81.8,306.8 L82.5,306.8 L83.3,306.8 L84.0,306.8 L84.8,306.8 L85.5,306.8 L86.3,306.8 L87.0,306.8 L87.8,306.8 L88.5,306.9 L89.3,306.9 L90.0,307.1 L90.8,307.2 L91.5,307.3 L92.3,307.5 L93.0,307.6 L93.8,307.8 L94.5,308.0 L95.3,308.2 L96.0,308.4 L96.8,308.6 L97.5,308.8 L98.3,309.0 L99.0,309.3 L99.8,309.5 L100.5,309.8 L101.3,310.1 L102.0,310.3 L102.8,310.6 L103.5,310.8 L104.3,311.1 L105.0,311.4 L105.8,311.6 L106.5,311.9 L107.3,312.1 L108.0,312.4 L108.8,312.6 L109.5,312.8 L110.3,313.1 L111.0,313.3 L111.8,313.5 L112.5,313.7 L113.3,313.9 L114.0,314.0 L114.8,314.1 L115.5,314.3 L116.3,314.4 L117.0,314.5 L117.8,314.6 L118.5,314.7 L119.3,314.8 L120.0,314.8 L120.8,314.8 L121.5,314.9 L122.3,314.9 L123.0,314.9 L123.8,315.0 L124.5,315.0 L125.3,315.0 L126.0,315.0 L126.8,315.1 L127.5,315.1 L128.3,315.1 L129.1,315.1 L129.8,315.2 L130.6,315.2 L131.3,315.2 L132.1,315.2 L132.8,315.3 L133.6,315.3 L134.3,315.3 L135.1,315.4 L135.8,315.4 L136.6,315.5 L137.3,315.5 L138.1,315.6 L138.8,315.7 L139.6,315.8 L140.3,315.9 L141.1,316.0 L141.8,316.2 L142.6,316.3 L143.3,316.5 L144.1,316.6 L144.8,316.8 L145.6,317.0 L146.3,317.2 L147.1,317.3 L147.8,317.5 L148.6,317.8 L149.3,318.0 L150.1,318.2 L150.8,318.4 L151.6,318.7 L152.3,318.9 L153.1,319.1 L153.8,319.3 L154.6,319.5 L155.3,319.8 L156.1,320.0 L156.8,320.1 L157.6,320.3 L158.3,320.4 L159.1,320.5 L159.8,320.6 L160.6,320.6 L161.3,320.7 L162.1,320.7 L162.8,320.8 L163.6,320.8 L164.3,320.8 L165.1,320.8 L165.8,320.8 L166.6,320.8 L167.3,320.9 L168.1,320.9 L168.8,320.9 L169.6,320.9 L170.3,320.9 L171.1,321.0 L171.8,321.1 L172.6,321.1 L173.3,321.2 L174.1,321.3 L174.8,321.4 L175.6,321.5 L176.3,321.6 L177.1,321.7 L177.8,321.8 L178.6,322.0 L179.3,322.2 L180.1,322.4 L180.8,322.6 L181.6,322.9 L182.3,323.2 L183.1,323.5 L183.8,323.7 L184.6,324.0 L185.3,324.2 L186.1,324.5 L186.8,324.8 L187.6,325.0 L188.3,325.3 L189.1,325.5 L189.8,325.7 L190.6,326.0 L191.3,326.2 L192.1,326.4 L192.8,326.6 L193.6,326.8 L194.3,327.0 L195.1,327.1 L195.8,327.2 L196.6,327.3 L197.3,327.4 L198.1,327.4 L198.8,327.4 L199.6,327.4 L200.3,327.4 L201.1,327.4 L201.8,327.4 L202.6,327.4 L203.3,327.4 L204.1,327.4 L204.8,327.4 L205.6,327.4 L206.3,327.4 L207.1,327.4 L207.8,327.4 L208.6,327.4 L209.3,327.5 L210.1,327.5 L210.8,327.5 L211.6,327.6 L212.3,327.6 L213.1,327.7 L213.8,327.7 L214.6,327.8 L215.3,327.8 L216.1,327.9 L216.8,328.0 L217.6,328.1 L218.3,328.3 L219.1,328.4 L219.8,328.7 L220.6,328.9 L221.3,329.2 L222.1,329.4 L222.8,329.6 L223.6,329.9 L224.3,330.1 L225.1,330.3 L225.8,330.5 L226.6,330.8 L227.3,331.0 L228.1,331.2 L228.8,331.5 L229.6,331.7 L230.3,332.0 L231.1,332.2 L231.8,332.5 L232.6,332.7 L233.3,333.0 L234.1,333.2 L234.8,333.4 L235.6,333.7 L236.3,333.9 L237.1,334.1 L237.8,334.4 L238.6,334.6 L239.3,334.8 L240.1,335.0 L240.8,335.2 L241.6,335.4 L242.3,335.5 L243.1,335.7 L243.8,335.8 L244.6,335.9 L245.3,336.0 L246.1,336.1 L246.8,336.2 L247.6,336.2 L248.3,336.3 L249.1,336.3 L249.8,336.3 L250.6,336.4 L251.3,336.4 L252.1,336.4 L252.8,336.4 L253.6,336.4 L254.3,336.4 L255.1,336.4 L255.8,336.4 L256.6,336.4 L257.3,336.4 L258.1,336.4 L258.8,336.4 L259.6,336.4 L260.3,336.4 L261.1,336.4 L261.8,336.4 L262.6,336.4 L263.3,336.4 L264.1,336.4 L264.8,336.4 L265.6,336.4 L266.3,336.4 L267.1,336.4 L267.8,336.4 L268.6,336.4 L269.3,336.4 L270.1,336.5 L270.8,336.5 L271.6,336.5 L272.3,336.6 L273.1,336.6 L273.8,336.6 L274.6,336.7 L275.3,336.7 L276.1,336.7 L276.8,336.8 L277.6,336.8 L278.3,336.9 L279.1,336.9 L279.8,336.9 L280.6,337.0 L281.3,337.0 L282.1,337.1 L282.8,337.1 L283.6,337.2 L284.3,337.3 L285.1,337.3 L285.8,337.4 L286.6,337.5 L287.3,337.7 L288.1,338.0 L288.6,338.4 L289.1,338.8 L289.6,339.2 L290.1,339.7 L290.6,340.1 L291.3,340.4 L292.1,340.6 L292.8,340.8 L293.6,341.3 L294.1,342.0 L294.6,342.6 L295.1,343.2 L295.6,343.6 L296.3,344.0 L297.1,344.2 L297.8,344.3 L298.6,344.4 L299.3,344.5 L300.1,344.5 L300.8,344.6 L301.6,344.6 L302.3,344.6 L303.1,344.7 L303.8,344.7 L304.4,344.7" fill="none" stroke="#1c1c1c" stroke-width="1.5" stroke-linejoin="round" stroke-linecap="round"/>
<line x1="69.85" y1="306.80" x2="70.75" y2="306.80" stroke="#e2b536" stroke-width="1.5" stroke-linecap="butt"/>
<line x1="127.60" y1="315.10" x2="128.50" y2="315.10" stroke="#e2b536" stroke-width="1.5" stroke-linecap="butt"/>
<line x1="205.85" y1="327.40" x2="206.75" y2="327.40" stroke="#e2b536" stroke-width="1.5" stroke-linecap="butt"/>
<line x1="266.35" y1="336.40" x2="267.25" y2="336.40" stroke="#e2b536" stroke-width="1.5" stroke-linecap="butt"/>
</g>
<g clip-path="url(#cp_i)">
<path d="M64.0,440.0 L64.2,437.7 L64.5,435.4 L64.8,433.0 L65.0,430.4 L65.2,427.9 L65.5,425.3 L65.8,422.8 L66.0,420.3 L66.2,417.9 L66.5,415.5 L66.8,413.1 L67.0,410.7 L67.2,408.4 L67.5,406.1 L67.8,403.8 L68.0,401.3 L68.2,398.9 L68.5,396.6 L68.8,394.8 L69.0,393.7 L69.2,392.7 L69.5,391.9 L69.8,391.3 L70.2,391.0 L70.8,392.0 L71.0,392.9 L71.2,393.9 L71.5,395.1 L71.8,397.0 L72.0,399.3 L72.2,401.8 L72.5,404.3 L72.8,406.6 L73.0,409.1 L73.2,411.7 L73.5,414.3 L73.8,416.9 L74.0,419.4 L74.2,421.7 L74.5,423.8 L74.8,425.9 L75.0,427.9 L75.2,429.9 L75.5,432.0 L75.8,434.1 L76.0,436.3 L76.2,438.6 L76.4,440.0" fill="none" stroke="#1c1c1c" stroke-width="1.5" stroke-linejoin="round" stroke-linecap="round"/>
<path d="M87.2,437.0 L87.7,436.1 L88.2,435.3 L88.7,434.5 L89.2,433.8 L89.7,433.0 L90.2,432.2 L90.7,431.5 L91.2,430.7 L91.7,429.9 L92.2,429.1 L92.7,428.3 L93.2,427.5 L93.7,426.7 L94.2,425.9 L94.7,425.1 L95.2,424.3 L95.7,423.5 L96.2,422.7 L96.7,421.9 L97.2,421.1 L97.7,420.3 L98.2,419.5 L98.7,418.6 L99.2,417.8 L99.7,417.0 L100.2,416.2 L100.7,415.4 L101.2,414.6 L101.7,413.8 L102.2,413.0 L102.7,412.3 L103.2,411.5 L103.7,410.8 L104.2,410.0 L104.7,409.3 L105.2,408.6 L105.7,407.9 L106.2,407.2 L106.7,406.5 L107.2,405.8 L107.7,405.1 L108.2,404.4 L108.7,403.8 L109.2,403.1 L109.7,402.4 L110.2,401.8 L110.7,401.1 L111.2,400.5 L111.7,399.9 L112.2,399.3 L112.7,398.8 L113.2,398.2 L113.7,397.7 L114.2,397.2 L114.7,396.7 L115.2,396.2 L115.7,395.8 L116.2,395.3 L116.7,394.9 L117.2,394.5 L117.7,394.2 L118.2,393.8 L118.7,393.5 L119.5,393.0 L120.2,392.6 L121.0,392.2 L121.7,391.9 L122.5,391.7 L123.2,391.5 L124.0,391.3 L124.7,391.1 L125.5,391.0 L126.2,390.9 L127.0,390.9 L127.7,390.9 L128.4,390.9 L129.2,390.9 L129.9,391.0 L130.7,391.1 L131.4,391.2 L132.2,391.3 L132.9,391.5 L133.7,391.8 L134.4,392.1 L135.2,392.4 L135.9,392.8 L136.7,393.3 L137.4,393.8 L137.9,394.2 L138.4,394.5 L138.9,394.9 L139.4,395.3 L139.9,395.7 L140.4,396.2 L140.9,396.7 L141.4,397.1 L141.9,397.6 L142.4,398.1 L142.9,398.6 L143.4,399.2 L143.9,399.7 L144.4,400.3 L144.9,400.9 L145.4,401.4 L145.9,402.0 L146.4,402.6 L146.9,403.2 L147.4,403.8 L147.9,404.4 L148.4,405.0 L148.9,405.6 L149.4,406.2 L149.9,406.8 L150.4,407.4 L150.9,408.0 L151.4,408.6 L151.9,409.1 L152.4,409.7 L152.9,410.2 L153.4,410.8 L153.9,411.3 L154.4,411.9 L154.9,412.4 L155.4,412.9 L155.9,413.4 L156.4,413.9 L156.9,414.4 L157.4,414.9 L157.9,415.4 L158.4,415.8 L158.9,416.3 L159.4,416.7 L159.9,417.1 L160.4,417.5 L160.9,417.9 L161.4,418.2 L162.2,418.7 L162.9,419.1 L163.7,419.4 L164.4,419.6 L165.2,419.8 L165.9,419.8 L166.7,419.9 L167.4,419.8 L168.2,419.8 L168.9,419.6 L169.7,419.4 L170.4,419.1 L171.2,418.7 L171.9,418.3 L172.7,417.8 L173.2,417.4 L173.7,417.0 L174.2,416.6 L174.7,416.2 L175.2,415.8 L175.7,415.3 L176.2,414.8 L176.7,414.3 L177.2,413.8 L177.7,413.2 L178.2,412.7 L178.7,412.1 L179.2,411.6 L179.7,411.0 L180.2,410.4 L180.7,409.8 L181.2,409.2 L181.7,408.6 L182.2,408.0 L182.7,407.4 L183.2,406.8 L183.7,406.1 L184.2,405.5 L184.7,404.9 L185.2,404.3 L185.7,403.7 L186.2,403.1 L186.7,402.6 L187.2,402.0 L187.7,401.4 L188.2,400.9 L188.7,400.4 L189.2,399.8 L189.7,399.3 L190.2,398.8 L190.7,398.4 L191.2,397.9 L191.7,397.4 L192.2,397.0 L192.7,396.5 L193.2,396.1 L193.7,395.6 L194.2,395.2 L194.7,394.8 L195.2,394.5 L195.7,394.1 L196.2,393.8 L196.9,393.3 L197.7,392.9 L198.4,392.5 L199.2,392.2 L199.9,391.9 L200.7,391.7 L201.4,391.5 L202.2,391.3 L202.9,391.2 L203.7,391.1 L204.4,391.0 L205.2,391.0 L205.9,391.0 L206.7,391.0 L207.4,391.0 L208.2,391.1 L208.9,391.2 L209.7,391.3 L210.4,391.4 L211.2,391.6 L211.9,391.9 L212.7,392.2 L213.4,392.6 L214.2,393.0 L214.9,393.4 L215.7,393.9 L216.2,394.3 L216.7,394.7 L217.2,395.1 L217.7,395.5 L218.2,395.9 L218.7,396.3 L219.2,396.8 L219.7,397.2 L220.2,397.7 L220.7,398.1 L221.2,398.6 L221.7,399.1 L222.2,399.6 L222.7,400.1 L223.2,400.6 L223.7,401.1 L224.2,401.7 L224.7,402.3 L225.2,402.8 L225.7,403.4 L226.2,404.1 L226.7,404.7 L227.2,405.3 L227.7,406.0 L228.2,406.6 L228.7,407.3 L229.2,408.0 L229.7,408.6 L230.2,409.3 L230.7,410.0 L231.2,410.6 L231.7,411.3 L232.2,411.9 L232.7,412.6 L233.2,413.2 L233.7,413.9 L234.2,414.6 L234.7,415.2 L235.2,415.9 L235.7,416.6 L236.2,417.4 L236.7,418.1 L237.2,418.8 L237.7,419.6 L238.2,420.3 L238.7,421.1 L239.2,421.8 L239.7,422.6 L240.2,423.3 L240.7,424.0 L241.2,424.7 L241.7,425.4 L242.2,426.1 L242.7,426.8 L243.2,427.5 L243.7,428.2 L244.2,428.9 L244.7,429.6 L245.2,430.3 L245.7,431.0 L246.2,431.8 L246.7,432.5 L247.2,433.3 L247.7,434.1 L248.2,434.9 L248.7,435.8 L249.2,436.8 L249.4,437.3 L249.5,437.5" fill="none" stroke="#1c1c1c" stroke-width="1.5" stroke-linejoin="round" stroke-linecap="round"/>
<path d="M258.8,440.0 L259.1,436.9 L259.3,434.5 L259.6,432.5 L259.8,430.8 L260.1,429.3 L260.3,427.8 L260.6,426.5 L260.8,425.2 L261.1,423.9 L261.3,422.6 L261.6,421.2 L261.8,419.6 L262.1,417.9 L262.3,416.2 L262.6,414.5 L262.8,412.7 L263.1,410.8 L263.3,409.0 L263.6,407.2 L263.8,405.3 L264.1,403.5 L264.3,401.6 L264.6,399.7 L264.8,397.6 L265.1,395.5 L265.3,394.0 L265.6,393.1 L265.8,392.4 L266.1,391.8 L266.6,391.0 L267.3,391.3 L267.8,392.2 L268.1,392.9 L268.3,393.6 L268.6,394.4 L268.8,395.5 L269.1,397.1 L269.3,399.1 L269.6,401.4 L269.8,403.6 L270.1,405.7 L270.3,407.6 L270.6,409.4 L270.8,411.3 L271.1,413.1 L271.3,414.9 L271.6,416.7 L271.8,418.6 L272.1,420.5 L272.3,422.5 L272.6,424.5 L272.8,426.4 L273.1,428.5 L273.3,430.6 L273.6,432.9 L273.8,435.3 L274.1,438.1 L274.2,440.0" fill="none" stroke="#1c1c1c" stroke-width="1.5" stroke-linejoin="round" stroke-linecap="round"/>
<path d="M300.9,438.0 L301.1,436.6 L301.4,435.3 L301.6,434.0 L301.9,432.7 L302.1,431.4 L302.4,430.1 L302.6,428.8 L302.9,427.5 L303.1,426.2 L303.4,424.9 L303.6,423.7 L303.9,422.4 L304.1,421.1 L304.4,419.8 L304.6,418.8" fill="none" stroke="#1c1c1c" stroke-width="1.5" stroke-linejoin="round" stroke-linecap="round"/>
<line x1="69.75" y1="390.90" x2="70.65" y2="390.90" stroke="#e2b536" stroke-width="1.5" stroke-linecap="butt"/>
<line x1="127.65" y1="390.90" x2="128.55" y2="390.90" stroke="#e2b536" stroke-width="1.5" stroke-linecap="butt"/>
<line x1="205.85" y1="390.90" x2="206.75" y2="390.90" stroke="#e2b536" stroke-width="1.5" stroke-linecap="butt"/>
<line x1="266.35" y1="390.90" x2="267.25" y2="390.90" stroke="#e2b536" stroke-width="1.5" stroke-linecap="butt"/>
</g>
<g clip-path="url(#cp_k)">
<path d="M44.4,519.4 L44.6,520.4 L44.9,521.2 L45.1,521.8 L45.6,522.8 L46.1,523.3 L46.6,522.9 L47.1,522.0 L47.6,521.3 L48.1,520.7 L48.9,520.5 L49.6,520.8 L50.4,521.2 L51.1,521.5 L51.9,521.8 L52.6,522.0 L53.4,522.1 L54.1,522.2 L54.9,522.3 L55.6,522.4 L56.4,522.5 L57.1,522.6 L57.9,522.7 L58.6,522.8 L59.4,522.8 L60.1,522.8 L60.9,522.7 L61.6,522.7 L62.4,522.6 L63.1,522.6 L63.9,522.6 L64.7,522.6 L65.4,522.5 L66.2,522.5 L66.9,522.5 L67.7,522.5 L68.4,522.5 L69.2,522.5 L69.8,522.5 L70.6,522.5 L71.3,522.5 L72.1,522.5 L72.8,522.5 L73.6,522.5 L74.3,522.5 L75.1,522.5 L75.8,522.5 L76.6,522.5 L77.3,522.5 L78.1,522.5 L78.8,522.4 L79.6,522.4 L80.3,522.4 L81.1,522.3 L81.8,522.2 L82.6,522.1 L83.3,522.0 L84.1,521.9 L84.8,521.7 L85.6,521.5 L86.3,521.3 L87.1,521.0 L87.8,520.6 L88.6,520.2 L89.3,519.8 L90.1,519.3 L90.8,518.9 L91.6,518.4 L92.1,518.0 L92.6,517.6 L93.1,517.3 L93.6,516.9 L94.1,516.4 L94.6,516.0 L95.1,515.6 L95.6,515.1 L96.1,514.7 L96.6,514.2 L97.1,513.7 L97.6,513.2 L98.1,512.7 L98.6,512.2 L99.1,511.6 L99.6,511.1 L100.1,510.5 L100.6,509.9 L101.1,509.3 L101.6,508.7 L102.1,508.1 L102.6,507.4 L103.1,506.7 L103.6,506.1 L104.1,505.4 L104.6,504.7 L105.1,503.9 L105.6,503.2 L106.1,502.5 L106.6,501.7 L107.1,500.9 L107.6,500.1 L108.1,499.3 L108.6,498.4 L109.1,497.6 L109.6,496.7 L110.1,495.8 L110.6,495.0 L111.1,494.1 L111.6,493.2 L112.1,492.4 L112.6,491.6 L113.1,490.8 L113.6,490.0 L114.1,489.2 L114.6,488.4 L115.1,487.6 L115.6,486.8 L116.1,486.1 L116.6,485.4 L117.1,484.7 L117.6,484.1 L118.1,483.5 L118.6,482.9 L119.1,482.3 L119.6,481.8 L120.1,481.2 L120.6,480.7 L121.1,480.2 L121.6,479.8 L122.1,479.4 L122.6,479.1 L123.3,478.7 L124.1,478.3 L124.8,478.0 L125.6,477.8 L126.3,477.6 L127.1,477.4 L127.8,477.4 L128.6,477.4 L129.3,477.5 L130.1,477.8 L130.8,478.1 L131.6,478.5 L132.3,478.9 L133.1,479.3 L133.8,479.8 L134.3,480.2 L134.8,480.6 L135.3,481.1 L135.8,481.6 L136.3,482.1 L136.8,482.7 L137.3,483.2 L137.8,483.8 L138.3,484.4 L138.8,485.0 L139.3,485.6 L139.8,486.2 L140.3,486.9 L140.8,487.6 L141.3,488.3 L141.8,489.0 L142.3,489.7 L142.8,490.5 L143.3,491.2 L143.8,492.0 L144.3,492.8 L144.8,493.5 L145.3,494.4 L145.8,495.2 L146.3,496.0 L146.8,496.9 L147.3,497.8 L147.8,498.6 L148.3,499.5 L148.8,500.3 L149.3,501.2 L149.8,502.0 L150.3,502.8 L150.8,503.7 L151.3,504.5 L151.8,505.3 L152.3,506.2 L152.8,507.0 L153.3,507.8 L153.8,508.6 L154.3,509.3 L154.8,510.1 L155.3,510.8 L155.8,511.5 L156.3,512.2 L156.8,512.9 L157.3,513.5 L157.8,514.2 L158.3,514.8 L158.8,515.4 L159.3,516.0 L159.8,516.6 L160.3,517.2 L160.8,517.8 L161.3,518.4 L161.8,518.9 L162.3,519.5 L162.8,520.0 L163.3,520.4 L163.8,520.9 L164.3,521.3 L164.8,521.7 L165.6,522.0 L166.3,522.1 L167.1,522.1 L167.8,521.9 L168.6,521.7 L169.3,521.3 L170.1,520.8 L170.6,520.5 L171.1,520.1 L171.6,519.7 L172.1,519.2 L172.6,518.8 L173.1,518.3 L173.6,517.8 L174.1,517.2 L174.6,516.7 L175.1,516.1 L175.6,515.5 L176.1,514.8 L176.6,514.1 L177.1,513.3 L177.6,512.5 L178.1,511.6 L178.6,510.7 L179.1,509.8 L179.6,508.8 L180.1,507.9 L180.6,506.9 L181.1,505.9 L181.6,505.0 L182.1,504.0 L182.6,503.1 L183.1,502.1 L183.6,501.2 L184.1,500.2 L184.6,499.2 L185.1,498.3 L185.6,497.3 L186.1,496.4 L186.6,495.4 L187.1,494.5 L187.6,493.5 L188.1,492.6 L188.6,491.7 L189.1,490.7 L189.6,489.8 L190.1,488.9 L190.6,488.0 L191.1,487.1 L191.6,486.2 L192.1,485.3 L192.6,484.5 L193.1,483.6 L193.6,482.8 L194.1,482.0 L194.6,481.2 L195.1,480.4 L195.6,479.7 L196.1,478.9 L196.6,478.2 L197.1,477.5 L197.6,476.8 L198.1,476.2 L198.6,475.7 L199.1,475.1 L199.6,474.7 L200.1,474.2 L200.6,473.8 L201.1,473.4 L201.6,473.0 L202.1,472.6 L202.8,472.2 L203.6,471.8 L204.3,471.5 L205.1,471.3 L205.8,471.1 L206.6,471.1 L207.3,471.1 L208.1,471.3 L208.8,471.5 L209.6,471.7 L210.3,472.0 L211.1,472.4 L211.8,472.8 L212.3,473.2 L212.8,473.6 L213.3,474.0 L213.8,474.4 L214.3,474.9 L214.8,475.4 L215.3,476.0 L215.8,476.5 L216.3,477.1 L216.8,477.7 L217.3,478.4 L217.8,479.1 L218.3,479.9 L218.8,480.7 L219.3,481.5 L219.8,482.3 L220.3,483.2 L220.8,484.1 L221.3,484.9 L221.8,485.8 L222.3,486.6 L222.8,487.5 L223.3,488.3 L223.8,489.2 L224.3,490.0 L224.8,490.9 L225.3,491.8 L225.8,492.6 L226.3,493.5 L226.8,494.4 L227.3,495.3 L227.8,496.2 L228.3,497.0 L228.8,497.9 L229.3,498.7 L229.8,499.6 L230.3,500.4 L230.8,501.2 L231.3,502.1 L231.8,502.9 L232.3,503.7 L232.8,504.5 L233.3,505.3 L233.8,506.0 L234.3,506.8 L234.8,507.6 L235.3,508.3 L235.8,509.0 L236.3,509.7 L236.8,510.4 L237.3,511.0 L237.8,511.6 L238.3,512.2 L238.8,512.8 L239.3,513.4 L239.8,514.0 L240.3,514.5 L240.8,515.1 L241.3,515.6 L241.8,516.2 L242.3,516.7 L242.8,517.2 L243.3,517.7 L243.8,518.1 L244.3,518.6 L244.8,519.0 L245.3,519.4 L245.8,519.7 L246.3,520.1 L247.1,520.5 L247.8,520.9 L248.6,521.3 L249.3,521.6 L250.1,521.9 L250.8,522.1 L251.6,522.3 L252.3,522.5 L253.1,522.6 L253.8,522.7 L254.6,522.7 L255.3,522.8 L256.1,522.8 L256.9,522.8 L257.6,522.8 L258.4,522.7 L259.1,522.6 L259.9,522.5 L260.6,522.5 L261.4,522.4 L262.1,522.4 L262.9,522.4 L263.6,522.4 L264.4,522.4 L265.1,522.4 L265.9,522.4 L266.6,522.4 L267.4,522.4 L268.1,522.4 L268.9,522.4 L269.6,522.4 L270.4,522.4 L271.1,522.4 L271.9,522.4 L272.6,522.4 L273.4,522.4 L274.1,522.4 L274.9,522.4 L275.6,522.4 L276.4,522.4 L277.1,522.3 L277.9,522.3 L278.6,522.3 L279.4,522.2 L280.1,522.2 L280.9,522.2 L281.6,522.1 L282.4,522.1 L283.1,522.0 L283.9,521.9 L284.6,521.7 L285.4,521.6 L286.1,521.4 L286.9,521.1 L287.6,520.9 L288.4,520.6 L289.1,520.4 L289.9,521.0 L290.4,521.9 L290.9,522.7 L291.4,523.1 L291.9,522.2 L292.1,521.5 L292.4,520.9 L292.6,520.3 L292.9,519.7 L293.4,519.3 L294.1,519.7 L294.9,520.0 L295.6,520.3 L296.4,520.4 L297.1,520.5 L297.9,520.5 L298.6,520.5 L299.4,520.6 L300.1,520.6 L300.9,520.6 L301.6,520.7 L302.4,520.7 L303.1,520.7 L303.9,520.6 L304.6,520.5" fill="none" stroke="#1c1c1c" stroke-width="1.5" stroke-linejoin="round" stroke-linecap="round"/>
<line x1="69.65" y1="522.50" x2="70.55" y2="522.50" stroke="#e2b536" stroke-width="1.5" stroke-linecap="butt"/>
<line x1="127.65" y1="477.36" x2="128.55" y2="477.36" stroke="#e2b536" stroke-width="1.5" stroke-linecap="butt"/>
<line x1="205.90" y1="471.07" x2="206.80" y2="471.07" stroke="#e2b536" stroke-width="1.5" stroke-linecap="butt"/>
<line x1="266.40" y1="522.40" x2="267.30" y2="522.40" stroke="#e2b536" stroke-width="1.5" stroke-linecap="butt"/>
</g>
<g clip-path="url(#cp_b)">
<path d="M386.2,85.9 L386.4,85.3 L386.7,84.7 L387.0,84.2 L387.6,84.4 L387.9,84.9 L388.3,85.4 L388.8,85.7 L389.2,85.9" fill="none" stroke="#1c1c1c" stroke-width="1.5" stroke-linejoin="round" stroke-linecap="round"/>
<path d="M389.7,85.6 L390.0,85.1 L390.2,84.5 L390.5,83.8 L390.7,83.2 L390.9,82.6 L391.1,81.9 L391.4,81.3 L391.7,80.8 L392.2,80.5 L392.8,80.7 L393.3,81.0 L393.8,81.4 L394.3,81.8 L394.3,81.9" fill="none" stroke="#1c1c1c" stroke-width="1.5" stroke-linejoin="round" stroke-linecap="round"/>
<path d="M396.3,82.6 L396.9,82.3 L397.3,81.9 L397.7,81.4 L398.1,80.8 L398.4,80.2 L398.7,79.7 L399.0,79.1 L399.3,78.5 L399.6,77.8 L399.9,77.2 L400.2,76.6 L400.5,76.0 L400.8,75.5 L401.2,74.9 L401.5,74.3 L401.9,73.8 L402.4,73.4 L402.9,73.1 L403.2,73.0" fill="none" stroke="#1c1c1c" stroke-width="1.5" stroke-linejoin="round" stroke-linecap="round"/>
<path d="M407.8,73.3 L408.4,73.3 L409.0,73.1 L409.5,72.6 L409.9,72.2 L410.2,71.6 L410.6,71.1 L410.9,70.5 L411.2,69.9 L411.5,69.3 L411.8,68.7 L412.1,68.0 L412.4,67.4 L412.7,66.7 L413.0,66.1 L413.3,65.5 L413.6,64.9 L413.9,64.4 L414.2,63.9 L414.6,63.3 L415.1,62.9 L415.6,62.6 L416.2,62.5 L416.6,62.5" fill="none" stroke="#1c1c1c" stroke-width="1.5" stroke-linejoin="round" stroke-linecap="round"/>
<path d="M424.0,63.0 L424.6,63.0 L425.2,62.8 L425.7,62.5 L426.2,62.2 L426.7,61.8 L427.1,61.3 L427.5,60.8 L427.9,60.3 L428.3,59.8 L428.7,59.3 L429.0,58.8 L429.4,58.2 L429.7,57.7 L430.1,57.2 L430.4,56.6 L430.8,56.1 L431.1,55.6 L431.5,55.1 L431.9,54.6 L432.3,54.1 L432.8,53.6 L433.2,53.2 L433.6,52.9" fill="none" stroke="#1c1c1c" stroke-width="1.5" stroke-linejoin="round" stroke-linecap="round"/>
<path d="M443.1,54.3 L443.7,54.4 L444.3,54.4 L444.9,54.3 L445.5,54.0 L446.0,53.7 L446.5,53.3 L447.0,52.9 L447.4,52.5 L447.9,52.0 L448.3,51.5 L448.7,51.0 L449.1,50.5 L449.5,50.0 L449.9,49.5 L450.3,49.0 L450.7,48.4 L451.1,47.9 L451.5,47.5 L451.9,47.0 L452.3,46.5 L452.8,46.1 L453.3,45.6 L453.5,45.5" fill="none" stroke="#1c1c1c" stroke-width="1.5" stroke-linejoin="round" stroke-linecap="round"/>
<path d="M464.5,48.3 L465.1,48.4 L465.7,48.4 L466.3,48.3 L466.9,48.0 L467.4,47.7 L467.9,47.2 L468.4,46.8 L468.8,46.3 L469.2,45.9 L469.6,45.4 L470.0,44.9 L470.4,44.3 L470.8,43.8 L471.2,43.3 L471.6,42.7 L472.0,42.2 L472.4,41.7 L472.8,41.2 L473.2,40.7 L473.7,40.3 L474.1,39.9 L474.6,39.5 L475.2,39.1 L475.2,39.1" fill="none" stroke="#1c1c1c" stroke-width="1.5" stroke-linejoin="round" stroke-linecap="round"/>
<path d="M487.5,43.7 L488.1,43.7 L488.7,43.5 L489.2,43.3 L489.8,43.0 L490.3,42.6 L490.7,42.1 L491.2,41.7 L491.6,41.2 L492.0,40.8 L492.4,40.2 L492.8,39.7 L493.2,39.2 L493.6,38.6 L494.0,38.1 L494.4,37.6 L494.8,37.1 L495.2,36.5 L495.6,36.1 L496.0,35.6 L496.4,35.2 L496.9,34.7 L497.4,34.3 L497.9,34.0 L498.5,33.8 L498.8,33.7" fill="none" stroke="#1c1c1c" stroke-width="1.5" stroke-linejoin="round" stroke-linecap="round"/>
<path d="M511.3,40.0 L511.9,39.7 L512.4,39.4 L512.9,39.0 L513.4,38.5 L513.8,38.0 L514.2,37.5 L514.6,37.0 L515.0,36.5 L515.4,36.0 L515.7,35.5 L516.1,35.0 L516.4,34.5 L516.8,34.0 L517.1,33.5 L517.5,33.0 L517.9,32.4 L518.3,32.0 L518.8,31.5 L519.2,31.0 L519.7,30.6 L520.3,30.3 L520.9,30.0 L521.5,29.9 L522.1,29.9 L522.6,30.0" fill="none" stroke="#1c1c1c" stroke-width="1.5" stroke-linejoin="round" stroke-linecap="round"/>
<path d="M535.2,38.4 L535.7,38.0 L536.2,37.6 L536.7,37.2 L537.1,36.8 L537.6,36.3 L538.0,35.8 L538.4,35.3 L538.8,34.8 L539.2,34.3 L539.6,33.7 L540.0,33.2 L540.4,32.7 L540.8,32.3 L541.2,31.8 L541.6,31.3 L542.1,30.9 L542.6,30.5 L543.1,30.1 L543.6,29.9 L544.2,29.7 L544.8,29.6 L545.4,29.7 L546.0,29.8 L546.5,30.1" fill="none" stroke="#1c1c1c" stroke-width="1.5" stroke-linejoin="round" stroke-linecap="round"/>
<path d="M558.5,39.8 L559.0,39.5 L559.5,39.1 L560.0,38.7 L560.5,38.2 L560.9,37.8 L561.4,37.3 L561.8,36.8 L562.3,36.3 L562.7,35.8 L563.2,35.4 L563.6,34.9 L564.1,34.5 L564.6,34.2 L565.2,33.9 L565.8,33.7 L566.4,33.6 L567.0,33.7 L567.6,33.9 L568.1,34.1 L568.6,34.5 L569.1,34.9 L569.6,35.4 L570.0,35.8 L570.4,36.3 L570.7,36.7" fill="none" stroke="#1c1c1c" stroke-width="1.5" stroke-linejoin="round" stroke-linecap="round"/>
<path d="M581.1,44.4 L581.6,44.1 L582.1,43.7 L582.6,43.3 L583.1,42.9 L583.6,42.5 L584.2,42.2 L584.7,41.9 L585.3,41.7 L585.9,41.6 L586.5,41.6 L587.1,41.8 L587.7,42.0 L588.3,42.3 L588.8,42.7 L589.3,43.1 L589.7,43.5 L590.2,44.0 L590.6,44.4 L591.0,44.9 L591.4,45.4 L591.8,45.9 L592.2,46.4 L592.6,47.0 L592.9,47.4" fill="none" stroke="#1c1c1c" stroke-width="1.5" stroke-linejoin="round" stroke-linecap="round"/>
<path d="M601.2,52.5 L601.8,52.1 L602.3,51.8 L602.9,51.6 L603.5,51.4 L604.1,51.4 L604.7,51.5 L605.3,51.8 L605.8,52.1 L606.3,52.5 L606.8,52.9 L607.2,53.4 L607.6,53.8 L608.0,54.3 L608.4,54.8 L608.8,55.4 L609.2,55.9 L609.6,56.4 L609.9,56.9 L610.3,57.4 L610.6,57.9 L611.0,58.4 L611.3,58.9 L611.7,59.5 L612.1,60.0 L612.3,60.2" fill="none" stroke="#1c1c1c" stroke-width="1.5" stroke-linejoin="round" stroke-linecap="round"/>
<path d="M618.7,62.4 L619.3,62.2 L619.9,62.1 L620.5,62.1 L621.1,62.3 L621.6,62.6 L622.1,62.9 L622.6,63.4 L623.1,63.8 L623.5,64.3 L623.9,64.8 L624.3,65.3 L624.7,65.8 L625.1,66.3 L625.4,66.8 L625.8,67.3 L626.1,67.8 L626.5,68.3 L626.8,68.8 L627.2,69.4 L627.6,69.9 L628.0,70.4 L628.4,70.9" fill="none" stroke="#1c1c1c" stroke-width="1.5" stroke-linejoin="round" stroke-linecap="round"/>
<path d="M632.1,73.0 L632.7,73.0 L633.3,72.9 L633.9,72.9 L634.4,73.2 L634.9,73.7 L635.2,74.2 L635.6,74.8 L635.9,75.4 L636.2,76.0 L636.5,76.7 L636.8,77.3 L637.1,78.0 L637.4,78.6 L637.7,79.2 L638.0,79.7 L638.3,80.3 L638.7,80.8 L639.2,81.3 L639.7,81.5 L640.2,81.4" fill="none" stroke="#1c1c1c" stroke-width="1.5" stroke-linejoin="round" stroke-linecap="round"/>
<path d="M641.6,81.2 L642.0,81.7 L642.3,82.3 L642.5,82.9 L642.7,83.5 L642.9,84.1 L643.2,84.7 L643.4,85.3 L643.8,85.8 L644.3,85.7 L644.6,85.1 L644.9,84.4 L645.1,83.8 L645.3,83.1 L645.6,82.5 L645.9,82.3" fill="none" stroke="#1c1c1c" stroke-width="1.5" stroke-linejoin="round" stroke-linecap="round"/>
<path d="M389.2,85.9 L389.7,85.6" fill="none" stroke="#e2b536" stroke-width="1.5" stroke-linejoin="round" stroke-linecap="round"/>
<path d="M394.3,81.9 L394.8,82.3 L395.4,82.6 L396.0,82.7 L396.3,82.6" fill="none" stroke="#e2b536" stroke-width="1.5" stroke-linejoin="round" stroke-linecap="round"/>
<path d="M403.2,73.0 L403.8,73.0 L404.4,73.0 L405.0,73.1 L405.6,73.1 L406.2,73.2 L406.8,73.2 L407.4,73.3 L407.8,73.3" fill="none" stroke="#e2b536" stroke-width="1.5" stroke-linejoin="round" stroke-linecap="round"/>
<path d="M416.6,62.5 L417.2,62.5 L417.8,62.6 L418.4,62.6 L419.0,62.6 L419.6,62.7 L420.2,62.8 L420.8,62.8 L421.4,62.9 L422.0,62.9 L422.6,63.0 L423.2,63.0 L423.8,63.0 L424.0,63.0" fill="none" stroke="#e2b536" stroke-width="1.5" stroke-linejoin="round" stroke-linecap="round"/>
<path d="M433.6,52.9 L434.2,52.6 L434.8,52.4 L435.4,52.4 L436.0,52.4 L436.6,52.5 L437.2,52.6 L437.8,52.8 L438.4,53.0 L439.0,53.2 L439.6,53.4 L440.2,53.6 L440.8,53.8 L441.4,54.0 L442.0,54.1 L442.6,54.3 L443.1,54.3" fill="none" stroke="#e2b536" stroke-width="1.5" stroke-linejoin="round" stroke-linecap="round"/>
<path d="M453.5,45.5 L454.0,45.1 L454.6,44.9 L455.2,44.7 L455.8,44.7 L456.4,44.8 L457.0,44.9 L457.6,45.0 L458.2,45.3 L458.7,45.5 L459.3,45.8 L459.8,46.1 L460.4,46.5 L460.9,46.8 L461.5,47.1 L462.0,47.4 L462.6,47.7 L463.2,47.9 L463.8,48.1 L464.4,48.3 L464.5,48.3" fill="none" stroke="#e2b536" stroke-width="1.5" stroke-linejoin="round" stroke-linecap="round"/>
<path d="M475.2,39.1 L475.8,38.9 L476.4,38.8 L477.0,38.8 L477.6,38.9 L478.2,39.1 L478.8,39.3 L479.4,39.5 L479.9,39.8 L480.5,40.2 L481.0,40.5 L481.5,40.8 L482.0,41.2 L482.5,41.5 L483.0,41.9 L483.6,42.2 L484.1,42.6 L484.7,42.9 L485.2,43.1 L485.8,43.4 L486.4,43.5 L487.0,43.7 L487.5,43.7" fill="none" stroke="#e2b536" stroke-width="1.5" stroke-linejoin="round" stroke-linecap="round"/>
<path d="M498.8,33.7 L499.4,33.6 L500.0,33.6 L500.6,33.8 L501.2,34.0 L501.8,34.3 L502.3,34.6 L502.8,35.0 L503.3,35.4 L503.8,35.8 L504.3,36.2 L504.7,36.6 L505.2,37.0 L505.6,37.4 L506.1,37.8 L506.6,38.3 L507.1,38.7 L507.6,39.0 L508.1,39.4 L508.7,39.7 L509.3,39.9 L509.9,40.0 L510.5,40.1 L511.1,40.0 L511.3,40.0" fill="none" stroke="#e2b536" stroke-width="1.5" stroke-linejoin="round" stroke-linecap="round"/>
<path d="M522.6,30.0 L523.2,30.3 L523.7,30.6 L524.2,30.9 L524.7,31.3 L525.2,31.7 L525.6,32.1 L526.1,32.6 L526.5,33.1 L526.9,33.5 L527.3,34.0 L527.7,34.5 L528.1,34.9 L528.5,35.4 L529.0,35.9 L529.4,36.4 L529.9,36.8 L530.3,37.2 L530.8,37.7 L531.3,38.0 L531.9,38.3 L532.4,38.6 L533.0,38.7 L533.6,38.8 L534.2,38.7 L534.8,38.5 L535.2,38.4" fill="none" stroke="#e2b536" stroke-width="1.5" stroke-linejoin="round" stroke-linecap="round"/>
<path d="M546.5,30.1 L547.1,30.4 L547.6,30.8 L548.0,31.3 L548.5,31.7 L548.9,32.2 L549.3,32.7 L549.7,33.2 L550.1,33.7 L550.5,34.2 L550.9,34.8 L551.3,35.3 L551.7,35.8 L552.1,36.4 L552.5,36.9 L552.9,37.4 L553.3,37.8 L553.8,38.3 L554.2,38.7 L554.7,39.1 L555.2,39.5 L555.8,39.8 L556.4,40.0 L557.0,40.1 L557.6,40.1 L558.2,39.9 L558.5,39.8" fill="none" stroke="#e2b536" stroke-width="1.5" stroke-linejoin="round" stroke-linecap="round"/>
<path d="M570.7,36.7 L571.1,37.3 L571.4,37.8 L571.8,38.3 L572.1,38.8 L572.5,39.3 L572.8,39.8 L573.2,40.3 L573.5,40.9 L573.9,41.4 L574.3,41.9 L574.7,42.4 L575.1,42.9 L575.5,43.4 L575.9,43.9 L576.4,44.3 L576.9,44.7 L577.4,45.0 L578.0,45.2 L578.6,45.3 L579.2,45.3 L579.8,45.1 L580.4,44.8 L581.0,44.5 L581.1,44.4" fill="none" stroke="#e2b536" stroke-width="1.5" stroke-linejoin="round" stroke-linecap="round"/>
<path d="M592.9,47.4 L593.3,47.9 L593.7,48.4 L594.1,48.9 L594.5,49.5 L594.9,49.9 L595.3,50.4 L595.7,50.9 L596.2,51.3 L596.6,51.7 L597.1,52.1 L597.7,52.5 L598.2,52.7 L598.8,52.9 L599.4,53.0 L600.0,52.9 L600.6,52.8 L601.2,52.5 L601.2,52.5" fill="none" stroke="#e2b536" stroke-width="1.5" stroke-linejoin="round" stroke-linecap="round"/>
<path d="M612.3,60.2 L612.7,60.6 L613.1,61.1 L613.5,61.5 L614.0,62.0 L614.5,62.3 L615.0,62.7 L615.6,62.9 L616.2,63.0 L616.8,63.0 L617.4,62.8 L618.0,62.6 L618.6,62.4 L618.7,62.4" fill="none" stroke="#e2b536" stroke-width="1.5" stroke-linejoin="round" stroke-linecap="round"/>
<path d="M628.4,70.9 L628.9,71.4 L629.3,71.8 L629.8,72.2 L630.4,72.6 L630.9,72.8 L631.5,73.0 L632.1,73.0" fill="none" stroke="#e2b536" stroke-width="1.5" stroke-linejoin="round" stroke-linecap="round"/>
<path d="M640.2,81.4 L640.8,81.2 L641.4,81.1 L641.6,81.2" fill="none" stroke="#e2b536" stroke-width="1.5" stroke-linejoin="round" stroke-linecap="round"/>
</g>
<g clip-path="url(#cp_d)">
<path d="M386.5,146.4 L386.6,145.7 L386.6,145.1 L386.7,144.5 L386.7,143.9 L386.8,143.3 L386.9,142.7 L386.9,142.1 L387.0,141.5 L387.0,140.9 L387.1,140.3 L387.2,139.7 L387.2,139.1 L387.3,138.4 L387.4,137.7 L387.4,137.0 L387.5,136.3 L387.6,135.7 L387.6,135.0 L387.7,134.4 L387.8,133.8 L387.9,133.1 L387.9,132.5 L388.0,131.9 L388.1,131.2 L388.2,130.6 L388.3,130.0 L388.4,129.3 L388.5,128.7 L388.7,128.1 L388.8,127.5 L389.1,126.9 L389.2,126.8" fill="none" stroke="#1c1c1c" stroke-width="1.5" stroke-linejoin="round" stroke-linecap="round"/>
<path d="M389.7,127.1 L389.9,127.7 L390.1,128.2 L390.3,128.9 L390.4,129.5 L390.5,130.1 L390.7,130.7 L390.8,131.4 L390.9,132.0 L391.0,132.6 L391.1,133.2 L391.2,133.9 L391.3,134.5 L391.3,135.1 L391.4,135.7 L391.5,136.4 L391.6,137.0 L391.7,137.6 L391.7,138.2 L391.8,138.9 L391.9,139.6 L392.0,140.2 L392.1,140.9 L392.1,141.6 L392.2,142.2 L392.3,142.9 L392.4,143.6 L392.5,144.3 L392.5,144.9 L392.6,145.6 L392.7,146.3 L392.8,146.9 L392.9,147.6 L392.9,148.3 L393.0,148.9 L393.1,149.5 L393.2,150.1 L393.3,150.8 L393.3,151.4 L393.4,152.0 L393.5,152.6 L393.6,153.3 L393.7,153.9 L393.8,154.5 L393.9,155.1 L394.0,155.7 L394.1,156.4 L394.3,156.9 L394.3,157.3" fill="none" stroke="#1c1c1c" stroke-width="1.5" stroke-linejoin="round" stroke-linecap="round"/>
<path d="M396.3,158.9 L396.6,158.4 L396.8,157.8 L397.0,157.3 L397.2,156.7 L397.4,156.1 L397.6,155.5 L397.7,154.9 L397.9,154.3 L398.0,153.7 L398.2,153.1 L398.3,152.5 L398.4,151.9 L398.6,151.2 L398.7,150.6 L398.8,150.0 L398.9,149.4 L399.0,148.8 L399.2,148.1 L399.3,147.5 L399.4,146.9 L399.5,146.3 L399.6,145.7 L399.7,145.1 L399.8,144.5 L399.9,143.8 L400.0,143.2 L400.2,142.5 L400.3,141.9 L400.4,141.3 L400.5,140.6 L400.6,140.0 L400.7,139.3 L400.8,138.7 L400.9,138.1 L401.0,137.4 L401.1,136.8 L401.3,136.2 L401.4,135.6 L401.5,135.0 L401.6,134.4 L401.7,133.8 L401.8,133.1 L401.9,132.5 L402.1,131.9 L402.2,131.3 L402.3,130.7 L402.4,130.1 L402.6,129.5 L402.7,128.8 L402.8,128.2 L403.0,127.6 L403.1,127.0" fill="none" stroke="#1c1c1c" stroke-width="1.5" stroke-linejoin="round" stroke-linecap="round"/>
<path d="M407.8,125.2 L408.0,125.7 L408.2,126.3 L408.5,126.9 L408.7,127.4 L408.9,128.0 L409.1,128.6 L409.3,129.2 L409.4,129.8 L409.6,130.4 L409.8,131.0 L409.9,131.6 L410.1,132.2 L410.3,132.8 L410.4,133.4 L410.6,134.0 L410.7,134.6 L410.9,135.2 L411.0,135.8 L411.2,136.4 L411.3,137.0 L411.5,137.6 L411.6,138.2 L411.7,138.8 L411.9,139.4 L412.0,140.0 L412.2,140.6 L412.3,141.2 L412.4,141.8 L412.6,142.5 L412.7,143.1 L412.9,143.7 L413.0,144.3 L413.1,144.9 L413.3,145.6 L413.4,146.2 L413.6,146.8 L413.7,147.4 L413.8,148.0 L414.0,148.6 L414.1,149.2 L414.3,149.8 L414.4,150.4 L414.5,151.0 L414.7,151.6 L414.8,152.2 L415.0,152.8 L415.1,153.4 L415.3,154.0 L415.4,154.6 L415.6,155.2 L415.8,155.8 L415.9,156.4 L416.1,157.0 L416.3,157.6 L416.5,158.2 L416.6,158.7" fill="none" stroke="#1c1c1c" stroke-width="1.5" stroke-linejoin="round" stroke-linecap="round"/>
<path d="M424.0,160.1 L424.2,159.5 L424.4,159.0 L424.6,158.4 L424.8,157.8 L425.0,157.2 L425.2,156.6 L425.4,156.1 L425.6,155.5 L425.8,154.9 L426.0,154.3 L426.1,153.7 L426.3,153.1 L426.5,152.5 L426.6,151.9 L426.8,151.3 L427.0,150.7 L427.1,150.1 L427.3,149.5 L427.4,148.9 L427.6,148.3 L427.7,147.7 L427.9,147.2 L428.0,146.6 L428.2,146.0 L428.3,145.4 L428.5,144.8 L428.6,144.2 L428.8,143.6 L428.9,143.0 L429.1,142.4 L429.2,141.8 L429.4,141.1 L429.5,140.5 L429.7,139.9 L429.8,139.3 L430.0,138.7 L430.1,138.1 L430.3,137.5 L430.4,136.9 L430.6,136.3 L430.7,135.8 L430.9,135.2 L431.1,134.6 L431.2,133.9 L431.4,133.3 L431.5,132.7 L431.7,132.1 L431.9,131.5 L432.0,131.0 L432.2,130.4 L432.4,129.8 L432.5,129.2 L432.7,128.6 L432.9,128.0 L433.1,127.4 L433.3,126.8 L433.4,126.2 L433.6,125.8" fill="none" stroke="#1c1c1c" stroke-width="1.5" stroke-linejoin="round" stroke-linecap="round"/>
<path d="M443.1,124.6 L443.3,125.2 L443.5,125.8 L443.7,126.4 L443.9,127.0 L444.1,127.5 L444.3,128.1 L444.5,128.7 L444.7,129.3 L444.9,129.9 L445.1,130.5 L445.2,131.1 L445.4,131.7 L445.6,132.3 L445.8,132.9 L445.9,133.4 L446.1,134.0 L446.3,134.6 L446.5,135.2 L446.6,135.9 L446.8,136.4 L446.9,137.0 L447.1,137.6 L447.3,138.2 L447.4,138.8 L447.6,139.4 L447.7,140.0 L447.9,140.6 L448.1,141.2 L448.2,141.8 L448.4,142.4 L448.5,143.0 L448.7,143.6 L448.9,144.2 L449.0,144.8 L449.2,145.4 L449.3,146.1 L449.5,146.7 L449.7,147.3 L449.8,147.9 L450.0,148.4 L450.1,149.0 L450.3,149.6 L450.5,150.2 L450.6,150.8 L450.8,151.4 L451.0,152.0 L451.1,152.6 L451.3,153.2 L451.5,153.8 L451.6,154.4 L451.8,155.0 L452.0,155.6 L452.2,156.2 L452.4,156.7 L452.5,157.3 L452.7,157.9 L452.9,158.5 L453.1,159.1 L453.3,159.7 L453.5,160.1" fill="none" stroke="#1c1c1c" stroke-width="1.5" stroke-linejoin="round" stroke-linecap="round"/>
<path d="M464.4,161.1 L464.7,160.5 L464.9,159.9 L465.1,159.3 L465.3,158.8 L465.5,158.2 L465.7,157.6 L465.9,157.0 L466.1,156.4 L466.3,155.8 L466.5,155.2 L466.6,154.6 L466.8,154.1 L467.0,153.5 L467.2,152.9 L467.3,152.3 L467.5,151.7 L467.7,151.1 L467.9,150.5 L468.0,149.9 L468.2,149.3 L468.4,148.7 L468.5,148.1 L468.7,147.5 L468.9,146.9 L469.0,146.3 L469.2,145.8 L469.3,145.2 L469.5,144.6 L469.7,144.0 L469.8,143.4 L470.0,142.8 L470.1,142.2 L470.3,141.6 L470.5,141.0 L470.6,140.4 L470.8,139.8 L470.9,139.2 L471.1,138.7 L471.3,138.1 L471.4,137.5 L471.6,136.9 L471.7,136.3 L471.9,135.7 L472.1,135.1 L472.2,134.5 L472.4,133.9 L472.6,133.3 L472.7,132.7 L472.9,132.1 L473.1,131.5 L473.3,130.9 L473.4,130.3 L473.6,129.7 L473.8,129.1 L474.0,128.6 L474.2,128.0 L474.3,127.4 L474.5,126.8 L474.7,126.2 L474.9,125.6 L475.1,125.0 L475.2,124.8" fill="none" stroke="#1c1c1c" stroke-width="1.5" stroke-linejoin="round" stroke-linecap="round"/>
<path d="M487.4,123.4 L487.7,124.0 L487.9,124.6 L488.1,125.1 L488.3,125.7 L488.5,126.3 L488.7,126.9 L488.9,127.5 L489.1,128.1 L489.3,128.6 L489.4,129.2 L489.6,129.8 L489.8,130.4 L490.0,131.0 L490.2,131.6 L490.3,132.2 L490.5,132.8 L490.7,133.4 L490.8,134.0 L491.0,134.5 L491.2,135.1 L491.4,135.8 L491.5,136.4 L491.7,137.0 L491.9,137.6 L492.0,138.2 L492.2,138.7 L492.3,139.3 L492.5,139.9 L492.7,140.5 L492.8,141.1 L493.0,141.7 L493.1,142.3 L493.3,142.9 L493.5,143.5 L493.6,144.0 L493.8,144.6 L493.9,145.2 L494.1,145.8 L494.3,146.4 L494.4,147.0 L494.6,147.6 L494.7,148.2 L494.9,148.7 L495.1,149.3 L495.2,149.9 L495.4,150.5 L495.6,151.1 L495.7,151.7 L495.9,152.3 L496.1,152.9 L496.3,153.5 L496.4,154.1 L496.6,154.7 L496.8,155.3 L497.0,155.9 L497.1,156.5 L497.3,157.1 L497.5,157.6 L497.7,158.2 L497.9,158.8 L498.1,159.4 L498.3,160.0 L498.5,160.6 L498.7,161.1 L498.8,161.5" fill="none" stroke="#1c1c1c" stroke-width="1.5" stroke-linejoin="round" stroke-linecap="round"/>
<path d="M511.2,162.7 L511.5,162.1 L511.7,161.5 L511.9,160.9 L512.1,160.3 L512.2,159.8 L512.4,159.2 L512.6,158.6 L512.8,158.0 L513.0,157.4 L513.2,156.8 L513.3,156.2 L513.5,155.6 L513.7,155.0 L513.9,154.4 L514.0,153.8 L514.2,153.2 L514.4,152.6 L514.5,152.0 L514.7,151.5 L514.9,150.9 L515.0,150.3 L515.2,149.7 L515.3,149.1 L515.5,148.5 L515.7,147.9 L515.8,147.3 L516.0,146.7 L516.1,146.1 L516.3,145.5 L516.5,144.9 L516.6,144.2 L516.8,143.6 L516.9,143.0 L517.1,142.4 L517.3,141.8 L517.4,141.2 L517.6,140.6 L517.7,139.9 L517.9,139.3 L518.1,138.7 L518.2,138.1 L518.4,137.5 L518.5,136.9 L518.7,136.3 L518.9,135.7 L519.0,135.1 L519.2,134.5 L519.3,133.9 L519.5,133.3 L519.7,132.8 L519.8,132.1 L520.0,131.5 L520.2,130.9 L520.3,130.3 L520.5,129.7 L520.7,129.2 L520.9,128.6 L521.0,128.0 L521.2,127.4 L521.4,126.8 L521.6,126.2 L521.8,125.6 L522.0,125.0 L522.1,124.4 L522.3,123.8 L522.5,123.3 L522.6,123.2" fill="none" stroke="#1c1c1c" stroke-width="1.5" stroke-linejoin="round" stroke-linecap="round"/>
<path d="M535.2,122.6 L535.4,123.1 L535.6,123.7 L535.7,124.3 L535.9,124.9 L536.1,125.5 L536.3,126.1 L536.5,126.6 L536.7,127.2 L536.8,127.8 L537.0,128.4 L537.2,129.0 L537.4,129.6 L537.5,130.2 L537.7,130.8 L537.9,131.4 L538.0,132.0 L538.2,132.6 L538.3,133.2 L538.5,133.8 L538.7,134.3 L538.8,134.9 L539.0,135.6 L539.1,136.2 L539.3,136.8 L539.5,137.4 L539.6,138.0 L539.8,138.6 L539.9,139.2 L540.1,139.8 L540.2,140.4 L540.4,141.0 L540.5,141.5 L540.7,142.1 L540.8,142.7 L541.0,143.3 L541.1,143.9 L541.3,144.5 L541.4,145.1 L541.6,145.6 L541.7,146.2 L541.9,146.8 L542.0,147.4 L542.2,148.0 L542.4,148.6 L542.5,149.2 L542.7,149.9 L542.8,150.5 L543.0,151.1 L543.2,151.7 L543.3,152.3 L543.5,152.9 L543.6,153.4 L543.8,154.0 L544.0,154.6 L544.1,155.2 L544.3,155.8 L544.5,156.4 L544.6,157.0 L544.8,157.6 L545.0,158.2 L545.2,158.8 L545.3,159.4 L545.5,160.0 L545.7,160.6 L545.9,161.2 L546.1,161.7 L546.3,162.3 L546.5,162.9 L546.5,163.0" fill="none" stroke="#1c1c1c" stroke-width="1.5" stroke-linejoin="round" stroke-linecap="round"/>
<path d="M558.4,164.3 L558.6,163.7 L558.8,163.1 L559.0,162.5 L559.2,162.0 L559.4,161.4 L559.6,160.8 L559.8,160.2 L560.0,159.6 L560.1,159.0 L560.3,158.4 L560.5,157.9 L560.7,157.3 L560.8,156.7 L561.0,156.0 L561.2,155.5 L561.3,154.9 L561.5,154.3 L561.6,153.7 L561.8,153.1 L562.0,152.5 L562.1,151.9 L562.3,151.2 L562.4,150.7 L562.6,150.1 L562.7,149.5 L562.9,148.9 L563.0,148.3 L563.2,147.7 L563.3,147.1 L563.5,146.5 L563.6,145.9 L563.8,145.3 L563.9,144.7 L564.1,144.1 L564.2,143.5 L564.4,142.9 L564.5,142.3 L564.7,141.7 L564.8,141.1 L565.0,140.5 L565.1,139.9 L565.3,139.3 L565.4,138.7 L565.6,138.1 L565.7,137.5 L565.9,136.9 L566.0,136.3 L566.2,135.7 L566.3,135.1 L566.5,134.5 L566.6,133.9 L566.8,133.3 L567.0,132.7 L567.1,132.1 L567.3,131.5 L567.4,130.9 L567.6,130.3 L567.8,129.7 L567.9,129.1 L568.1,128.5 L568.3,127.9 L568.4,127.3 L568.6,126.7 L568.8,126.1 L569.0,125.5 L569.1,124.9 L569.3,124.4 L569.5,123.8 L569.7,123.2 L569.9,122.6 L570.1,122.0 L570.3,121.4 L570.5,120.9 L570.6,120.5" fill="none" stroke="#1c1c1c" stroke-width="1.5" stroke-linejoin="round" stroke-linecap="round"/>
<path d="M581.1,121.0 L581.3,121.5 L581.5,122.1 L581.7,122.7 L581.9,123.3 L582.0,123.9 L582.2,124.5 L582.4,125.1 L582.5,125.7 L582.7,126.3 L582.9,126.9 L583.0,127.5 L583.2,128.1 L583.4,128.7 L583.5,129.3 L583.7,129.9 L583.8,130.4 L584.0,131.0 L584.1,131.6 L584.3,132.3 L584.4,132.9 L584.6,133.5 L584.7,134.1 L584.9,134.7 L585.0,135.3 L585.1,135.9 L585.3,136.5 L585.4,137.1 L585.6,137.7 L585.7,138.3 L585.8,138.9 L586.0,139.5 L586.1,140.1 L586.3,140.7 L586.4,141.3 L586.5,141.9 L586.7,142.5 L586.8,143.1 L587.0,143.7 L587.1,144.3 L587.2,144.9 L587.4,145.5 L587.5,146.1 L587.7,146.7 L587.8,147.3 L587.9,147.9 L588.1,148.5 L588.2,149.1 L588.4,149.6 L588.5,150.3 L588.7,150.9 L588.8,151.5 L589.0,152.1 L589.1,152.7 L589.3,153.3 L589.4,153.9 L589.6,154.5 L589.7,155.1 L589.9,155.7 L590.0,156.3 L590.2,156.9 L590.4,157.5 L590.5,158.1 L590.7,158.7 L590.9,159.3 L591.0,159.9 L591.2,160.5 L591.4,161.1 L591.6,161.6 L591.8,162.2 L591.9,162.8 L592.1,163.4 L592.3,164.0 L592.6,164.6 L592.8,165.2 L592.9,165.4" fill="none" stroke="#1c1c1c" stroke-width="1.5" stroke-linejoin="round" stroke-linecap="round"/>
<path d="M601.2,164.8 L601.4,164.2 L601.6,163.6 L601.8,163.1 L601.9,162.5 L602.1,161.9 L602.3,161.3 L602.4,160.7 L602.6,160.1 L602.8,159.4 L602.9,158.9 L603.1,158.3 L603.2,157.6 L603.4,157.0 L603.5,156.4 L603.6,155.8 L603.8,155.2 L603.9,154.6 L604.1,154.0 L604.2,153.4 L604.3,152.8 L604.5,152.2 L604.6,151.6 L604.7,151.0 L604.9,150.4 L605.0,149.8 L605.1,149.2 L605.3,148.6 L605.4,148.0 L605.5,147.3 L605.6,146.7 L605.8,146.1 L605.9,145.5 L606.0,144.9 L606.2,144.3 L606.3,143.6 L606.4,143.0 L606.6,142.4 L606.7,141.8 L606.8,141.1 L606.9,140.5 L607.1,139.9 L607.2,139.3 L607.3,138.7 L607.5,138.1 L607.6,137.4 L607.7,136.8 L607.9,136.2 L608.0,135.6 L608.1,135.0 L608.2,134.4 L608.4,133.8 L608.5,133.2 L608.7,132.6 L608.8,132.0 L608.9,131.4 L609.1,130.8 L609.2,130.2 L609.4,129.6 L609.5,128.9 L609.7,128.3 L609.8,127.7 L610.0,127.1 L610.1,126.5 L610.3,125.9 L610.4,125.3 L610.6,124.8 L610.8,124.1 L610.9,123.6 L611.1,122.9 L611.3,122.4 L611.5,121.8 L611.7,121.2 L611.9,120.6 L612.1,120.0 L612.3,119.5" fill="none" stroke="#1c1c1c" stroke-width="1.5" stroke-linejoin="round" stroke-linecap="round"/>
<path d="M618.7,120.6 L618.8,121.2 L619.0,121.8 L619.2,122.4 L619.3,123.0 L619.5,123.6 L619.6,124.2 L619.7,124.8 L619.9,125.5 L620.0,126.1 L620.1,126.7 L620.3,127.3 L620.4,127.9 L620.5,128.5 L620.6,129.1 L620.8,129.7 L620.9,130.3 L621.0,131.0 L621.1,131.6 L621.2,132.2 L621.4,132.9 L621.5,133.5 L621.6,134.0 L621.7,134.6 L621.8,135.2 L621.9,135.9 L622.0,136.5 L622.1,137.1 L622.2,137.7 L622.4,138.3 L622.5,138.9 L622.6,139.5 L622.7,140.2 L622.8,140.8 L622.9,141.4 L623.0,142.0 L623.1,142.6 L623.2,143.3 L623.3,143.9 L623.5,144.5 L623.6,145.1 L623.7,145.7 L623.8,146.3 L623.9,147.0 L624.0,147.6 L624.1,148.2 L624.2,148.8 L624.3,149.4 L624.5,150.0 L624.6,150.6 L624.7,151.3 L624.8,151.9 L624.9,152.5 L625.1,153.1 L625.2,153.7 L625.3,154.3 L625.4,154.9 L625.6,155.6 L625.7,156.2 L625.8,156.8 L625.9,157.4 L626.1,158.0 L626.2,158.6 L626.4,159.2 L626.5,159.8 L626.7,160.4 L626.8,161.0 L627.0,161.6 L627.2,162.2 L627.3,162.8 L627.5,163.4 L627.7,164.0 L627.9,164.6 L628.2,165.1 L628.4,165.7 L628.4,165.7" fill="none" stroke="#1c1c1c" stroke-width="1.5" stroke-linejoin="round" stroke-linecap="round"/>
<path d="M632.1,164.0 L632.2,163.4 L632.4,162.8 L632.5,162.2 L632.6,161.6 L632.8,160.9 L632.9,160.3 L633.0,159.7 L633.1,159.1 L633.2,158.5 L633.3,157.8 L633.5,157.2 L633.6,156.6 L633.7,156.0 L633.8,155.4 L633.9,154.8 L634.0,154.1 L634.1,153.5 L634.2,152.8 L634.2,152.2 L634.3,151.6 L634.4,151.0 L634.5,150.4 L634.6,149.8 L634.7,149.2 L634.8,148.5 L634.9,147.9 L635.0,147.3 L635.1,146.6 L635.1,146.0 L635.2,145.3 L635.3,144.7 L635.4,144.0 L635.5,143.4 L635.6,142.7 L635.7,142.1 L635.8,141.4 L635.9,140.8 L636.0,140.2 L636.0,139.5 L636.1,138.9 L636.2,138.2 L636.3,137.6 L636.4,137.0 L636.5,136.4 L636.6,135.7 L636.7,135.1 L636.8,134.5 L636.9,133.9 L636.9,133.3 L637.0,132.7 L637.1,132.0 L637.2,131.4 L637.3,130.7 L637.4,130.1 L637.5,129.5 L637.6,128.9 L637.8,128.3 L637.9,127.7 L638.0,127.1 L638.1,126.4 L638.2,125.8 L638.3,125.2 L638.5,124.6 L638.6,124.0 L638.7,123.4 L638.9,122.7 L639.0,122.1 L639.2,121.5 L639.4,120.9 L639.6,120.4 L639.8,119.8 L640.1,119.3 L640.2,119.1" fill="none" stroke="#1c1c1c" stroke-width="1.5" stroke-linejoin="round" stroke-linecap="round"/>
<path d="M641.6,120.0 L641.8,120.7 L641.9,121.3 L642.0,121.9 L642.1,122.5 L642.2,123.2 L642.3,123.8 L642.4,124.4 L642.5,125.0 L642.6,125.6 L642.7,126.3 L642.7,126.9 L642.8,127.5 L642.9,128.2 L642.9,128.8 L643.0,129.4 L643.1,130.1 L643.2,130.8 L643.2,131.5 L643.3,132.1 L643.3,132.7 L643.4,133.3 L643.5,133.9 L643.5,134.5 L643.6,135.2 L643.6,135.8 L643.7,136.4 L643.8,137.1 L643.8,137.7 L643.9,138.4 L643.9,139.0 L644.0,139.7 L644.1,140.4 L644.1,141.0 L644.2,141.7 L644.2,142.4 L644.3,143.0 L644.4,143.7 L644.4,144.3 L644.5,145.0 L644.5,145.6 L644.6,146.3 L644.7,146.9 L644.7,147.6 L644.8,148.2 L644.8,148.9 L644.9,149.5 L645.0,150.1 L645.0,150.7 L645.1,151.3 L645.1,151.9 L645.2,152.6 L645.3,153.3 L645.4,154.0 L645.4,154.6 L645.5,155.3 L645.6,155.9 L645.6,156.5 L645.7,157.2 L645.8,157.8 L645.9,158.4 L646.0,159.0 L646.0,159.3" fill="none" stroke="#1c1c1c" stroke-width="1.5" stroke-linejoin="round" stroke-linecap="round"/>
<path d="M389.2,126.8 L389.7,127.1" fill="none" stroke="#e2b536" stroke-width="1.5" stroke-linejoin="round" stroke-linecap="round"/>
<path d="M394.3,157.3 L394.5,157.9 L394.7,158.5 L394.9,159.1 L395.2,159.6 L395.7,159.6 L396.2,159.2 L396.3,158.9" fill="none" stroke="#e2b536" stroke-width="1.5" stroke-linejoin="round" stroke-linecap="round"/>
<path d="M403.1,127.0 L403.3,126.5 L403.5,125.9 L403.7,125.3 L403.9,124.7 L404.1,124.1 L404.4,123.6 L404.7,123.1 L405.1,122.7 L405.7,122.6 L406.2,122.9 L406.7,123.4 L407.0,123.8 L407.4,124.4 L407.6,124.9 L407.8,125.2" fill="none" stroke="#e2b536" stroke-width="1.5" stroke-linejoin="round" stroke-linecap="round"/>
<path d="M416.6,158.7 L416.8,159.3 L417.0,159.8 L417.2,160.4 L417.4,161.0 L417.7,161.5 L417.9,162.1 L418.2,162.7 L418.5,163.2 L418.8,163.7 L419.2,164.2 L419.7,164.5 L420.3,164.7 L420.9,164.6 L421.4,164.3 L421.8,163.9 L422.2,163.4 L422.6,162.9 L422.9,162.4 L423.2,161.9 L423.4,161.3 L423.7,160.7 L423.9,160.2 L424.0,160.1" fill="none" stroke="#e2b536" stroke-width="1.5" stroke-linejoin="round" stroke-linecap="round"/>
<path d="M433.6,125.8 L433.8,125.2 L434.0,124.6 L434.2,124.0 L434.4,123.5 L434.7,122.9 L434.9,122.3 L435.2,121.8 L435.4,121.2 L435.7,120.7 L436.0,120.2 L436.4,119.7 L436.8,119.2 L437.2,118.8 L437.8,118.5 L438.4,118.4 L438.9,118.5 L439.5,118.8 L439.9,119.2 L440.4,119.6 L440.7,120.1 L441.1,120.6 L441.4,121.1 L441.7,121.7 L442.0,122.2 L442.3,122.8 L442.5,123.3 L442.7,123.9 L443.0,124.4 L443.1,124.6" fill="none" stroke="#e2b536" stroke-width="1.5" stroke-linejoin="round" stroke-linecap="round"/>
<path d="M453.5,160.1 L453.7,160.7 L453.9,161.3 L454.1,161.9 L454.3,162.4 L454.6,163.0 L454.8,163.5 L455.1,164.1 L455.3,164.6 L455.6,165.2 L455.9,165.7 L456.2,166.2 L456.6,166.7 L457.0,167.2 L457.4,167.7 L457.9,168.0 L458.4,168.3 L459.0,168.4 L459.6,168.3 L460.1,168.1 L460.6,167.7 L461.1,167.3 L461.5,166.8 L461.8,166.3 L462.2,165.8 L462.5,165.3 L462.8,164.8 L463.1,164.2 L463.3,163.7 L463.6,163.1 L463.8,162.5 L464.1,162.0 L464.3,161.4 L464.4,161.1" fill="none" stroke="#e2b536" stroke-width="1.5" stroke-linejoin="round" stroke-linecap="round"/>
<path d="M475.2,124.8 L475.4,124.2 L475.6,123.6 L475.9,123.0 L476.1,122.5 L476.3,121.9 L476.5,121.3 L476.8,120.8 L477.0,120.2 L477.3,119.7 L477.6,119.1 L477.8,118.6 L478.1,118.1 L478.5,117.5 L478.8,117.0 L479.2,116.6 L479.6,116.1 L480.1,115.7 L480.6,115.4 L481.2,115.2 L481.8,115.2 L482.3,115.4 L482.9,115.7 L483.3,116.0 L483.8,116.5 L484.2,116.9 L484.5,117.4 L484.9,117.9 L485.2,118.4 L485.5,119.0 L485.8,119.5 L486.0,120.1 L486.3,120.6 L486.5,121.2 L486.8,121.7 L487.0,122.3 L487.2,122.9 L487.4,123.4" fill="none" stroke="#e2b536" stroke-width="1.5" stroke-linejoin="round" stroke-linecap="round"/>
<path d="M498.8,161.5 L499.0,162.1 L499.2,162.7 L499.4,163.3 L499.7,163.8 L499.9,164.4 L500.1,165.0 L500.4,165.5 L500.6,166.1 L500.9,166.6 L501.2,167.2 L501.5,167.7 L501.8,168.2 L502.1,168.8 L502.5,169.3 L502.8,169.7 L503.2,170.2 L503.7,170.6 L504.2,170.9 L504.8,171.1 L505.4,171.2 L506.0,171.1 L506.5,170.8 L507.0,170.5 L507.4,170.0 L507.8,169.6 L508.2,169.1 L508.5,168.6 L508.8,168.1 L509.1,167.5 L509.4,167.0 L509.7,166.4 L509.9,165.9 L510.2,165.3 L510.4,164.7 L510.7,164.2 L510.9,163.6 L511.1,163.0 L511.2,162.7" fill="none" stroke="#e2b536" stroke-width="1.5" stroke-linejoin="round" stroke-linecap="round"/>
<path d="M522.6,123.2 L522.8,122.6 L523.0,122.0 L523.2,121.5 L523.4,120.9 L523.6,120.3 L523.9,119.8 L524.1,119.2 L524.3,118.6 L524.6,118.1 L524.9,117.5 L525.2,117.0 L525.5,116.4 L525.8,115.9 L526.1,115.4 L526.5,114.9 L526.9,114.5 L527.3,114.0 L527.8,113.7 L528.3,113.4 L528.9,113.3 L529.5,113.4 L530.1,113.6 L530.6,114.0 L531.0,114.4 L531.4,114.8 L531.8,115.3 L532.1,115.8 L532.5,116.3 L532.8,116.9 L533.0,117.4 L533.3,118.0 L533.6,118.5 L533.8,119.1 L534.1,119.7 L534.3,120.2 L534.5,120.8 L534.7,121.4 L534.9,122.0 L535.1,122.5 L535.2,122.6" fill="none" stroke="#e2b536" stroke-width="1.5" stroke-linejoin="round" stroke-linecap="round"/>
<path d="M546.5,163.0 L546.7,163.6 L546.9,164.2 L547.2,164.8 L547.4,165.3 L547.6,165.9 L547.8,166.5 L548.1,167.0 L548.3,167.6 L548.6,168.1 L548.9,168.7 L549.1,169.2 L549.4,169.7 L549.8,170.3 L550.1,170.8 L550.5,171.2 L550.9,171.7 L551.4,172.1 L551.9,172.4 L552.5,172.6 L553.1,172.6 L553.6,172.4 L554.2,172.1 L554.6,171.7 L555.0,171.3 L555.4,170.8 L555.7,170.3 L556.1,169.7 L556.4,169.2 L556.6,168.7 L556.9,168.1 L557.2,167.6 L557.4,167.0 L557.6,166.4 L557.9,165.8 L558.1,165.3 L558.3,164.7 L558.4,164.3" fill="none" stroke="#e2b536" stroke-width="1.5" stroke-linejoin="round" stroke-linecap="round"/>
<path d="M570.6,120.5 L570.9,119.9 L571.1,119.3 L571.3,118.8 L571.6,118.2 L571.8,117.6 L572.1,117.1 L572.4,116.5 L572.6,116.0 L573.0,115.5 L573.3,115.0 L573.6,114.5 L574.0,114.0 L574.5,113.6 L575.0,113.3 L575.5,113.1 L576.1,113.0 L576.7,113.2 L577.2,113.5 L577.7,113.9 L578.1,114.4 L578.4,114.9 L578.7,115.4 L579.0,115.9 L579.3,116.5 L579.6,117.0 L579.8,117.6 L580.1,118.1 L580.3,118.7 L580.5,119.3 L580.7,119.9 L580.9,120.4 L581.1,121.0" fill="none" stroke="#e2b536" stroke-width="1.5" stroke-linejoin="round" stroke-linecap="round"/>
<path d="M592.9,165.4 L593.1,166.0 L593.3,166.6 L593.6,167.2 L593.9,167.7 L594.1,168.3 L594.4,168.8 L594.8,169.3 L595.1,169.8 L595.5,170.3 L595.9,170.7 L596.4,171.0 L597.0,171.2 L597.6,171.1 L598.2,170.8 L598.6,170.4 L599.0,169.9 L599.3,169.4 L599.6,168.9 L599.9,168.3 L600.1,167.8 L600.4,167.2 L600.6,166.6 L600.8,166.1 L601.0,165.5 L601.2,164.9 L601.2,164.8" fill="none" stroke="#e2b536" stroke-width="1.5" stroke-linejoin="round" stroke-linecap="round"/>
<path d="M612.3,119.5 L612.5,118.9 L612.7,118.4 L613.0,117.8 L613.3,117.3 L613.6,116.7 L613.9,116.2 L614.3,115.8 L614.8,115.4 L615.3,115.1 L615.9,115.2 L616.4,115.5 L616.8,116.0 L617.1,116.5 L617.4,117.1 L617.7,117.6 L617.9,118.2 L618.1,118.8 L618.3,119.4 L618.5,119.9 L618.6,120.6 L618.7,120.6" fill="none" stroke="#e2b536" stroke-width="1.5" stroke-linejoin="round" stroke-linecap="round"/>
<path d="M628.4,165.7 L628.7,166.3 L629.0,166.8 L629.4,167.3 L630.0,167.6 L630.5,167.5 L630.9,167.0 L631.2,166.5 L631.5,165.9 L631.7,165.3 L631.9,164.7 L632.0,164.1 L632.1,164.0" fill="none" stroke="#e2b536" stroke-width="1.5" stroke-linejoin="round" stroke-linecap="round"/>
<path d="M640.2,119.1 L640.6,118.7 L641.1,118.8 L641.4,119.3 L641.6,119.9 L641.6,120.0" fill="none" stroke="#e2b536" stroke-width="1.5" stroke-linejoin="round" stroke-linecap="round"/>
</g>
<g clip-path="url(#cp_f)">
<line x1="386.1" y1="199.0" x2="386.1" y2="261" stroke="#444" stroke-width="1.1" stroke-dasharray="1.1 5.2"/>
<line x1="387.9" y1="201.8" x2="387.9" y2="261" stroke="#444" stroke-width="1.1" stroke-dasharray="1.1 5.2"/>
<path d="M386.5,100.6 L386.6,101.2 L386.7,101.8 L386.7,102.5 L386.8,103.1 L386.8,103.8 L386.9,104.5 L386.9,105.2 L386.9,105.9 L387.0,106.6 L387.0,107.4 L387.1,108.0 L387.1,108.6 L387.1,109.3 L387.1,109.9 L387.2,110.6 L387.2,111.4 L387.2,112.1 L387.3,112.9 L387.3,113.7 L387.3,114.5 L387.4,115.3 L387.4,116.1 L387.4,117.0 L387.4,117.9 L387.5,118.5 L387.5,119.1 L387.5,119.7 L387.5,120.4 L387.5,121.0 L387.6,121.7 L387.6,122.3 L387.6,123.0 L387.6,123.6 L387.6,124.3 L387.7,125.0 L387.7,125.7 L387.7,126.4 L387.7,127.1 L387.7,127.8 L387.8,128.6 L387.8,129.3 L387.8,130.1 L387.8,130.8 L387.8,131.6 L387.9,132.3 L387.9,133.1 L387.9,133.9 L387.9,134.7 L387.9,135.5 L388.0,136.2 L388.0,137.1 L388.0,137.9 L388.0,138.7 L388.0,139.5 L388.1,140.3 L388.1,141.2 L388.1,142.0 L388.1,142.9 L388.1,143.7 L388.2,144.6 L388.2,145.4 L388.2,146.3 L388.2,147.2 L388.2,148.1 L388.3,148.9 L388.3,149.8 L388.3,150.7 L388.3,151.6 L388.3,152.5 L388.4,153.4 L388.4,154.3 L388.4,155.3 L388.4,156.2 L388.4,157.1 L388.5,158.0 L388.5,159.0 L388.5,159.9 L388.5,160.8 L388.5,161.8 L388.6,162.7 L388.6,163.7 L388.6,164.6 L388.6,165.6 L388.6,166.5 L388.7,167.5 L388.7,168.4 L388.7,169.4 L388.7,170.4 L388.7,171.3 L388.8,172.3 L388.8,173.3 L388.8,174.2 L388.8,175.2 L388.8,176.2 L388.9,177.2 L388.9,178.2 L388.9,179.1 L388.9,180.1 L388.9,181.1 L389.0,182.1 L389.0,183.1 L389.0,184.0 L389.0,185.0 L389.0,186.0 L389.1,187.0 L389.1,188.0 L389.1,188.9 L389.1,189.9 L389.1,190.9 L389.2,191.9 L389.2,192.9 L389.2,193.8 L389.2,194.8 L389.2,195.8 L389.3,196.8 L389.3,197.8 L389.3,198.7 L389.3,199.7 L389.3,200.7 L389.4,201.6 L389.4,202.6 L389.4,203.6 L389.4,204.5 L389.4,205.5 L389.5,206.4 L389.5,207.4 L389.5,208.3 L389.5,209.3 L389.5,210.2 L389.6,211.2 L389.6,212.1 L389.6,213.0 L389.6,214.0 L389.6,214.9 L389.7,215.8 L389.7,216.7" fill="none" stroke="#1c1c1c" stroke-width="1.5" stroke-linejoin="round" stroke-linecap="round"/>
<path d="M390.3,242.7 L390.3,243.4 L390.3,244.2 L390.4,244.9 L390.4,245.6 L390.4,246.3 L390.4,247.0 L390.4,247.7 L390.5,248.4 L390.5,249.0 L390.5,249.7 L390.5,250.3 L390.5,251.0 L390.6,251.6 L390.6,252.3 L390.6,252.9 L390.6,253.5 L390.6,254.1 L390.7,255.0 L390.7,255.9 L390.7,256.7 L390.8,257.5 L390.8,258.3 L390.8,259.1 L390.9,259.9 L390.9,260.6 L390.9,261.4 L390.9,262.1 L391.0,262.7 L391.0,263.4 L391.0,264.0 L391.1,264.6 L391.1,265.4 L391.1,266.1 L391.2,266.8 L391.2,267.5 L391.3,268.1 L391.3,268.8 L391.4,269.4 L391.4,270.1 L391.5,270.7 L391.6,271.4 L391.7,272.0 L392.3,271.0 L392.4,270.4 L392.5,269.8 L392.6,269.1 L392.7,268.5 L392.8,267.9 L392.9,267.3 L393.0,266.7 L393.0,266.0 L393.1,265.3 L393.2,264.7 L393.2,264.1 L393.3,263.5 L393.3,262.8 L393.4,262.1 L393.5,261.4 L393.5,260.8 L393.6,260.2 L393.6,259.5 L393.7,258.9 L393.7,258.2 L393.8,257.6 L393.8,256.9 L393.9,256.2 L393.9,255.5 L394.0,254.8 L394.0,254.1 L394.1,253.3 L394.1,252.6 L394.2,252.0 L394.2,251.4 L394.2,250.8 L394.3,250.1 L394.3,249.5 L394.4,248.9 L394.4,248.3 L394.4,247.6 L394.5,247.0 L394.5,246.4 L394.6,245.7 L394.6,245.1 L394.6,244.4 L394.7,243.8 L394.7,243.1 L394.7,242.9" fill="none" stroke="#1c1c1c" stroke-width="1.5" stroke-linejoin="round" stroke-linecap="round"/>
<path d="M396.4,217.1 L396.4,216.4 L396.5,215.8 L396.5,215.1 L396.6,214.5 L396.6,213.9 L396.7,213.2 L396.7,212.5 L396.8,211.8 L396.9,211.2 L396.9,210.6 L397.0,210.0 L397.1,209.3 L397.1,208.6 L397.2,208.0 L397.3,207.4 L397.4,206.8 L397.4,206.2 L397.5,205.5 L397.7,204.9 L397.8,204.3 L398.0,203.8 L398.3,203.3 L398.8,203.5 L399.3,204.0 L399.6,204.5 L399.9,205.0 L400.1,205.6 L400.3,206.2 L400.5,206.7 L400.7,207.3 L400.9,207.9 L401.1,208.5 L401.2,209.1 L401.4,209.7 L401.5,210.3 L401.7,210.9 L401.8,211.5 L401.9,212.1 L402.1,212.7 L402.2,213.3 L402.3,213.9 L402.5,214.6 L402.6,215.2 L402.7,215.8 L402.8,216.4 L402.9,217.0" fill="none" stroke="#1c1c1c" stroke-width="1.5" stroke-linejoin="round" stroke-linecap="round"/>
<path d="M407.7,242.8 L407.8,243.4 L408.0,244.0 L408.1,244.6 L408.3,245.1 L408.4,245.7 L408.6,246.3 L408.8,246.9 L409.0,247.5 L409.2,248.1 L409.4,248.7 L409.6,249.3 L409.9,249.8 L410.2,250.3 L410.6,250.8 L411.2,251.0 L411.8,250.9 L412.3,250.6 L412.7,250.2 L413.1,249.7 L413.5,249.3 L413.8,248.7 L414.1,248.2 L414.4,247.7 L414.6,247.1 L414.9,246.5 L415.1,246.0 L415.4,245.4 L415.6,244.8 L415.8,244.3 L416.0,243.7 L416.2,243.1 L416.3,242.8" fill="none" stroke="#1c1c1c" stroke-width="1.5" stroke-linejoin="round" stroke-linecap="round"/>
<path d="M424.0,217.0 L424.2,216.4 L424.5,215.9 L424.7,215.3 L425.0,214.8 L425.3,214.2 L425.6,213.7 L425.9,213.2 L426.2,212.7 L426.6,212.2 L427.1,211.8 L427.6,211.5 L428.2,211.4 L428.8,211.5 L429.4,211.7 L429.9,212.1 L430.3,212.5 L430.8,212.9 L431.1,213.4 L431.5,213.9 L431.8,214.4 L432.2,214.9 L432.5,215.4 L432.7,216.0 L433.0,216.5 L433.2,217.0" fill="none" stroke="#1c1c1c" stroke-width="1.5" stroke-linejoin="round" stroke-linecap="round"/>
<path d="M443.1,242.8 L443.4,243.3 L443.7,243.9 L444.0,244.4 L444.3,244.9 L444.7,245.4 L445.0,245.9 L445.4,246.4 L445.8,246.8 L446.3,247.2 L446.8,247.5 L447.4,247.7 L448.0,247.8 L448.6,247.7 L449.1,247.5 L449.7,247.2 L450.2,246.9 L450.6,246.4 L451.0,246.0 L451.4,245.5 L451.8,245.0 L452.1,244.5 L452.5,244.0 L452.8,243.5 L453.1,243.0 L453.2,242.8" fill="none" stroke="#1c1c1c" stroke-width="1.5" stroke-linejoin="round" stroke-linecap="round"/>
<path d="M464.4,217.0 L464.7,216.5 L465.0,216.0 L465.4,215.5 L465.7,215.0 L466.1,214.5 L466.5,214.0 L466.9,213.6 L467.4,213.2 L467.9,212.9 L468.4,212.6 L469.0,212.4 L469.6,212.4 L470.2,212.5 L470.8,212.7 L471.3,212.9 L471.8,213.3 L472.3,213.6 L472.8,214.1 L473.2,214.5 L473.6,215.0 L473.9,215.4 L474.3,215.9 L474.6,216.4 L475.0,216.9 L475.0,217.0" fill="none" stroke="#1c1c1c" stroke-width="1.5" stroke-linejoin="round" stroke-linecap="round"/>
<path d="M487.3,242.8 L487.6,243.3 L488.0,243.8 L488.3,244.3 L488.7,244.8 L489.1,245.3 L489.5,245.7 L489.9,246.1 L490.4,246.5 L490.9,246.9 L491.4,247.2 L492.0,247.4 L492.6,247.5 L493.2,247.5 L493.8,247.4 L494.3,247.2 L494.9,246.9 L495.4,246.6 L495.9,246.2 L496.3,245.8 L496.7,245.3 L497.1,244.9 L497.5,244.4 L497.8,243.9 L498.2,243.4 L498.5,242.9 L498.6,242.8" fill="none" stroke="#1c1c1c" stroke-width="1.5" stroke-linejoin="round" stroke-linecap="round"/>
<path d="M511.1,217.0 L511.4,216.5 L511.8,216.0 L512.1,215.5 L512.5,215.0 L512.9,214.6 L513.3,214.1 L513.8,213.7 L514.2,213.3 L514.7,213.0 L515.3,212.7 L515.8,212.5 L516.4,212.4 L517.0,212.4 L517.6,212.5 L518.2,212.7 L518.7,213.0 L519.2,213.4 L519.7,213.7 L520.1,214.2 L520.6,214.6 L521.0,215.1 L521.3,215.6 L521.7,216.0 L522.1,216.5 L522.3,217.0" fill="none" stroke="#1c1c1c" stroke-width="1.5" stroke-linejoin="round" stroke-linecap="round"/>
<path d="M534.9,242.8 L535.2,243.3 L535.5,243.8 L535.9,244.3 L536.3,244.8 L536.6,245.3 L537.0,245.7 L537.5,246.2 L537.9,246.6 L538.4,246.9 L538.9,247.3 L539.4,247.5 L540.0,247.7 L540.6,247.8 L541.2,247.8 L541.8,247.6 L542.4,247.4 L542.9,247.1 L543.4,246.8 L543.8,246.4 L544.3,245.9 L544.7,245.5 L545.1,245.0 L545.4,244.5 L545.8,244.0 L546.1,243.5 L546.5,243.0 L546.6,242.8" fill="none" stroke="#1c1c1c" stroke-width="1.5" stroke-linejoin="round" stroke-linecap="round"/>
<path d="M558.5,217.0 L558.8,216.5 L559.1,216.0 L559.5,215.4 L559.8,214.9 L560.2,214.5 L560.5,214.0 L560.9,213.5 L561.3,213.1 L561.8,212.6 L562.2,212.2 L562.7,211.9 L563.3,211.6 L563.8,211.4 L564.4,211.3 L565.0,211.3 L565.6,211.5 L566.2,211.7 L566.7,212.0 L567.2,212.4 L567.6,212.8 L568.0,213.2 L568.4,213.7 L568.8,214.2 L569.1,214.7 L569.5,215.2 L569.8,215.7 L570.1,216.3 L570.4,216.8 L570.5,217.0" fill="none" stroke="#1c1c1c" stroke-width="1.5" stroke-linejoin="round" stroke-linecap="round"/>
<path d="M581.4,242.8 L581.7,243.3 L582.0,243.9 L582.3,244.4 L582.6,244.9 L582.9,245.4 L583.3,245.9 L583.6,246.4 L584.0,246.9 L584.4,247.3 L584.9,247.8 L585.3,248.2 L585.8,248.5 L586.4,248.8 L586.9,248.9 L587.5,249.0 L588.1,248.9 L588.7,248.6 L589.2,248.3 L589.6,247.9 L590.0,247.4 L590.4,246.9 L590.7,246.4 L591.0,245.9 L591.3,245.4 L591.6,244.8 L591.9,244.3 L592.1,243.7 L592.4,243.2 L592.6,242.8" fill="none" stroke="#1c1c1c" stroke-width="1.5" stroke-linejoin="round" stroke-linecap="round"/>
<path d="M601.3,217.0 L601.5,216.4 L601.7,215.9 L602.0,215.3 L602.2,214.7 L602.5,214.2 L602.7,213.6 L603.0,213.1 L603.3,212.5 L603.5,212.0 L603.8,211.5 L604.2,210.9 L604.5,210.5 L604.9,210.0 L605.3,209.5 L605.7,209.1 L606.2,208.8 L606.8,208.6 L607.4,208.5 L608.0,208.7 L608.5,209.0 L608.9,209.4 L609.3,209.9 L609.6,210.4 L609.9,211.0 L610.2,211.5 L610.4,212.1 L610.7,212.6 L610.9,213.2 L611.1,213.8 L611.3,214.3 L611.5,214.9 L611.7,215.5 L611.9,216.1 L612.1,216.7 L612.2,217.0" fill="none" stroke="#1c1c1c" stroke-width="1.5" stroke-linejoin="round" stroke-linecap="round"/>
<path d="M618.8,242.8 L619.0,243.4 L619.1,244.0 L619.3,244.6 L619.5,245.2 L619.6,245.8 L619.8,246.4 L620.0,246.9 L620.2,247.5 L620.4,248.1 L620.6,248.7 L620.8,249.3 L621.0,249.9 L621.2,250.4 L621.4,251.0 L621.7,251.6 L621.9,252.1 L622.2,252.7 L622.5,253.2 L622.8,253.7 L623.2,254.2 L623.6,254.6 L624.0,255.0 L624.6,255.3 L625.2,255.2 L625.6,254.8 L625.9,254.3 L626.2,253.7 L626.4,253.1 L626.6,252.6 L626.8,252.0 L626.9,251.4 L627.1,250.8 L627.2,250.2 L627.4,249.6 L627.5,249.0 L627.6,248.4 L627.7,247.8 L627.9,247.2 L628.0,246.5 L628.1,245.9 L628.2,245.3 L628.3,244.7 L628.4,244.0 L628.5,243.4 L628.6,242.8" fill="none" stroke="#1c1c1c" stroke-width="1.5" stroke-linejoin="round" stroke-linecap="round"/>
<path d="M632.2,217.0 L632.3,216.3 L632.4,215.7 L632.4,215.0 L632.5,214.4 L632.6,213.8 L632.7,213.1 L632.8,212.5 L632.9,211.9 L633.0,211.3 L633.1,210.7 L633.2,210.1 L633.3,209.4 L633.4,208.8 L633.5,208.1 L633.6,207.5 L633.7,206.9 L633.8,206.3 L633.9,205.6 L634.0,205.0 L634.1,204.4 L634.2,203.8 L634.3,203.1 L634.4,202.5 L634.6,201.9 L634.7,201.3 L634.8,200.7 L635.0,200.1 L635.1,199.5 L635.3,198.9 L635.4,198.3 L635.6,197.7 L635.8,197.2 L636.0,196.6 L636.3,196.0 L636.6,195.5 L637.0,195.1 L637.8,195.7 L638.0,196.3 L638.1,197.0 L638.2,197.6 L638.3,198.2 L638.4,198.9 L638.5,199.5 L638.6,200.1 L638.7,200.8 L638.8,201.4 L638.8,202.1 L638.9,202.7 L639.0,203.4 L639.0,204.1 L639.1,204.7 L639.2,205.3 L639.2,206.0 L639.3,206.6 L639.3,207.3 L639.4,208.0 L639.5,208.7 L639.5,209.3 L639.6,210.0 L639.6,210.6 L639.7,211.2 L639.7,211.9 L639.8,212.5 L639.8,213.2 L639.9,213.9 L639.9,214.6 L640.0,215.3 L640.0,216.0 L640.1,216.7 L640.1,217.0" fill="none" stroke="#1c1c1c" stroke-width="1.5" stroke-linejoin="round" stroke-linecap="round"/>
<path d="M641.7,242.7 L641.7,243.4 L641.7,244.0 L641.8,244.7 L641.8,245.4 L641.9,246.1 L641.9,246.8 L641.9,247.5 L642.0,248.1 L642.0,248.8 L642.1,249.5 L642.1,250.2 L642.1,250.9 L642.2,251.5 L642.2,252.2 L642.3,252.9 L642.3,253.5 L642.3,254.2 L642.4,254.9 L642.4,255.5 L642.5,256.2 L642.5,256.9 L642.5,257.5 L642.6,258.2 L642.6,258.8 L642.7,259.4 L642.7,260.1 L642.7,260.7 L642.8,261.3 L642.8,262.0 L642.9,262.6 L642.9,263.2 L642.9,263.8 L643.0,264.4 L643.0,265.1 L643.1,265.7 L643.1,266.4 L643.2,267.1 L643.2,267.9 L643.3,268.6 L643.3,269.3 L643.4,270.0 L643.4,270.7 L643.5,271.4 L643.5,272.1 L643.6,272.7 L643.6,273.4 L643.7,274.0 L643.7,274.7 L643.8,275.3 L643.8,275.9 L643.9,276.5 L643.9,277.2 L644.0,277.9 L644.0,278.6 L644.1,279.3 L644.2,279.9 L644.2,280.5 L644.3,281.1 L644.3,281.8 L644.4,282.5 L644.5,283.1 L644.6,283.7 L644.6,284.4 L644.7,285.0 L644.8,285.7 L644.9,286.3 L645.0,286.9 L645.1,287.6 L645.2,288.2 L645.4,288.8 L645.5,289.4 L645.8,289.9 L646.0,290.0" fill="none" stroke="#1c1c1c" stroke-width="1.5" stroke-linejoin="round" stroke-linecap="round"/>
<path d="M389.7,216.7 L389.7,217.7 L389.7,218.6 L389.7,219.5 L389.8,220.4 L389.8,221.3 L389.8,222.2 L389.8,223.1 L389.8,223.9 L389.9,224.8 L389.9,225.7 L389.9,226.6 L389.9,227.4 L389.9,228.3 L390.0,229.1 L390.0,230.0 L390.0,230.8 L390.0,231.7 L390.0,232.5 L390.1,233.3 L390.1,234.1 L390.1,234.9 L390.1,235.8 L390.1,236.5 L390.2,237.3 L390.2,238.1 L390.2,238.9 L390.2,239.7 L390.2,240.4 L390.3,241.2 L390.3,241.9 L390.3,242.7" fill="none" stroke="#e2b536" stroke-width="1.5" stroke-linejoin="round" stroke-linecap="round"/>
<path d="M394.7,242.9 L394.8,242.3 L394.8,241.6 L394.8,241.0 L394.9,240.3 L394.9,239.6 L395.0,239.0 L395.0,238.3 L395.0,237.7 L395.1,237.0 L395.1,236.3 L395.2,235.7 L395.2,235.0 L395.2,234.3 L395.3,233.7 L395.3,233.0 L395.4,232.4 L395.4,231.7 L395.4,231.1 L395.5,230.4 L395.5,229.8 L395.6,229.1 L395.6,228.5 L395.6,227.8 L395.7,227.2 L395.7,226.6 L395.8,225.9 L395.8,225.3 L395.8,224.7 L395.9,224.1 L395.9,223.5 L396.0,222.9 L396.0,222.1 L396.1,221.4 L396.1,220.7 L396.2,220.0 L396.2,219.2 L396.3,218.5 L396.3,217.9 L396.4,217.2 L396.4,217.1" fill="none" stroke="#e2b536" stroke-width="1.5" stroke-linejoin="round" stroke-linecap="round"/>
<path d="M402.9,217.0 L403.1,217.6 L403.2,218.3 L403.3,218.8 L403.4,219.4 L403.5,220.1 L403.6,220.7 L403.7,221.3 L403.8,221.9 L403.9,222.5 L404.1,223.2 L404.2,223.8 L404.3,224.4 L404.4,225.1 L404.5,225.7 L404.6,226.3 L404.7,227.0 L404.8,227.6 L404.9,228.3 L405.0,228.9 L405.2,229.5 L405.3,230.2 L405.4,230.8 L405.5,231.4 L405.6,232.1 L405.7,232.7 L405.8,233.3 L405.9,233.9 L406.0,234.5 L406.1,235.1 L406.3,235.7 L406.4,236.3 L406.5,237.0 L406.6,237.6 L406.7,238.2 L406.8,238.8 L407.0,239.4 L407.1,240.0 L407.2,240.6 L407.3,241.3 L407.5,241.9 L407.6,242.5 L407.7,242.8" fill="none" stroke="#e2b536" stroke-width="1.5" stroke-linejoin="round" stroke-linecap="round"/>
<path d="M416.3,242.8 L416.5,242.2 L416.7,241.7 L416.9,241.1 L417.1,240.5 L417.2,239.9 L417.4,239.3 L417.6,238.7 L417.8,238.1 L417.9,237.5 L418.1,236.9 L418.3,236.3 L418.4,235.7 L418.6,235.1 L418.8,234.5 L418.9,233.9 L419.1,233.4 L419.3,232.8 L419.4,232.2 L419.6,231.6 L419.7,231.0 L419.9,230.4 L420.1,229.8 L420.2,229.3 L420.4,228.7 L420.5,228.1 L420.7,227.5 L420.9,226.9 L421.1,226.3 L421.2,225.7 L421.4,225.1 L421.6,224.5 L421.7,223.9 L421.9,223.3 L422.1,222.7 L422.3,222.1 L422.5,221.5 L422.6,220.9 L422.8,220.3 L423.0,219.8 L423.2,219.2 L423.4,218.6 L423.6,218.0 L423.8,217.5 L424.0,217.0" fill="none" stroke="#e2b536" stroke-width="1.5" stroke-linejoin="round" stroke-linecap="round"/>
<path d="M433.2,217.0 L433.5,217.5 L433.8,218.1 L434.0,218.7 L434.2,219.2 L434.5,219.8 L434.7,220.4 L434.9,220.9 L435.2,221.5 L435.4,222.1 L435.6,222.7 L435.8,223.2 L436.0,223.8 L436.2,224.4 L436.4,225.0 L436.6,225.6 L436.8,226.1 L437.0,226.7 L437.2,227.3 L437.4,227.9 L437.6,228.4 L437.8,229.0 L438.0,229.6 L438.2,230.2 L438.4,230.8 L438.6,231.3 L438.8,231.9 L439.0,232.5 L439.2,233.1 L439.4,233.6 L439.7,234.2 L439.9,234.8 L440.1,235.4 L440.3,236.0 L440.5,236.5 L440.7,237.1 L440.9,237.7 L441.2,238.3 L441.4,238.8 L441.6,239.4 L441.8,240.0 L442.1,240.5 L442.3,241.1 L442.6,241.7 L442.8,242.2 L443.1,242.8 L443.1,242.8" fill="none" stroke="#e2b536" stroke-width="1.5" stroke-linejoin="round" stroke-linecap="round"/>
<path d="M453.2,242.8 L453.5,242.3 L453.8,241.8 L454.0,241.2 L454.3,240.6 L454.6,240.1 L454.8,239.5 L455.1,239.0 L455.3,238.4 L455.6,237.9 L455.8,237.3 L456.0,236.8 L456.3,236.2 L456.5,235.6 L456.7,235.1 L457.0,234.5 L457.2,233.9 L457.4,233.3 L457.7,232.8 L457.9,232.2 L458.1,231.6 L458.3,231.1 L458.5,230.5 L458.8,229.9 L459.0,229.4 L459.2,228.8 L459.4,228.2 L459.6,227.7 L459.9,227.1 L460.1,226.5 L460.3,226.0 L460.5,225.4 L460.8,224.8 L461.0,224.3 L461.2,223.7 L461.5,223.1 L461.7,222.6 L462.0,222.0 L462.2,221.5 L462.5,220.9 L462.7,220.3 L463.0,219.8 L463.2,219.2 L463.5,218.7 L463.8,218.1 L464.1,217.6 L464.4,217.1 L464.4,217.0" fill="none" stroke="#e2b536" stroke-width="1.5" stroke-linejoin="round" stroke-linecap="round"/>
<path d="M475.0,217.0 L475.3,217.5 L475.6,218.0 L475.9,218.6 L476.2,219.1 L476.5,219.6 L476.8,220.2 L477.1,220.7 L477.3,221.3 L477.6,221.8 L477.9,222.4 L478.1,222.9 L478.4,223.5 L478.6,224.1 L478.9,224.6 L479.1,225.2 L479.4,225.8 L479.6,226.3 L479.9,226.9 L480.1,227.4 L480.4,228.0 L480.6,228.5 L480.8,229.1 L481.1,229.7 L481.3,230.2 L481.6,230.8 L481.8,231.4 L482.0,231.9 L482.3,232.5 L482.5,233.0 L482.8,233.6 L483.0,234.1 L483.2,234.7 L483.5,235.3 L483.7,235.8 L484.0,236.4 L484.3,237.0 L484.5,237.5 L484.8,238.1 L485.0,238.6 L485.3,239.2 L485.6,239.7 L485.9,240.3 L486.2,240.8 L486.5,241.3 L486.8,241.9 L487.1,242.4 L487.3,242.8" fill="none" stroke="#e2b536" stroke-width="1.5" stroke-linejoin="round" stroke-linecap="round"/>
<path d="M498.6,242.8 L498.9,242.3 L499.2,241.8 L499.5,241.3 L499.8,240.7 L500.1,240.2 L500.4,239.6 L500.6,239.1 L500.9,238.6 L501.2,238.0 L501.5,237.4 L501.7,236.9 L502.0,236.3 L502.2,235.8 L502.5,235.2 L502.7,234.7 L503.0,234.1 L503.2,233.5 L503.5,233.0 L503.7,232.4 L504.0,231.8 L504.2,231.3 L504.5,230.7 L504.7,230.2 L504.9,229.6 L505.2,229.1 L505.4,228.5 L505.7,228.0 L505.9,227.4 L506.1,226.8 L506.4,226.3 L506.6,225.7 L506.9,225.1 L507.1,224.6 L507.4,224.0 L507.7,223.5 L507.9,222.9 L508.2,222.4 L508.4,221.8 L508.7,221.3 L509.0,220.7 L509.3,220.2 L509.5,219.7 L509.8,219.1 L510.1,218.6 L510.4,218.1 L510.7,217.5 L511.1,217.0 L511.1,217.0" fill="none" stroke="#e2b536" stroke-width="1.5" stroke-linejoin="round" stroke-linecap="round"/>
<path d="M522.3,217.0 L522.7,217.5 L523.0,218.0 L523.3,218.6 L523.6,219.1 L523.9,219.6 L524.2,220.2 L524.5,220.7 L524.7,221.3 L525.0,221.8 L525.3,222.4 L525.5,222.9 L525.8,223.5 L526.1,224.0 L526.3,224.6 L526.6,225.2 L526.8,225.7 L527.1,226.3 L527.3,226.8 L527.6,227.4 L527.8,228.0 L528.1,228.5 L528.3,229.1 L528.5,229.6 L528.8,230.2 L529.0,230.7 L529.3,231.3 L529.5,231.9 L529.7,232.4 L530.0,233.0 L530.2,233.5 L530.5,234.1 L530.7,234.7 L531.0,235.2 L531.2,235.8 L531.5,236.3 L531.8,236.9 L532.0,237.4 L532.3,238.0 L532.6,238.5 L532.8,239.1 L533.1,239.6 L533.4,240.2 L533.7,240.7 L534.0,241.2 L534.3,241.8 L534.6,242.3 L534.9,242.8" fill="none" stroke="#e2b536" stroke-width="1.5" stroke-linejoin="round" stroke-linecap="round"/>
<path d="M546.6,242.8 L546.9,242.3 L547.2,241.8 L547.5,241.2 L547.7,240.7 L548.0,240.2 L548.3,239.6 L548.6,239.1 L548.8,238.5 L549.1,238.0 L549.4,237.4 L549.6,236.8 L549.9,236.3 L550.1,235.7 L550.4,235.2 L550.6,234.6 L550.8,234.1 L551.1,233.5 L551.3,232.9 L551.6,232.4 L551.8,231.8 L552.0,231.2 L552.3,230.7 L552.5,230.1 L552.8,229.5 L553.0,228.9 L553.2,228.4 L553.5,227.8 L553.7,227.2 L554.0,226.6 L554.2,226.1 L554.4,225.5 L554.7,224.9 L554.9,224.4 L555.2,223.8 L555.4,223.3 L555.7,222.7 L555.9,222.1 L556.2,221.6 L556.4,221.0 L556.7,220.5 L557.0,219.9 L557.2,219.4 L557.5,218.8 L557.8,218.3 L558.1,217.7 L558.4,217.2 L558.5,217.0" fill="none" stroke="#e2b536" stroke-width="1.5" stroke-linejoin="round" stroke-linecap="round"/>
<path d="M570.5,217.0 L570.8,217.5 L571.1,218.1 L571.3,218.6 L571.6,219.2 L571.8,219.7 L572.1,220.3 L572.3,220.8 L572.6,221.4 L572.8,222.0 L573.1,222.5 L573.3,223.1 L573.5,223.7 L573.8,224.2 L574.0,224.8 L574.2,225.4 L574.5,226.0 L574.7,226.5 L574.9,227.1 L575.1,227.6 L575.3,228.2 L575.6,228.8 L575.8,229.3 L576.0,229.9 L576.2,230.5 L576.4,231.1 L576.7,231.6 L576.9,232.2 L577.1,232.8 L577.3,233.3 L577.5,233.9 L577.8,234.4 L578.0,235.0 L578.2,235.6 L578.5,236.2 L578.7,236.7 L578.9,237.3 L579.2,237.9 L579.4,238.4 L579.6,239.0 L579.9,239.6 L580.1,240.1 L580.4,240.7 L580.7,241.2 L580.9,241.8 L581.2,242.3 L581.4,242.8" fill="none" stroke="#e2b536" stroke-width="1.5" stroke-linejoin="round" stroke-linecap="round"/>
<path d="M592.6,242.8 L592.8,242.3 L593.0,241.7 L593.3,241.1 L593.5,240.5 L593.7,240.0 L593.9,239.4 L594.1,238.8 L594.3,238.2 L594.5,237.7 L594.7,237.1 L594.9,236.5 L595.1,235.9 L595.3,235.3 L595.5,234.7 L595.7,234.1 L595.9,233.6 L596.1,233.0 L596.3,232.4 L596.5,231.8 L596.6,231.2 L596.8,230.6 L597.0,230.0 L597.2,229.5 L597.4,228.9 L597.5,228.3 L597.7,227.7 L597.9,227.1 L598.1,226.6 L598.3,226.0 L598.4,225.4 L598.6,224.8 L598.8,224.2 L599.0,223.6 L599.2,223.0 L599.4,222.4 L599.6,221.9 L599.8,221.3 L600.0,220.7 L600.2,220.1 L600.4,219.5 L600.6,219.0 L600.8,218.4 L601.0,217.8 L601.2,217.2 L601.3,217.0" fill="none" stroke="#e2b536" stroke-width="1.5" stroke-linejoin="round" stroke-linecap="round"/>
<path d="M612.2,217.0 L612.4,217.6 L612.6,218.2 L612.8,218.8 L612.9,219.4 L613.1,220.0 L613.3,220.5 L613.4,221.1 L613.6,221.7 L613.7,222.3 L613.9,222.9 L614.0,223.5 L614.2,224.1 L614.3,224.7 L614.5,225.3 L614.6,225.9 L614.8,226.5 L614.9,227.1 L615.1,227.7 L615.2,228.4 L615.4,229.0 L615.5,229.6 L615.7,230.2 L615.8,230.8 L616.0,231.4 L616.1,232.0 L616.3,232.6 L616.4,233.2 L616.5,233.7 L616.7,234.4 L616.8,235.0 L617.0,235.6 L617.1,236.2 L617.3,236.8 L617.4,237.4 L617.6,238.1 L617.7,238.7 L617.9,239.3 L618.0,239.8 L618.2,240.4 L618.3,241.0 L618.5,241.7 L618.7,242.3 L618.8,242.8" fill="none" stroke="#e2b536" stroke-width="1.5" stroke-linejoin="round" stroke-linecap="round"/>
<path d="M628.6,242.8 L628.7,242.2 L628.8,241.5 L628.9,240.9 L629.0,240.2 L629.1,239.6 L629.2,239.0 L629.3,238.4 L629.4,237.8 L629.5,237.2 L629.6,236.5 L629.7,235.9 L629.7,235.3 L629.8,234.6 L629.9,234.0 L630.0,233.3 L630.1,232.6 L630.2,232.0 L630.3,231.4 L630.4,230.8 L630.4,230.2 L630.5,229.6 L630.6,229.0 L630.7,228.4 L630.8,227.7 L630.8,227.1 L630.9,226.5 L631.0,225.9 L631.1,225.3 L631.2,224.7 L631.2,224.1 L631.3,223.5 L631.4,222.9 L631.5,222.3 L631.6,221.6 L631.6,221.0 L631.7,220.4 L631.8,219.8 L631.9,219.2 L632.0,218.6 L632.0,218.0 L632.1,217.4 L632.2,217.0" fill="none" stroke="#e2b536" stroke-width="1.5" stroke-linejoin="round" stroke-linecap="round"/>
<path d="M640.1,217.0 L640.1,217.7 L640.2,218.5 L640.2,219.2 L640.3,219.8 L640.3,220.4 L640.3,221.0 L640.4,221.6 L640.4,222.2 L640.5,222.9 L640.5,223.5 L640.5,224.1 L640.6,224.8 L640.6,225.4 L640.7,226.0 L640.7,226.7 L640.7,227.3 L640.8,228.0 L640.8,228.6 L640.9,229.3 L640.9,230.0 L640.9,230.6 L641.0,231.3 L641.0,232.0 L641.1,232.6 L641.1,233.3 L641.1,234.0 L641.2,234.6 L641.2,235.3 L641.3,236.0 L641.3,236.7 L641.3,237.4 L641.4,238.0 L641.4,238.7 L641.5,239.4 L641.5,240.1 L641.5,240.8 L641.6,241.5 L641.6,242.2 L641.7,242.7" fill="none" stroke="#e2b536" stroke-width="1.5" stroke-linejoin="round" stroke-linecap="round"/>
</g>
<g clip-path="url(#cp_h)">
<path d="M386.5,342.6 L387.1,342.6 L387.7,342.6 L388.3,342.6 L388.9,342.6 L389.2,342.6" fill="none" stroke="#1c1c1c" stroke-width="1.5" stroke-linejoin="round" stroke-linecap="round"/>
<path d="M389.7,342.6 L390.3,342.6 L390.9,342.7 L391.5,342.7 L392.1,342.8 L392.7,342.8 L393.3,342.8 L393.9,342.9 L394.3,342.9" fill="none" stroke="#1c1c1c" stroke-width="1.5" stroke-linejoin="round" stroke-linecap="round"/>
<path d="M396.3,342.9 L396.9,342.9 L397.5,342.9 L398.1,342.9 L398.7,342.9 L399.3,342.9 L399.9,343.0 L400.5,343.0 L401.1,343.0 L401.7,343.0 L402.3,343.0 L402.9,343.0 L403.1,343.0" fill="none" stroke="#1c1c1c" stroke-width="1.5" stroke-linejoin="round" stroke-linecap="round"/>
<path d="M407.8,342.8 L408.4,342.8 L409.0,342.8 L409.6,342.8 L410.2,342.8 L410.8,342.8 L411.4,342.8 L412.0,342.8 L412.6,342.9 L413.2,342.9 L413.8,342.9 L414.4,342.9 L415.0,342.9 L415.6,342.9 L416.2,342.9 L416.6,342.9" fill="none" stroke="#1c1c1c" stroke-width="1.5" stroke-linejoin="round" stroke-linecap="round"/>
<path d="M424.0,341.6 L424.6,341.6 L425.2,341.6 L425.8,341.6 L426.4,341.6 L427.0,341.6 L427.6,341.6 L428.2,341.6 L428.8,341.6 L429.4,341.7 L430.0,341.7 L430.6,341.7 L431.2,341.7 L431.8,341.7 L432.4,341.7 L433.0,341.7 L433.6,341.7 L433.6,341.7" fill="none" stroke="#1c1c1c" stroke-width="1.5" stroke-linejoin="round" stroke-linecap="round"/>
<path d="M443.1,339.1 L443.7,339.1 L444.3,339.1 L444.9,339.1 L445.5,339.1 L446.1,339.2 L446.7,339.2 L447.3,339.2 L447.9,339.2 L448.5,339.2 L449.1,339.2 L449.7,339.2 L450.3,339.2 L450.9,339.2 L451.5,339.3 L452.1,339.3 L452.7,339.3 L453.3,339.3 L453.5,339.3" fill="none" stroke="#1c1c1c" stroke-width="1.5" stroke-linejoin="round" stroke-linecap="round"/>
<path d="M464.4,334.5 L465.0,334.5 L465.6,334.5 L466.2,334.6 L466.8,334.6 L467.4,334.6 L468.0,334.6 L468.6,334.7 L469.2,334.7 L469.8,334.7 L470.4,334.7 L471.0,334.7 L471.6,334.8 L472.2,334.8 L472.8,334.8 L473.4,334.8 L474.0,334.9 L474.6,334.9 L475.2,334.9" fill="none" stroke="#1c1c1c" stroke-width="1.5" stroke-linejoin="round" stroke-linecap="round"/>
<path d="M487.4,327.5 L488.0,327.5 L488.6,327.6 L489.2,327.6 L489.8,327.6 L490.4,327.7 L491.0,327.7 L491.6,327.8 L492.2,327.8 L492.8,327.8 L493.4,327.9 L494.0,327.9 L494.6,327.9 L495.2,328.0 L495.8,328.0 L496.4,328.1 L497.0,328.1 L497.6,328.1 L498.2,328.2 L498.8,328.2" fill="none" stroke="#1c1c1c" stroke-width="1.5" stroke-linejoin="round" stroke-linecap="round"/>
<path d="M511.2,318.1 L511.8,318.2 L512.4,318.2 L513.0,318.3 L513.6,318.4 L514.2,318.4 L514.8,318.5 L515.4,318.6 L516.0,318.7 L516.6,318.7 L517.2,318.8 L517.8,318.9 L518.4,318.9 L519.0,319.0 L519.6,319.1 L520.2,319.1 L520.8,319.2 L521.4,319.3 L522.0,319.3 L522.6,319.4" fill="none" stroke="#1c1c1c" stroke-width="1.5" stroke-linejoin="round" stroke-linecap="round"/>
<path d="M535.2,307.6 L535.8,307.7 L536.4,307.8 L537.0,307.9 L537.6,308.0 L538.2,308.0 L538.8,308.1 L539.4,308.2 L540.0,308.3 L540.6,308.4 L541.2,308.5 L541.8,308.6 L542.4,308.7 L543.0,308.8 L543.6,308.9 L544.2,308.9 L544.8,309.0 L545.4,309.1 L546.0,309.2 L546.5,309.3" fill="none" stroke="#1c1c1c" stroke-width="1.5" stroke-linejoin="round" stroke-linecap="round"/>
<path d="M558.4,297.7 L559.0,297.8 L559.6,298.0 L560.2,298.1 L560.8,298.2 L561.4,298.4 L562.0,298.5 L562.6,298.6 L563.2,298.8 L563.8,298.9 L564.3,299.1 L564.9,299.2 L565.5,299.3 L566.1,299.5 L566.7,299.6 L567.3,299.7 L567.9,299.9 L568.5,300.0 L569.1,300.1 L569.7,300.3 L570.2,300.4 L570.6,300.5" fill="none" stroke="#1c1c1c" stroke-width="1.5" stroke-linejoin="round" stroke-linecap="round"/>
<path d="M581.1,292.1 L581.7,292.2 L582.3,292.3 L582.9,292.4 L583.5,292.5 L584.1,292.6 L584.7,292.7 L585.3,292.8 L585.9,293.0 L586.5,293.1 L587.1,293.2 L587.7,293.3 L588.3,293.4 L588.9,293.5 L589.5,293.6 L590.1,293.7 L590.7,293.8 L591.3,293.9 L591.9,294.0 L592.5,294.1 L592.9,294.2" fill="none" stroke="#1c1c1c" stroke-width="1.5" stroke-linejoin="round" stroke-linecap="round"/>
<path d="M601.2,290.6 L601.8,290.7 L602.4,290.7 L603.0,290.8 L603.6,290.8 L604.2,290.9 L604.8,291.0 L605.4,291.0 L606.0,291.1 L606.6,291.1 L607.2,291.2 L607.8,291.3 L608.4,291.3 L609.0,291.4 L609.6,291.4 L610.2,291.5 L610.8,291.6 L611.4,291.6 L612.0,291.7 L612.3,291.7" fill="none" stroke="#1c1c1c" stroke-width="1.5" stroke-linejoin="round" stroke-linecap="round"/>
<path d="M618.7,290.6 L619.3,290.6 L619.9,290.6 L620.5,290.7 L621.1,290.7 L621.7,290.7 L622.3,290.7 L622.9,290.8 L623.5,290.8 L624.1,290.8 L624.7,290.8 L625.3,290.9 L625.9,290.9 L626.5,290.9 L627.1,290.9 L627.7,291.0 L628.3,291.0 L628.4,291.0" fill="none" stroke="#1c1c1c" stroke-width="1.5" stroke-linejoin="round" stroke-linecap="round"/>
<path d="M632.1,290.6 L632.7,290.6 L633.3,290.7 L633.9,290.7 L634.5,290.8 L635.1,290.8 L635.7,290.9 L636.3,290.9 L636.9,291.0 L637.5,291.0 L638.1,291.0 L638.7,291.1 L639.3,291.1 L639.9,291.2 L640.2,291.2" fill="none" stroke="#1c1c1c" stroke-width="1.5" stroke-linejoin="round" stroke-linecap="round"/>
<path d="M641.6,291.0 L642.2,291.1 L642.8,291.1 L643.4,291.2 L644.0,291.2 L644.6,291.3 L645.2,291.3 L645.8,291.4 L646.0,291.4" fill="none" stroke="#1c1c1c" stroke-width="1.5" stroke-linejoin="round" stroke-linecap="round"/>
<path d="M389.2,342.6 L389.7,342.6" fill="none" stroke="#e2b536" stroke-width="1.5" stroke-linejoin="round" stroke-linecap="round"/>
<path d="M394.3,342.9 L394.9,342.9 L395.5,342.9 L396.2,342.9 L396.3,342.9" fill="none" stroke="#e2b536" stroke-width="1.5" stroke-linejoin="round" stroke-linecap="round"/>
<path d="M403.1,343.0 L403.7,343.0 L404.3,343.0 L404.9,342.9 L405.5,342.9 L406.1,342.9 L406.7,342.8 L407.3,342.8 L407.8,342.8" fill="none" stroke="#e2b536" stroke-width="1.5" stroke-linejoin="round" stroke-linecap="round"/>
<path d="M416.6,342.9 L417.2,342.9 L417.8,342.8 L418.4,342.7 L419.0,342.6 L419.6,342.4 L420.2,342.3 L420.8,342.1 L421.3,342.0 L421.9,341.8 L422.5,341.7 L423.1,341.6 L423.7,341.6 L424.0,341.6" fill="none" stroke="#e2b536" stroke-width="1.5" stroke-linejoin="round" stroke-linecap="round"/>
<path d="M433.6,341.7 L434.2,341.7 L434.8,341.6 L435.4,341.5 L436.0,341.3 L436.5,341.1 L437.1,340.9 L437.7,340.7 L438.2,340.4 L438.8,340.2 L439.3,340.0 L439.9,339.8 L440.5,339.5 L441.1,339.4 L441.6,339.2 L442.2,339.1 L442.8,339.1 L443.1,339.1" fill="none" stroke="#e2b536" stroke-width="1.5" stroke-linejoin="round" stroke-linecap="round"/>
<path d="M453.5,339.3 L454.1,339.3 L454.7,339.2 L455.3,339.0 L455.8,338.8 L456.4,338.5 L456.9,338.2 L457.4,337.9 L457.9,337.6 L458.4,337.3 L458.9,336.9 L459.4,336.6 L459.9,336.2 L460.4,335.9 L461.0,335.6 L461.5,335.3 L462.0,335.0 L462.6,334.8 L463.2,334.7 L463.8,334.5 L464.4,334.5 L464.4,334.5" fill="none" stroke="#e2b536" stroke-width="1.5" stroke-linejoin="round" stroke-linecap="round"/>
<path d="M475.2,334.9 L475.8,334.9 L476.4,334.7 L477.0,334.5 L477.5,334.3 L478.0,334.0 L478.5,333.6 L479.0,333.3 L479.5,332.9 L480.0,332.5 L480.4,332.1 L480.8,331.7 L481.3,331.2 L481.7,330.8 L482.2,330.4 L482.6,330.0 L483.1,329.6 L483.5,329.2 L484.0,328.8 L484.5,328.5 L485.0,328.2 L485.6,327.9 L486.2,327.7 L486.7,327.6 L487.3,327.5 L487.4,327.5" fill="none" stroke="#e2b536" stroke-width="1.5" stroke-linejoin="round" stroke-linecap="round"/>
<path d="M498.8,328.2 L499.4,328.1 L500.0,328.0 L500.5,327.7 L501.1,327.4 L501.5,327.0 L502.0,326.6 L502.4,326.2 L502.9,325.8 L503.3,325.3 L503.7,324.9 L504.0,324.4 L504.4,323.9 L504.8,323.4 L505.2,323.0 L505.6,322.5 L505.9,322.0 L506.3,321.5 L506.7,321.1 L507.1,320.6 L507.5,320.2 L508.0,319.7 L508.4,319.3 L508.9,319.0 L509.4,318.6 L509.9,318.4 L510.5,318.2 L511.1,318.1 L511.2,318.1" fill="none" stroke="#e2b536" stroke-width="1.5" stroke-linejoin="round" stroke-linecap="round"/>
<path d="M522.6,319.4 L523.2,319.3 L523.7,319.1 L524.3,318.9 L524.8,318.5 L525.2,318.1 L525.7,317.7 L526.1,317.3 L526.5,316.8 L526.9,316.3 L527.2,315.8 L527.6,315.3 L527.9,314.8 L528.3,314.3 L528.6,313.8 L529.0,313.3 L529.3,312.8 L529.7,312.3 L530.0,311.8 L530.4,311.4 L530.7,310.9 L531.1,310.4 L531.5,309.9 L531.9,309.5 L532.3,309.0 L532.7,308.6 L533.2,308.3 L533.7,308.0 L534.3,307.7 L534.9,307.6 L535.2,307.6" fill="none" stroke="#e2b536" stroke-width="1.5" stroke-linejoin="round" stroke-linecap="round"/>
<path d="M546.5,309.3 L547.1,309.2 L547.7,309.0 L548.2,308.7 L548.7,308.4 L549.2,308.0 L549.6,307.5 L550.0,307.1 L550.4,306.6 L550.7,306.1 L551.1,305.6 L551.4,305.1 L551.8,304.6 L552.1,304.1 L552.4,303.6 L552.8,303.1 L553.1,302.6 L553.4,302.1 L553.8,301.6 L554.1,301.1 L554.5,300.6 L554.9,300.1 L555.3,299.6 L555.7,299.2 L556.1,298.8 L556.6,298.4 L557.1,298.1 L557.6,297.8 L558.2,297.7 L558.4,297.7" fill="none" stroke="#e2b536" stroke-width="1.5" stroke-linejoin="round" stroke-linecap="round"/>
<path d="M570.6,300.5 L571.2,300.4 L571.8,300.2 L572.4,300.0 L572.9,299.6 L573.3,299.2 L573.8,298.8 L574.2,298.4 L574.6,297.9 L575.0,297.4 L575.3,297.0 L575.7,296.5 L576.1,296.0 L576.5,295.5 L576.9,295.1 L577.3,294.6 L577.7,294.2 L578.1,293.7 L578.5,293.3 L579.0,292.9 L579.5,292.6 L580.0,292.3 L580.6,292.1 L581.1,292.1" fill="none" stroke="#e2b536" stroke-width="1.5" stroke-linejoin="round" stroke-linecap="round"/>
<path d="M592.9,294.2 L593.5,294.2 L594.1,294.0 L594.6,293.8 L595.2,293.6 L595.7,293.3 L596.2,293.0 L596.7,292.6 L597.2,292.3 L597.7,291.9 L598.2,291.6 L598.8,291.3 L599.3,291.1 L599.9,290.8 L600.4,290.7 L601.0,290.6 L601.2,290.6" fill="none" stroke="#e2b536" stroke-width="1.5" stroke-linejoin="round" stroke-linecap="round"/>
<path d="M612.3,291.7 L612.9,291.7 L613.5,291.6 L614.1,291.5 L614.7,291.4 L615.3,291.2 L615.8,291.1 L616.4,290.9 L617.0,290.8 L617.6,290.7 L618.2,290.6 L618.7,290.6" fill="none" stroke="#e2b536" stroke-width="1.5" stroke-linejoin="round" stroke-linecap="round"/>
<path d="M628.4,291.0 L629.0,291.0 L629.6,290.9 L630.2,290.8 L630.8,290.7 L631.4,290.6 L632.0,290.6 L632.1,290.6" fill="none" stroke="#e2b536" stroke-width="1.5" stroke-linejoin="round" stroke-linecap="round"/>
<path d="M640.2,291.2 L640.8,291.1 L641.4,291.0 L641.6,291.0" fill="none" stroke="#e2b536" stroke-width="1.5" stroke-linejoin="round" stroke-linecap="round"/>
</g>
<g clip-path="url(#cp_j)">
<path d="M386.5,480.0 L387.1,480.0 L387.7,480.0 L388.3,480.0 L388.9,479.8 L388.9,478.6 L388.9,477.5 L388.9,476.2 L389.0,474.5 L389.0,472.6 L389.0,470.4 L389.0,467.9 L389.0,465.3 L389.0,462.4 L389.0,459.3 L389.0,456.0 L389.0,452.5 L389.0,448.9 L389.1,445.2 L389.1,441.4 L389.1,437.6 L389.1,433.6 L389.1,429.7 L389.1,425.8 L389.1,421.8 L389.1,418.0 L389.1,414.2 L389.1,410.5 L389.2,406.9 L389.2,403.4 L389.2,400.1 L389.2,397.0 L389.2,394.1 L389.2,391.5" fill="none" stroke="#1c1c1c" stroke-width="1.5" stroke-linejoin="round" stroke-linecap="round"/>
<path d="M389.7,390.2 L389.7,391.3 L389.7,392.5 L389.7,393.1 L389.7,393.7 L389.7,394.3 L389.7,395.0 L389.8,395.6 L389.8,396.3 L389.8,396.9 L389.8,397.6 L389.8,398.3 L389.8,399.0 L389.8,399.7 L389.8,400.4 L389.8,401.1 L389.8,401.8 L389.9,402.6 L389.9,403.3 L389.9,404.0 L389.9,404.8 L389.9,405.5 L389.9,406.3 L389.9,407.0 L389.9,407.8 L389.9,408.6 L389.9,409.3 L390.0,410.1 L390.0,410.9 L390.0,411.7 L390.0,412.5 L390.0,413.2 L390.0,414.0 L390.0,414.8 L390.0,415.6 L390.0,416.4 L390.0,417.2 L390.1,418.0 L390.1,418.8 L390.1,419.6 L390.1,420.4 L390.1,421.2 L390.1,421.9 L390.1,422.7 L390.1,423.5 L390.1,424.3 L390.1,425.1 L390.2,425.8 L390.2,426.6 L390.2,427.4 L390.2,428.1 L390.2,428.9 L390.2,429.6 L390.2,430.4 L390.2,431.1 L390.2,431.8 L390.2,432.6 L390.3,433.3 L390.3,434.0 L390.3,434.7 L390.3,435.4 L390.3,436.1 L390.3,436.8 L390.3,437.5 L390.3,438.1 L390.3,438.8 L390.3,439.4 L390.4,440.1 L390.4,440.7 L390.4,441.3 L390.4,441.9 L390.4,443.1 L390.4,444.2 L390.4,445.3 L390.5,446.3 L390.5,447.3 L390.5,448.2 L390.5,449.1 L390.5,449.9 L390.6,450.7 L390.6,451.4 L390.6,452.0 L390.6,452.9 L390.7,453.6 L390.7,454.3 L390.8,455.0 L391.2,453.9 L391.2,453.3 L391.3,452.6 L391.4,452.0 L391.5,451.3 L391.5,450.6 L391.6,450.0 L391.6,449.4 L391.7,448.7 L391.7,448.0 L391.8,447.4 L391.8,446.8 L391.8,446.1 L391.9,445.4 L391.9,444.8 L392.0,444.1 L392.0,443.3 L392.0,442.6 L392.1,441.8 L392.1,441.1 L392.2,440.3 L392.2,439.6 L392.2,439.0 L392.2,438.4 L392.3,437.8 L392.3,437.1 L392.3,436.5 L392.4,435.8 L392.4,435.2 L392.4,434.5 L392.5,433.8 L392.5,433.1 L392.5,432.4 L392.5,431.7 L392.6,431.0 L392.6,430.3 L392.6,429.6 L392.7,428.9 L392.7,428.2 L392.7,427.4 L392.8,426.7 L392.8,426.0 L392.8,425.2 L392.8,424.5 L392.9,423.8 L392.9,423.0 L392.9,422.3 L393.0,421.5 L393.0,420.8 L393.0,420.0 L393.1,419.3 L393.1,418.5 L393.1,417.7 L393.1,417.0 L393.2,416.2 L393.2,415.5 L393.2,414.7 L393.3,414.0 L393.3,413.2 L393.3,412.5 L393.4,411.8 L393.4,411.0 L393.4,410.3 L393.4,409.5 L393.5,408.8 L393.5,408.1 L393.5,407.4 L393.6,406.7 L393.6,405.9 L393.6,405.2 L393.7,404.5 L393.7,403.8 L393.7,403.1 L393.7,402.5 L393.8,401.8 L393.8,401.1 L393.8,400.5 L393.9,399.8 L393.9,399.2 L393.9,398.5 L394.0,397.9 L394.0,397.3 L394.0,396.6 L394.0,396.0 L394.1,395.3 L394.1,394.5 L394.2,393.7 L394.2,393.0 L394.2,392.3 L394.3,391.6 L394.3,390.9 L394.3,390.7" fill="none" stroke="#1c1c1c" stroke-width="1.5" stroke-linejoin="round" stroke-linecap="round"/>
<path d="M396.3,390.5 L396.3,391.2 L396.4,391.9 L396.4,392.7 L396.5,393.5 L396.5,394.1 L396.5,394.7 L396.6,395.3 L396.6,395.9 L396.6,396.6 L396.6,397.2 L396.7,397.8 L396.7,398.5 L396.7,399.1 L396.8,399.8 L396.8,400.4 L396.8,401.1 L396.9,401.7 L396.9,402.4 L396.9,403.0 L396.9,403.7 L397.0,404.3 L397.0,404.9 L397.0,405.6 L397.1,406.2 L397.1,406.9 L397.1,407.5 L397.2,408.1 L397.2,408.7 L397.2,409.3 L397.3,410.1 L397.3,410.9 L397.3,411.6 L397.4,412.4 L397.4,413.1 L397.5,413.8 L397.5,414.4 L397.5,415.1 L397.6,415.7 L397.6,416.5 L397.7,417.2 L397.7,417.8 L397.8,418.4 L397.8,419.1 L397.9,419.7 L398.0,420.4 L398.1,421.0 L398.8,421.1 L399.0,420.5 L399.2,419.9 L399.4,419.3 L399.5,418.7 L399.6,418.1 L399.7,417.5 L399.9,416.9 L400.0,416.3 L400.1,415.7 L400.2,415.0 L400.3,414.4 L400.3,413.8 L400.4,413.2 L400.5,412.5 L400.6,411.9 L400.7,411.3 L400.8,410.7 L400.8,410.1 L400.9,409.4 L401.0,408.8 L401.1,408.1 L401.2,407.4 L401.2,406.7 L401.3,406.1 L401.4,405.5 L401.5,404.9 L401.5,404.3 L401.6,403.7 L401.7,403.1 L401.7,402.5 L401.8,401.9 L401.9,401.2 L401.9,400.6 L402.0,400.0 L402.1,399.4 L402.2,398.8 L402.2,398.2 L402.3,397.5 L402.4,396.9 L402.4,396.3 L402.5,395.7 L402.6,395.1 L402.7,394.4 L402.7,393.7 L402.8,393.1 L402.9,392.5 L403.0,391.8 L403.1,391.2 L403.1,390.6" fill="none" stroke="#1c1c1c" stroke-width="1.5" stroke-linejoin="round" stroke-linecap="round"/>
<path d="M407.8,390.6 L407.9,391.2 L407.9,391.8 L408.0,392.4 L408.1,393.0 L408.2,393.6 L408.3,394.2 L408.4,394.8 L408.5,395.4 L408.6,396.1 L408.7,396.7 L408.8,397.3 L408.8,397.9 L408.9,398.5 L409.0,399.1 L409.1,399.8 L409.2,400.4 L409.4,401.0 L409.5,401.6 L409.6,402.2 L409.7,402.8 L409.8,403.5 L410.0,404.1 L410.1,404.7 L410.3,405.3 L410.5,405.9 L410.7,406.4 L411.7,406.6 L412.2,406.1 L412.5,405.6 L412.7,405.1 L413.0,404.5 L413.2,403.9 L413.4,403.3 L413.6,402.7 L413.8,402.2 L413.9,401.6 L414.1,401.0 L414.3,400.4 L414.4,399.8 L414.6,399.2 L414.7,398.6 L414.9,398.0 L415.0,397.3 L415.2,396.7 L415.3,396.1 L415.5,395.5 L415.6,394.9 L415.7,394.3 L415.9,393.7 L416.0,393.1 L416.2,392.5 L416.3,391.9 L416.4,391.4 L416.6,390.7 L416.6,390.6" fill="none" stroke="#1c1c1c" stroke-width="1.5" stroke-linejoin="round" stroke-linecap="round"/>
<path d="M424.0,390.6 L424.1,391.2 L424.3,391.8 L424.4,392.4 L424.6,393.0 L424.7,393.5 L424.9,394.2 L425.0,394.8 L425.2,395.4 L425.4,396.0 L425.5,396.6 L425.7,397.2 L425.9,397.7 L426.1,398.3 L426.3,398.9 L426.5,399.5 L426.8,400.0 L427.0,400.6 L427.4,401.1 L427.8,401.5 L428.4,401.6 L429.0,401.3 L429.4,400.9 L429.8,400.4 L430.1,399.9 L430.4,399.4 L430.7,398.8 L430.9,398.3 L431.1,397.7 L431.4,397.1 L431.6,396.6 L431.8,396.0 L432.0,395.4 L432.2,394.8 L432.4,394.2 L432.6,393.7 L432.8,393.1 L433.0,392.5 L433.2,391.9 L433.4,391.3 L433.6,390.7 L433.6,390.6" fill="none" stroke="#1c1c1c" stroke-width="1.5" stroke-linejoin="round" stroke-linecap="round"/>
<path d="M443.1,390.6 L443.3,391.2 L443.5,391.7 L443.7,392.3 L443.9,392.9 L444.1,393.5 L444.3,394.1 L444.5,394.6 L444.7,395.2 L444.9,395.8 L445.2,396.3 L445.4,396.9 L445.7,397.4 L446.0,398.0 L446.3,398.5 L446.7,399.0 L447.2,399.4 L447.7,399.6 L448.3,399.5 L448.9,399.3 L449.3,398.9 L449.7,398.4 L450.1,397.9 L450.4,397.4 L450.7,396.9 L451.0,396.3 L451.3,395.8 L451.5,395.3 L451.8,394.7 L452.0,394.1 L452.3,393.6 L452.5,393.0 L452.8,392.4 L453.0,391.9 L453.2,391.3 L453.4,390.7 L453.5,390.6" fill="none" stroke="#1c1c1c" stroke-width="1.5" stroke-linejoin="round" stroke-linecap="round"/>
<path d="M464.4,390.6 L464.7,391.2 L464.9,391.7 L465.1,392.3 L465.4,392.9 L465.6,393.4 L465.9,394.0 L466.1,394.5 L466.4,395.1 L466.7,395.6 L467.0,396.2 L467.3,396.7 L467.6,397.2 L468.0,397.6 L468.5,398.0 L469.0,398.3 L469.6,398.4 L470.2,398.3 L470.7,398.0 L471.2,397.6 L471.6,397.1 L472.0,396.7 L472.3,396.2 L472.7,395.7 L473.0,395.1 L473.3,394.6 L473.6,394.0 L473.9,393.5 L474.1,392.9 L474.4,392.4 L474.6,391.9 L474.9,391.3 L475.2,390.7 L475.2,390.6" fill="none" stroke="#1c1c1c" stroke-width="1.5" stroke-linejoin="round" stroke-linecap="round"/>
<path d="M487.4,390.6 L487.7,391.1 L487.9,391.7 L488.2,392.3 L488.4,392.8 L488.7,393.4 L489.0,393.9 L489.2,394.5 L489.5,395.0 L489.8,395.5 L490.1,396.1 L490.4,396.6 L490.8,397.0 L491.2,397.5 L491.7,397.9 L492.2,398.2 L492.7,398.4 L493.3,398.3 L493.9,398.1 L494.4,397.8 L494.9,397.4 L495.3,396.9 L495.6,396.5 L496.0,396.0 L496.3,395.4 L496.6,394.9 L496.9,394.4 L497.2,393.9 L497.5,393.3 L497.8,392.8 L498.0,392.2 L498.3,391.6 L498.6,391.1 L498.8,390.6" fill="none" stroke="#1c1c1c" stroke-width="1.5" stroke-linejoin="round" stroke-linecap="round"/>
<path d="M511.2,390.6 L511.5,391.1 L511.7,391.7 L512.0,392.3 L512.2,392.8 L512.5,393.4 L512.8,393.9 L513.0,394.5 L513.3,395.0 L513.6,395.5 L513.9,396.1 L514.2,396.6 L514.6,397.0 L515.0,397.5 L515.5,397.9 L516.0,398.2 L516.5,398.4 L517.1,398.3 L517.7,398.1 L518.2,397.8 L518.7,397.4 L519.1,396.9 L519.4,396.4 L519.8,395.9 L520.1,395.4 L520.4,394.9 L520.7,394.3 L521.0,393.8 L521.3,393.3 L521.6,392.7 L521.8,392.2 L522.1,391.6 L522.3,391.1 L522.6,390.6" fill="none" stroke="#1c1c1c" stroke-width="1.5" stroke-linejoin="round" stroke-linecap="round"/>
<path d="M535.2,390.6 L535.4,391.1 L535.7,391.7 L535.9,392.3 L536.2,392.8 L536.4,393.3 L536.7,393.9 L537.0,394.4 L537.3,395.0 L537.6,395.5 L537.9,396.0 L538.2,396.5 L538.6,397.0 L539.0,397.5 L539.5,397.9 L540.0,398.2 L540.5,398.4 L541.1,398.4 L541.7,398.2 L542.2,397.8 L542.7,397.4 L543.1,397.0 L543.4,396.5 L543.8,396.0 L544.1,395.5 L544.4,394.9 L544.7,394.4 L545.0,393.9 L545.3,393.3 L545.5,392.8 L545.8,392.2 L546.0,391.7 L546.3,391.1 L546.5,390.6" fill="none" stroke="#1c1c1c" stroke-width="1.5" stroke-linejoin="round" stroke-linecap="round"/>
<path d="M558.4,390.6 L558.7,391.1 L558.9,391.7 L559.1,392.3 L559.3,392.8 L559.6,393.4 L559.8,394.0 L560.0,394.5 L560.3,395.1 L560.5,395.7 L560.8,396.2 L561.0,396.8 L561.3,397.3 L561.6,397.9 L561.9,398.4 L562.2,399.0 L562.5,399.5 L562.9,399.9 L563.3,400.4 L563.8,400.7 L564.4,401.0 L565.0,401.0 L565.5,400.7 L566.0,400.4 L566.4,399.9 L566.8,399.4 L567.1,398.9 L567.4,398.4 L567.7,397.9 L568.0,397.3 L568.2,396.8 L568.5,396.2 L568.7,395.6 L568.9,395.1 L569.2,394.5 L569.4,393.9 L569.6,393.4 L569.8,392.8 L570.0,392.2 L570.3,391.6 L570.5,391.0 L570.6,390.6" fill="none" stroke="#1c1c1c" stroke-width="1.5" stroke-linejoin="round" stroke-linecap="round"/>
<path d="M581.1,390.6 L581.3,391.2 L581.5,391.8 L581.7,392.3 L581.9,392.9 L582.1,393.5 L582.3,394.1 L582.5,394.6 L582.7,395.2 L582.9,395.8 L583.1,396.4 L583.3,397.0 L583.6,397.5 L583.8,398.1 L584.0,398.7 L584.3,399.2 L584.5,399.8 L584.8,400.3 L585.1,400.9 L585.4,401.4 L585.7,401.9 L586.1,402.4 L586.6,402.8 L587.1,403.0 L587.7,403.1 L588.2,402.8 L588.6,402.4 L589.0,401.9 L589.3,401.3 L589.6,400.8 L589.8,400.2 L590.0,399.7 L590.3,399.1 L590.5,398.5 L590.7,397.9 L590.9,397.4 L591.1,396.8 L591.2,396.2 L591.4,395.6 L591.6,395.0 L591.8,394.4 L591.9,393.8 L592.1,393.2 L592.3,392.7 L592.5,392.1 L592.6,391.5 L592.8,390.9 L592.9,390.6" fill="none" stroke="#1c1c1c" stroke-width="1.5" stroke-linejoin="round" stroke-linecap="round"/>
<path d="M601.2,390.6 L601.4,391.2 L601.5,391.8 L601.7,392.4 L601.8,393.0 L602.0,393.6 L602.1,394.2 L602.3,394.7 L602.4,395.3 L602.6,395.9 L602.7,396.5 L602.9,397.1 L603.1,397.7 L603.2,398.3 L603.4,398.9 L603.5,399.5 L603.7,400.1 L603.9,400.7 L604.0,401.3 L604.2,401.9 L604.4,402.5 L604.6,403.1 L604.8,403.7 L605.0,404.2 L605.2,404.8 L605.5,405.4 L605.8,405.9 L606.1,406.4 L606.5,406.9 L607.6,407.2 L608.3,406.3 L608.6,405.8 L608.8,405.2 L609.0,404.6 L609.2,404.0 L609.4,403.4 L609.6,402.8 L609.7,402.2 L609.9,401.6 L610.0,401.0 L610.2,400.4 L610.3,399.8 L610.5,399.2 L610.6,398.6 L610.7,398.0 L610.9,397.4 L611.0,396.8 L611.1,396.1 L611.2,395.5 L611.4,394.9 L611.5,394.3 L611.6,393.6 L611.8,393.0 L611.9,392.4 L612.0,391.8 L612.2,391.2 L612.3,390.6" fill="none" stroke="#1c1c1c" stroke-width="1.5" stroke-linejoin="round" stroke-linecap="round"/>
<path d="M618.7,390.6 L618.8,391.2 L618.9,391.8 L619.0,392.4 L619.1,393.0 L619.2,393.7 L619.3,394.3 L619.4,394.9 L619.6,395.6 L619.7,396.2 L619.8,396.8 L619.9,397.4 L620.0,398.0 L620.1,398.6 L620.2,399.2 L620.3,399.8 L620.4,400.4 L620.5,401.0 L620.6,401.6 L620.7,402.2 L620.8,402.8 L620.9,403.4 L621.0,404.1 L621.1,404.7 L621.2,405.3 L621.3,406.0 L621.4,406.6 L621.5,407.2 L621.6,407.8 L621.8,408.4 L621.9,409.1 L622.0,409.7 L622.1,410.3 L622.2,410.9 L622.4,411.5 L622.5,412.1 L622.7,412.7 L622.8,413.3 L623.0,413.9 L623.1,414.5 L623.3,415.1 L623.5,415.7 L623.7,416.3 L624.0,416.8 L624.4,417.3 L625.3,417.2 L625.5,416.6 L625.6,416.0 L625.7,415.4 L625.9,414.8 L626.0,414.2 L626.1,413.5 L626.1,412.9 L626.2,412.2 L626.3,411.6 L626.4,411.0 L626.5,410.3 L626.5,409.7 L626.6,409.1 L626.7,408.4 L626.8,407.8 L626.8,407.1 L626.9,406.4 L627.0,405.7 L627.0,405.1 L627.1,404.5 L627.1,403.9 L627.2,403.3 L627.3,402.7 L627.3,402.0 L627.4,401.4 L627.4,400.8 L627.5,400.1 L627.6,399.5 L627.6,398.9 L627.7,398.2 L627.7,397.6 L627.8,397.0 L627.9,396.3 L627.9,395.7 L628.0,395.1 L628.0,394.5 L628.1,393.9 L628.2,393.3 L628.2,392.6 L628.3,391.9 L628.4,391.2 L628.4,390.7" fill="none" stroke="#1c1c1c" stroke-width="1.5" stroke-linejoin="round" stroke-linecap="round"/>
<path d="M632.1,390.5 L632.1,391.2 L632.2,391.8 L632.3,392.5 L632.3,393.2 L632.4,393.8 L632.5,394.4 L632.5,395.0 L632.6,395.7 L632.6,396.3 L632.7,397.0 L632.8,397.6 L632.8,398.3 L632.9,399.0 L632.9,399.7 L633.0,400.4 L633.1,401.1 L633.1,401.7 L633.2,402.4 L633.2,403.0 L633.3,403.6 L633.3,404.2 L633.4,404.8 L633.4,405.5 L633.5,406.1 L633.5,406.7 L633.6,407.4 L633.6,408.0 L633.7,408.7 L633.7,409.3 L633.8,409.9 L633.8,410.6 L633.9,411.3 L633.9,411.9 L634.0,412.6 L634.0,413.2 L634.1,413.9 L634.1,414.5 L634.2,415.2 L634.2,415.8 L634.3,416.5 L634.3,417.2 L634.4,417.8 L634.4,418.5 L634.5,419.1 L634.5,419.8 L634.6,420.4 L634.6,421.0 L634.7,421.7 L634.7,422.3 L634.8,423.0 L634.8,423.6 L634.9,424.2 L634.9,424.8 L635.0,425.5 L635.0,426.1 L635.1,426.7 L635.1,427.3 L635.2,427.9 L635.2,428.6 L635.3,429.3 L635.3,430.0 L635.4,430.7 L635.5,431.4 L635.5,432.0 L635.6,432.7 L635.6,433.3 L635.7,434.0 L635.8,434.6 L635.8,435.2 L635.9,435.8 L635.9,436.5 L636.0,437.2 L636.1,437.8 L636.2,438.5 L636.2,439.1 L636.3,439.7 L636.4,440.4 L636.5,441.0 L636.6,441.7 L636.6,442.3 L636.7,443.0 L636.8,443.6 L637.0,444.2 L637.1,444.8 L637.2,445.4 L637.4,446.0 L637.6,446.6 L638.2,446.4 L638.2,445.8 L638.3,445.2 L638.4,444.6 L638.4,443.8 L638.4,443.2 L638.5,442.5 L638.5,441.8 L638.6,441.0 L638.6,440.4 L638.6,439.7 L638.7,439.0 L638.7,438.3 L638.7,437.6 L638.7,436.8 L638.8,436.0 L638.8,435.2 L638.8,434.4 L638.9,433.6 L638.9,432.7 L638.9,431.8 L638.9,431.2 L639.0,430.6 L639.0,430.0 L639.0,429.4 L639.0,428.7 L639.0,428.1 L639.1,427.4 L639.1,426.8 L639.1,426.1 L639.1,425.5 L639.1,424.8 L639.2,424.1 L639.2,423.5 L639.2,422.8 L639.2,422.1 L639.2,421.4 L639.3,420.7 L639.3,420.0 L639.3,419.3 L639.3,418.6 L639.3,417.9 L639.4,417.2 L639.4,416.5 L639.4,415.8 L639.4,415.1 L639.4,414.4 L639.5,413.7 L639.5,413.0 L639.5,412.3 L639.5,411.6 L639.5,410.9 L639.6,410.2 L639.6,409.5 L639.6,408.8 L639.6,408.1 L639.6,407.4 L639.7,406.7 L639.7,406.0 L639.7,405.3 L639.7,404.7 L639.7,404.0 L639.8,403.3 L639.8,402.7 L639.8,402.0 L639.8,401.4 L639.8,400.7 L639.9,400.1 L639.9,399.4 L639.9,398.8 L639.9,398.2 L639.9,397.6 L640.0,397.0 L640.0,396.1 L640.0,395.2 L640.1,394.4 L640.1,393.6 L640.1,392.8 L640.1,392.0 L640.2,391.2 L640.2,390.7" fill="none" stroke="#1c1c1c" stroke-width="1.5" stroke-linejoin="round" stroke-linecap="round"/>
<path d="M641.6,390.4 L641.7,391.1 L641.7,391.9 L641.7,392.6 L641.8,393.4 L641.8,394.2 L641.8,395.0 L641.8,395.8 L641.9,396.7 L641.9,397.6 L641.9,398.2 L641.9,398.8 L642.0,399.4 L642.0,400.1 L642.0,400.7 L642.0,401.4 L642.0,402.0 L642.1,402.7 L642.1,403.4 L642.1,404.1 L642.1,404.8 L642.1,405.5 L642.2,406.2 L642.2,406.9 L642.2,407.7 L642.2,408.4 L642.2,409.1 L642.3,409.9 L642.3,410.7 L642.3,411.4 L642.3,412.2 L642.3,413.0 L642.4,413.8 L642.4,414.6 L642.4,415.4 L642.4,416.2 L642.4,417.0 L642.5,417.9 L642.5,418.7 L642.5,419.5 L642.5,420.4 L642.5,421.2 L642.6,422.1 L642.6,422.9 L642.6,423.8 L642.6,424.7 L642.6,425.6 L642.7,426.4 L642.7,427.3 L642.7,428.2 L642.7,429.1 L642.7,430.0 L642.8,430.9 L642.8,431.8 L642.8,432.7 L642.8,433.6 L642.8,434.5 L642.9,435.5 L642.9,436.4 L642.9,437.3 L642.9,438.2 L642.9,439.2 L643.0,440.1 L643.0,441.0 L643.0,442.0 L643.0,442.9 L643.0,443.8 L643.1,444.8 L643.1,445.7 L643.1,446.7 L643.1,447.6 L643.1,448.5 L643.2,449.5 L643.2,450.4 L643.2,451.4 L643.2,452.3 L643.2,453.3 L643.3,454.2 L643.3,455.1 L643.3,456.1 L643.3,457.0 L643.3,458.0 L643.4,458.9 L643.4,459.8 L643.4,460.8 L643.4,461.7 L643.4,462.6 L643.5,463.6 L643.5,464.5 L643.5,465.4 L643.5,466.3 L643.5,467.3 L643.6,468.2 L643.6,469.1 L643.6,470.0 L643.6,470.9 L643.6,471.8 L643.7,472.7 L643.7,473.6 L643.7,474.5 L643.7,475.4 L643.7,476.2 L643.8,477.1 L643.8,478.0 L643.8,478.9 L643.8,479.7 L643.8,480.6 L643.9,481.4 L643.9,482.3 L643.9,483.1 L643.9,483.9 L643.9,484.8 L644.0,485.6 L644.0,486.4 L644.0,487.2 L644.0,488.0 L644.0,488.8 L644.1,489.6 L644.1,490.4 L644.1,491.1 L644.1,491.9 L644.1,492.7 L644.2,493.4 L644.2,494.1 L644.2,494.9 L644.2,495.6 L644.2,496.3 L644.3,497.0 L644.3,497.7 L644.3,498.4 L644.3,499.1 L644.3,499.8 L644.4,500.4 L644.4,501.1 L644.4,501.7 L644.4,502.4 L644.4,503.0 L644.5,503.6 L644.5,504.2 L644.5,505.1 L644.5,506.0 L644.6,506.8 L644.6,507.6 L644.6,508.4 L644.7,509.2 L644.7,509.9 L644.7,510.7 L644.8,511.4 L644.8,512.0 L644.8,512.7 L644.8,513.3 L644.9,514.1 L644.9,514.8 L645.0,515.5 L645.0,516.2 L645.1,516.9 L645.1,517.6 L645.2,518.3 L645.2,518.9 L645.3,519.5 L646.0,520.0" fill="none" stroke="#1c1c1c" stroke-width="1.5" stroke-linejoin="round" stroke-linecap="round"/>
<path d="M389.2,391.5 L389.2,389.0 L389.2,386.8 L389.2,384.9 L389.2,383.2 L389.3,381.9 L389.3,380.8 L389.3,380.0 L389.3,379.4 L389.4,380.1 L389.4,380.8 L389.5,381.5 L389.5,382.4 L389.5,383.0 L389.5,383.7 L389.5,384.5 L389.6,385.3 L389.6,386.2 L389.6,387.1 L389.6,388.1 L389.6,389.1 L389.7,390.2" fill="none" stroke="#e2b536" stroke-width="1.5" stroke-linejoin="round" stroke-linecap="round"/>
<path d="M394.3,390.7 L394.4,390.1 L394.4,389.4 L394.5,388.8 L394.5,388.1 L394.6,387.4 L394.6,386.7 L394.7,386.1 L394.7,385.4 L394.8,384.7 L394.8,384.1 L394.9,383.5 L395.0,382.8 L395.1,382.2 L395.3,381.6 L395.6,381.9 L395.7,382.5 L395.8,383.2 L395.8,383.8 L395.9,384.5 L396.0,385.2 L396.0,385.8 L396.1,386.5 L396.1,387.3 L396.2,387.9 L396.2,388.6 L396.2,389.2 L396.3,389.9 L396.3,390.5" fill="none" stroke="#e2b536" stroke-width="1.5" stroke-linejoin="round" stroke-linecap="round"/>
<path d="M403.1,390.6 L403.2,390.0 L403.3,389.3 L403.4,388.7 L403.5,388.1 L403.6,387.5 L403.7,386.8 L403.8,386.2 L403.9,385.6 L404.0,385.0 L404.2,384.3 L404.3,383.7 L404.5,383.1 L404.7,382.5 L404.9,382.0 L405.3,381.5 L405.8,381.8 L406.1,382.3 L406.3,382.9 L406.4,383.5 L406.6,384.1 L406.7,384.7 L406.9,385.3 L407.0,385.9 L407.1,386.5 L407.2,387.2 L407.3,387.8 L407.4,388.4 L407.5,389.0 L407.6,389.7 L407.7,390.3 L407.8,390.6" fill="none" stroke="#e2b536" stroke-width="1.5" stroke-linejoin="round" stroke-linecap="round"/>
<path d="M416.6,390.6 L416.8,390.0 L416.9,389.4 L417.1,388.8 L417.2,388.2 L417.4,387.6 L417.6,387.0 L417.7,386.4 L417.9,385.8 L418.1,385.2 L418.3,384.7 L418.5,384.1 L418.8,383.5 L419.0,383.0 L419.3,382.5 L419.8,382.0 L420.3,381.8 L420.8,382.0 L421.2,382.5 L421.6,383.0 L421.8,383.6 L422.1,384.2 L422.3,384.7 L422.5,385.3 L422.7,385.9 L422.9,386.5 L423.0,387.1 L423.2,387.7 L423.4,388.3 L423.5,388.9 L423.7,389.5 L423.8,390.1 L424.0,390.6" fill="none" stroke="#e2b536" stroke-width="1.5" stroke-linejoin="round" stroke-linecap="round"/>
<path d="M433.6,390.6 L433.8,390.0 L434.0,389.5 L434.2,388.9 L434.4,388.3 L434.6,387.7 L434.8,387.1 L435.0,386.6 L435.2,386.0 L435.4,385.4 L435.7,384.9 L435.9,384.3 L436.2,383.8 L436.5,383.2 L436.9,382.8 L437.3,382.3 L437.8,381.9 L438.3,381.8 L438.9,382.0 L439.4,382.4 L439.8,382.8 L440.1,383.3 L440.4,383.9 L440.7,384.4 L441.0,385.0 L441.2,385.5 L441.4,386.1 L441.6,386.6 L441.9,387.2 L442.1,387.8 L442.3,388.4 L442.5,388.9 L442.7,389.5 L442.9,390.1 L443.1,390.6" fill="none" stroke="#e2b536" stroke-width="1.5" stroke-linejoin="round" stroke-linecap="round"/>
<path d="M453.5,390.6 L453.7,390.0 L453.9,389.5 L454.2,388.9 L454.4,388.3 L454.6,387.8 L454.9,387.2 L455.1,386.6 L455.4,386.1 L455.6,385.5 L455.9,385.0 L456.2,384.5 L456.5,383.9 L456.8,383.4 L457.2,382.9 L457.6,382.5 L458.1,382.1 L458.6,381.8 L459.2,381.8 L459.8,382.0 L460.3,382.4 L460.7,382.8 L461.1,383.3 L461.4,383.8 L461.7,384.4 L462.0,384.9 L462.3,385.4 L462.5,386.0 L462.8,386.5 L463.0,387.1 L463.3,387.7 L463.5,388.3 L463.7,388.8 L464.0,389.4 L464.2,390.0 L464.4,390.5 L464.4,390.6" fill="none" stroke="#e2b536" stroke-width="1.5" stroke-linejoin="round" stroke-linecap="round"/>
<path d="M475.2,390.6 L475.5,390.1 L475.7,389.5 L476.0,389.0 L476.2,388.4 L476.5,387.8 L476.7,387.3 L477.0,386.7 L477.3,386.2 L477.6,385.7 L477.9,385.1 L478.2,384.6 L478.5,384.1 L478.8,383.6 L479.2,383.1 L479.6,382.6 L480.0,382.2 L480.5,381.9 L481.1,381.7 L481.7,381.6 L482.3,381.8 L482.8,382.1 L483.2,382.5 L483.6,383.0 L484.0,383.5 L484.3,384.0 L484.6,384.5 L484.9,385.0 L485.2,385.6 L485.5,386.1 L485.7,386.7 L486.0,387.2 L486.2,387.8 L486.5,388.3 L486.7,388.9 L487.0,389.5 L487.2,390.0 L487.4,390.6" fill="none" stroke="#e2b536" stroke-width="1.5" stroke-linejoin="round" stroke-linecap="round"/>
<path d="M498.8,390.6 L499.1,390.1 L499.3,389.5 L499.6,389.0 L499.8,388.4 L500.1,387.9 L500.4,387.3 L500.7,386.8 L500.9,386.2 L501.2,385.7 L501.5,385.1 L501.8,384.6 L502.2,384.1 L502.5,383.6 L502.9,383.1 L503.3,382.7 L503.7,382.3 L504.2,381.9 L504.8,381.7 L505.4,381.6 L506.0,381.7 L506.5,382.1 L506.9,382.5 L507.3,382.9 L507.7,383.4 L508.0,383.9 L508.4,384.4 L508.7,385.0 L508.9,385.5 L509.2,386.0 L509.5,386.6 L509.7,387.1 L510.0,387.7 L510.2,388.3 L510.5,388.8 L510.7,389.4 L511.0,389.9 L511.2,390.5 L511.2,390.6" fill="none" stroke="#e2b536" stroke-width="1.5" stroke-linejoin="round" stroke-linecap="round"/>
<path d="M522.6,390.6 L522.8,390.0 L523.1,389.5 L523.3,388.9 L523.6,388.4 L523.9,387.8 L524.1,387.3 L524.4,386.7 L524.7,386.2 L525.0,385.7 L525.3,385.1 L525.6,384.6 L525.9,384.1 L526.3,383.6 L526.6,383.1 L527.0,382.6 L527.5,382.2 L528.0,381.9 L528.5,381.7 L529.1,381.6 L529.7,381.8 L530.2,382.1 L530.7,382.5 L531.1,382.9 L531.5,383.4 L531.8,383.9 L532.1,384.4 L532.5,384.9 L532.7,385.5 L533.0,386.0 L533.3,386.5 L533.6,387.1 L533.8,387.6 L534.1,388.2 L534.3,388.8 L534.6,389.3 L534.8,389.9 L535.1,390.4 L535.2,390.6" fill="none" stroke="#e2b536" stroke-width="1.5" stroke-linejoin="round" stroke-linecap="round"/>
<path d="M546.5,390.6 L546.8,390.1 L547.0,389.5 L547.3,389.0 L547.6,388.4 L547.8,387.8 L548.1,387.3 L548.3,386.8 L548.6,386.2 L548.9,385.7 L549.2,385.1 L549.5,384.6 L549.8,384.1 L550.2,383.6 L550.5,383.1 L550.9,382.7 L551.4,382.3 L551.9,381.9 L552.5,381.7 L553.1,381.7 L553.6,381.9 L554.1,382.3 L554.6,382.7 L554.9,383.2 L555.3,383.7 L555.6,384.2 L555.9,384.8 L556.2,385.3 L556.4,385.8 L556.7,386.4 L557.0,387.0 L557.2,387.5 L557.4,388.1 L557.7,388.6 L557.9,389.2 L558.1,389.8 L558.4,390.4 L558.4,390.6" fill="none" stroke="#e2b536" stroke-width="1.5" stroke-linejoin="round" stroke-linecap="round"/>
<path d="M570.6,390.6 L570.9,390.0 L571.1,389.4 L571.3,388.9 L571.5,388.3 L571.8,387.7 L572.0,387.2 L572.2,386.6 L572.5,386.0 L572.7,385.5 L573.0,384.9 L573.3,384.4 L573.6,383.9 L573.9,383.4 L574.3,382.9 L574.7,382.4 L575.2,382.1 L575.7,381.8 L576.3,381.8 L576.9,382.1 L577.3,382.5 L577.7,383.0 L578.1,383.5 L578.4,384.0 L578.7,384.5 L578.9,385.1 L579.2,385.6 L579.4,386.2 L579.7,386.8 L579.9,387.3 L580.1,387.9 L580.4,388.5 L580.6,389.1 L580.8,389.7 L581.0,390.3 L581.1,390.6" fill="none" stroke="#e2b536" stroke-width="1.5" stroke-linejoin="round" stroke-linecap="round"/>
<path d="M592.9,390.6 L593.1,390.0 L593.2,389.4 L593.4,388.8 L593.6,388.3 L593.8,387.7 L594.0,387.1 L594.2,386.5 L594.4,385.9 L594.6,385.3 L594.8,384.8 L595.1,384.2 L595.4,383.6 L595.7,383.1 L596.0,382.6 L596.4,382.1 L596.9,381.8 L597.5,381.9 L598.0,382.2 L598.4,382.7 L598.7,383.2 L599.0,383.7 L599.2,384.3 L599.5,384.9 L599.7,385.4 L599.9,386.0 L600.1,386.6 L600.3,387.2 L600.4,387.8 L600.6,388.4 L600.8,389.0 L601.0,389.6 L601.1,390.2 L601.2,390.6" fill="none" stroke="#e2b536" stroke-width="1.5" stroke-linejoin="round" stroke-linecap="round"/>
<path d="M612.3,390.6 L612.4,390.0 L612.5,389.4 L612.7,388.8 L612.8,388.2 L613.0,387.6 L613.1,387.0 L613.3,386.4 L613.5,385.8 L613.6,385.2 L613.8,384.6 L614.0,384.0 L614.2,383.5 L614.5,382.9 L614.8,382.4 L615.2,381.9 L615.8,381.8 L616.2,382.2 L616.6,382.8 L616.8,383.3 L617.0,383.9 L617.2,384.4 L617.4,385.0 L617.6,385.7 L617.7,386.3 L617.9,386.9 L618.0,387.5 L618.2,388.1 L618.3,388.7 L618.4,389.3 L618.5,389.9 L618.7,390.5 L618.7,390.6" fill="none" stroke="#e2b536" stroke-width="1.5" stroke-linejoin="round" stroke-linecap="round"/>
<path d="M628.4,390.7 L628.5,390.1 L628.6,389.4 L628.6,388.8 L628.7,388.2 L628.8,387.5 L628.9,386.9 L629.0,386.3 L629.1,385.7 L629.2,385.0 L629.3,384.4 L629.4,383.8 L629.5,383.2 L629.7,382.5 L629.9,382.0 L630.4,381.9 L630.7,382.5 L630.9,383.1 L631.0,383.7 L631.2,384.3 L631.3,384.9 L631.4,385.6 L631.5,386.2 L631.6,386.8 L631.7,387.5 L631.8,388.1 L631.8,388.7 L631.9,389.4 L632.0,390.0 L632.1,390.5" fill="none" stroke="#e2b536" stroke-width="1.5" stroke-linejoin="round" stroke-linecap="round"/>
<path d="M640.2,390.7 L640.2,390.0 L640.3,389.3 L640.3,388.7 L640.3,388.0 L640.3,387.4 L640.4,386.7 L640.4,385.9 L640.5,385.3 L640.5,384.7 L640.6,384.0 L640.6,383.3 L640.7,382.6 L640.8,382.0 L641.0,382.1 L641.1,382.7 L641.2,383.3 L641.3,384.0 L641.3,384.6 L641.4,385.3 L641.4,385.9 L641.4,386.6 L641.5,387.3 L641.5,388.1 L641.6,388.7 L641.6,389.3 L641.6,390.0 L641.6,390.4" fill="none" stroke="#e2b536" stroke-width="1.5" stroke-linejoin="round" stroke-linecap="round"/>
</g>
<g clip-path="url(#cp_l)">
<path d="M386.5,522.7 L387.1,522.7 L387.7,522.7 L388.3,522.6 L388.9,522.6 L389.2,522.6" fill="none" stroke="#1c1c1c" stroke-width="1.5" stroke-linejoin="round" stroke-linecap="round"/>
<path d="M389.7,522.6 L390.3,522.7 L390.9,522.7 L391.5,522.7 L392.1,522.6 L392.7,522.6 L393.3,522.5 L393.9,522.4 L394.3,522.4" fill="none" stroke="#1c1c1c" stroke-width="1.5" stroke-linejoin="round" stroke-linecap="round"/>
<path d="M396.3,522.4 L396.9,522.5 L397.5,522.6 L398.1,522.7 L398.7,522.7 L399.3,522.6 L399.9,522.5 L400.5,522.3 L401.0,522.2 L401.6,522.0 L402.2,521.7 L402.7,521.5 L403.1,521.4" fill="none" stroke="#1c1c1c" stroke-width="1.5" stroke-linejoin="round" stroke-linecap="round"/>
<path d="M407.8,521.4 L408.3,521.6 L408.9,521.8 L409.5,522.0 L410.0,522.2 L410.6,522.4 L411.2,522.6 L411.8,522.7 L412.4,522.7 L413.0,522.6 L413.6,522.4 L414.1,522.0 L414.5,521.6 L414.9,521.2 L415.3,520.7 L415.7,520.2 L416.0,519.7 L416.4,519.2 L416.6,518.9" fill="none" stroke="#1c1c1c" stroke-width="1.5" stroke-linejoin="round" stroke-linecap="round"/>
<path d="M424.0,519.1 L424.3,519.6 L424.7,520.1 L425.1,520.5 L425.5,521.0 L425.9,521.4 L426.3,521.9 L426.8,522.2 L427.3,522.5 L427.9,522.7 L428.5,522.7 L429.1,522.4 L429.5,522.1 L430.0,521.6 L430.3,521.1 L430.7,520.6 L431.0,520.1 L431.3,519.6 L431.5,519.0 L431.8,518.5 L432.1,517.9 L432.3,517.3 L432.6,516.8 L432.8,516.2 L433.1,515.7 L433.3,515.1 L433.6,514.5 L433.6,514.5" fill="none" stroke="#1c1c1c" stroke-width="1.5" stroke-linejoin="round" stroke-linecap="round"/>
<path d="M443.1,515.4 L443.3,516.0 L443.5,516.6 L443.8,517.1 L444.0,517.7 L444.3,518.2 L444.5,518.8 L444.8,519.3 L445.1,519.9 L445.4,520.4 L445.7,520.9 L446.1,521.4 L446.4,521.9 L446.9,522.3 L447.4,522.6 L448.0,522.7 L448.6,522.5 L449.0,522.1 L449.4,521.6 L449.7,521.1 L450.0,520.6 L450.3,520.0 L450.5,519.4 L450.8,518.9 L451.0,518.3 L451.2,517.7 L451.4,517.1 L451.6,516.5 L451.8,515.9 L452.0,515.3 L452.1,514.8 L452.3,514.2 L452.5,513.6 L452.7,513.0 L452.8,512.4 L453.0,511.8 L453.2,511.2 L453.4,510.6 L453.5,510.2" fill="none" stroke="#1c1c1c" stroke-width="1.5" stroke-linejoin="round" stroke-linecap="round"/>
<path d="M464.4,511.2 L464.6,511.8 L464.8,512.4 L464.9,513.0 L465.1,513.6 L465.3,514.2 L465.4,514.8 L465.6,515.4 L465.8,516.0 L466.0,516.6 L466.1,517.2 L466.3,517.8 L466.5,518.4 L466.7,518.9 L467.0,519.5 L467.2,520.1 L467.4,520.6 L467.7,521.2 L468.0,521.7 L468.4,522.2 L468.9,522.5 L470.0,522.5 L470.4,522.0 L470.8,521.5 L471.1,521.0 L471.3,520.4 L471.5,519.9 L471.7,519.3 L471.9,518.7 L472.1,518.1 L472.3,517.5 L472.5,516.9 L472.7,516.3 L472.8,515.7 L473.0,515.1 L473.1,514.5 L473.3,513.9 L473.4,513.3 L473.6,512.7 L473.7,512.1 L473.8,511.5 L474.0,510.9 L474.1,510.3 L474.2,509.7 L474.4,509.1 L474.5,508.5 L474.6,507.9 L474.8,507.3 L474.9,506.7 L475.0,506.0 L475.2,505.4 L475.2,505.1" fill="none" stroke="#1c1c1c" stroke-width="1.5" stroke-linejoin="round" stroke-linecap="round"/>
<path d="M487.4,508.2 L487.6,508.8 L487.7,509.4 L487.8,510.0 L488.0,510.6 L488.1,511.2 L488.2,511.8 L488.4,512.4 L488.5,513.0 L488.6,513.6 L488.8,514.2 L488.9,514.8 L489.1,515.4 L489.2,516.0 L489.4,516.6 L489.6,517.2 L489.7,517.8 L489.9,518.4 L490.1,519.0 L490.3,519.6 L490.5,520.2 L490.8,520.7 L491.0,521.3 L491.3,521.8 L491.7,522.3 L492.8,522.6 L493.2,522.3 L493.6,521.8 L493.9,521.2 L494.1,520.6 L494.3,520.1 L494.5,519.5 L494.7,518.9 L494.9,518.3 L495.0,517.7 L495.2,517.1 L495.3,516.5 L495.5,515.9 L495.6,515.3 L495.7,514.7 L495.9,514.0 L496.0,513.4 L496.1,512.8 L496.2,512.2 L496.3,511.6 L496.5,510.9 L496.6,510.3 L496.7,509.7 L496.8,509.1 L496.9,508.5 L497.0,507.9 L497.1,507.2 L497.2,506.6 L497.3,505.9 L497.4,505.3 L497.5,504.7 L497.6,504.1 L497.7,503.5 L497.8,502.9 L497.9,502.3 L498.0,501.7 L498.1,501.1 L498.2,500.4 L498.3,499.8 L498.4,499.2 L498.5,498.6 L498.6,498.0 L498.7,497.3 L498.8,497.0" fill="none" stroke="#1c1c1c" stroke-width="1.5" stroke-linejoin="round" stroke-linecap="round"/>
<path d="M511.2,504.0 L511.3,504.6 L511.4,505.2 L511.6,505.9 L511.7,506.5 L511.8,507.2 L511.9,507.8 L512.0,508.4 L512.1,509.0 L512.2,509.6 L512.3,510.2 L512.4,510.9 L512.6,511.5 L512.7,512.1 L512.8,512.7 L512.9,513.3 L513.1,513.9 L513.2,514.5 L513.3,515.1 L513.5,515.8 L513.6,516.3 L513.7,517.0 L513.9,517.5 L514.1,518.1 L514.2,518.7 L514.4,519.3 L514.6,519.9 L514.8,520.5 L515.0,521.0 L515.3,521.6 L515.6,522.1 L516.0,522.5 L517.1,522.3 L517.7,521.3 L517.9,520.7 L518.1,520.1 L518.3,519.5 L518.5,518.9 L518.6,518.3 L518.8,517.7 L518.9,517.1 L519.1,516.5 L519.2,515.9 L519.3,515.3 L519.4,514.7 L519.5,514.0 L519.7,513.4 L519.8,512.8 L519.9,512.2 L520.0,511.5 L520.1,510.9 L520.2,510.3 L520.3,509.7 L520.4,509.1 L520.5,508.4 L520.6,507.8 L520.7,507.2 L520.8,506.6 L520.9,506.0 L520.9,505.4 L521.0,504.7 L521.1,504.1 L521.2,503.5 L521.3,502.9 L521.4,502.2 L521.5,501.6 L521.6,500.9 L521.7,500.3 L521.8,499.6 L521.8,499.0 L521.9,498.3 L522.0,497.6 L522.1,497.0 L522.2,496.3 L522.3,495.6 L522.4,495.0 L522.5,494.3 L522.6,493.6" fill="none" stroke="#1c1c1c" stroke-width="1.5" stroke-linejoin="round" stroke-linecap="round"/>
<path d="M535.2,499.1 L535.2,499.8 L535.3,500.4 L535.4,501.0 L535.5,501.6 L535.6,502.2 L535.7,502.8 L535.8,503.4 L535.9,504.0 L536.0,504.7 L536.1,505.3 L536.2,506.0 L536.3,506.6 L536.4,507.2 L536.5,507.9 L536.6,508.5 L536.7,509.1 L536.8,509.7 L536.9,510.3 L537.0,511.0 L537.1,511.6 L537.2,512.2 L537.3,512.8 L537.4,513.4 L537.6,514.0 L537.7,514.6 L537.8,515.3 L537.9,515.9 L538.1,516.5 L538.2,517.1 L538.4,517.7 L538.5,518.3 L538.7,518.9 L538.9,519.5 L539.0,520.1 L539.3,520.6 L539.5,521.2 L539.8,521.8 L540.1,522.3 L540.5,522.6 L541.5,522.1 L541.8,521.6 L542.1,521.0 L542.3,520.4 L542.5,519.8 L542.6,519.2 L542.8,518.6 L542.9,518.0 L543.1,517.4 L543.2,516.8 L543.3,516.2 L543.5,515.6 L543.6,515.0 L543.7,514.3 L543.8,513.7 L543.9,513.1 L544.0,512.5 L544.1,511.9 L544.2,511.3 L544.3,510.6 L544.4,510.0 L544.5,509.4 L544.6,508.7 L544.7,508.1 L544.8,507.5 L544.9,506.9 L545.0,506.3 L545.1,505.6 L545.2,505.0 L545.3,504.4 L545.4,503.7 L545.4,503.1 L545.5,502.4 L545.6,501.8 L545.7,501.1 L545.8,500.4 L545.9,499.8 L546.0,499.2 L546.0,498.6 L546.1,498.0 L546.2,497.4 L546.3,496.8 L546.4,496.2 L546.4,495.6 L546.5,495.0 L546.5,494.9" fill="none" stroke="#1c1c1c" stroke-width="1.5" stroke-linejoin="round" stroke-linecap="round"/>
<path d="M558.4,494.9 L558.5,495.5 L558.6,496.1 L558.7,496.8 L558.8,497.4 L558.9,498.0 L559.0,498.6 L559.1,499.2 L559.2,499.8 L559.3,500.4 L559.3,501.0 L559.4,501.6 L559.5,502.2 L559.6,502.8 L559.7,503.5 L559.8,504.1 L559.9,504.8 L560.0,505.4 L560.1,506.0 L560.2,506.7 L560.3,507.3 L560.4,507.9 L560.5,508.5 L560.6,509.1 L560.7,509.7 L560.8,510.4 L560.9,511.0 L561.1,511.6 L561.2,512.2 L561.3,512.8 L561.4,513.5 L561.5,514.1 L561.6,514.7 L561.8,515.3 L561.9,515.9 L562.0,516.5 L562.2,517.1 L562.3,517.7 L562.5,518.3 L562.7,518.9 L562.8,519.5 L563.0,520.1 L563.2,520.7 L563.5,521.2 L563.8,521.8 L564.1,522.3 L565.1,522.6 L565.9,521.6 L566.1,521.1 L566.3,520.5 L566.5,519.9 L566.7,519.3 L566.9,518.7 L567.0,518.1 L567.2,517.5 L567.3,516.9 L567.5,516.2 L567.6,515.6 L567.7,515.0 L567.8,514.4 L568.0,513.8 L568.1,513.1 L568.2,512.5 L568.3,511.9 L568.4,511.3 L568.5,510.7 L568.6,510.1 L568.7,509.4 L568.8,508.8 L568.9,508.2 L569.0,507.6 L569.1,507.0 L569.2,506.4 L569.3,505.7 L569.4,505.1 L569.5,504.5 L569.6,503.8 L569.7,503.2 L569.8,502.6 L569.9,501.9 L570.0,501.3 L570.1,500.7 L570.2,500.0 L570.3,499.4 L570.4,498.7 L570.5,498.1 L570.6,497.5 L570.6,497.4" fill="none" stroke="#1c1c1c" stroke-width="1.5" stroke-linejoin="round" stroke-linecap="round"/>
<path d="M581.1,501.1 L581.2,501.7 L581.3,502.3 L581.4,502.9 L581.5,503.5 L581.7,504.1 L581.8,504.7 L581.9,505.3 L582.0,505.9 L582.1,506.5 L582.2,507.1 L582.3,507.7 L582.4,508.3 L582.6,509.0 L582.7,509.6 L582.8,510.2 L582.9,510.8 L583.0,511.4 L583.2,512.0 L583.3,512.6 L583.4,513.3 L583.6,513.8 L583.7,514.5 L583.8,515.1 L584.0,515.7 L584.1,516.3 L584.3,516.9 L584.4,517.5 L584.6,518.1 L584.8,518.7 L585.0,519.3 L585.2,519.8 L585.4,520.4 L585.6,521.0 L585.9,521.5 L586.2,522.0 L586.6,522.5 L587.8,522.5 L588.2,522.0 L588.5,521.5 L588.8,521.0 L589.0,520.4 L589.3,519.9 L589.5,519.3 L589.7,518.7 L589.9,518.1 L590.0,517.5 L590.2,516.9 L590.4,516.3 L590.5,515.7 L590.7,515.1 L590.9,514.5 L591.0,513.9 L591.2,513.3 L591.3,512.7 L591.5,512.1 L591.6,511.5 L591.8,510.8 L591.9,510.2 L592.1,509.6 L592.2,509.0 L592.4,508.4 L592.5,507.7 L592.7,507.1 L592.8,506.5 L592.9,506.3" fill="none" stroke="#1c1c1c" stroke-width="1.5" stroke-linejoin="round" stroke-linecap="round"/>
<path d="M601.2,507.6 L601.4,508.2 L601.5,508.8 L601.7,509.4 L601.9,510.0 L602.0,510.6 L602.2,511.2 L602.3,511.8 L602.5,512.4 L602.7,513.0 L602.8,513.6 L603.0,514.2 L603.2,514.8 L603.3,515.4 L603.5,516.0 L603.7,516.6 L603.9,517.1 L604.0,517.7 L604.2,518.3 L604.5,518.9 L604.7,519.5 L604.9,520.0 L605.2,520.6 L605.4,521.1 L605.7,521.7 L606.1,522.2 L606.6,522.5 L607.2,522.7 L607.7,522.5 L608.2,522.2 L608.7,521.8 L609.0,521.3 L609.4,520.8 L609.7,520.2 L610.0,519.7 L610.3,519.2 L610.5,518.6 L610.8,518.1 L611.1,517.5 L611.3,517.0 L611.6,516.4 L611.9,515.9 L612.1,515.3 L612.3,515.1" fill="none" stroke="#1c1c1c" stroke-width="1.5" stroke-linejoin="round" stroke-linecap="round"/>
<path d="M618.7,515.2 L619.0,515.7 L619.2,516.3 L619.5,516.8 L619.8,517.4 L620.1,517.9 L620.4,518.4 L620.7,519.0 L621.0,519.5 L621.3,520.0 L621.6,520.5 L621.9,521.0 L622.3,521.5 L622.7,522.0 L623.2,522.4 L623.7,522.6 L624.3,522.7 L624.9,522.6 L625.5,522.4 L626.0,522.1 L626.5,521.8 L627.0,521.4 L627.5,521.0 L628.0,520.7 L628.4,520.4" fill="none" stroke="#1c1c1c" stroke-width="1.5" stroke-linejoin="round" stroke-linecap="round"/>
<path d="M632.1,520.7 L632.5,521.1 L633.0,521.5 L633.5,521.8 L634.0,522.2 L634.5,522.5 L635.1,522.7 L635.7,522.7 L636.3,522.6 L636.9,522.5 L637.5,522.4 L638.1,522.2 L638.6,522.0 L639.2,521.8 L639.8,521.7 L640.2,521.6" fill="none" stroke="#1c1c1c" stroke-width="1.5" stroke-linejoin="round" stroke-linecap="round"/>
<path d="M641.6,521.6 L642.2,521.7 L642.8,521.9 L643.4,522.0 L644.0,522.2 L644.6,522.3 L645.2,522.4 L645.8,522.5 L646.0,522.5" fill="none" stroke="#1c1c1c" stroke-width="1.5" stroke-linejoin="round" stroke-linecap="round"/>
<path d="M389.2,522.6 L389.7,522.6" fill="none" stroke="#e2b536" stroke-width="1.5" stroke-linejoin="round" stroke-linecap="round"/>
<path d="M394.3,522.4 L394.9,522.3 L395.5,522.3 L396.1,522.4 L396.3,522.4" fill="none" stroke="#e2b536" stroke-width="1.5" stroke-linejoin="round" stroke-linecap="round"/>
<path d="M403.1,521.4 L403.7,521.2 L404.3,521.1 L404.9,521.0 L405.5,521.0 L406.1,521.0 L406.7,521.1 L407.3,521.3 L407.8,521.4" fill="none" stroke="#e2b536" stroke-width="1.5" stroke-linejoin="round" stroke-linecap="round"/>
<path d="M416.6,518.9 L417.0,518.4 L417.3,517.9 L417.7,517.5 L418.1,517.0 L418.6,516.6 L419.1,516.3 L419.7,516.1 L420.3,516.0 L420.8,516.1 L421.4,516.4 L421.9,516.8 L422.3,517.2 L422.7,517.6 L423.1,518.1 L423.5,518.6 L423.9,519.0 L424.0,519.1" fill="none" stroke="#e2b536" stroke-width="1.5" stroke-linejoin="round" stroke-linecap="round"/>
<path d="M433.6,514.5 L433.8,513.9 L434.1,513.4 L434.4,512.8 L434.6,512.3 L434.9,511.7 L435.2,511.2 L435.5,510.6 L435.8,510.1 L436.1,509.6 L436.5,509.1 L436.9,508.7 L437.4,508.3 L438.0,508.1 L438.6,508.1 L439.1,508.4 L439.6,508.8 L440.0,509.3 L440.3,509.8 L440.6,510.3 L440.9,510.8 L441.2,511.3 L441.5,511.9 L441.7,512.4 L442.0,513.0 L442.2,513.5 L442.5,514.1 L442.7,514.6 L443.0,515.2 L443.1,515.4" fill="none" stroke="#e2b536" stroke-width="1.5" stroke-linejoin="round" stroke-linecap="round"/>
<path d="M453.5,510.2 L453.6,509.6 L453.8,509.0 L454.0,508.4 L454.2,507.8 L454.3,507.2 L454.5,506.6 L454.7,506.0 L454.9,505.4 L455.0,504.9 L455.2,504.3 L455.4,503.7 L455.6,503.1 L455.8,502.5 L456.1,502.0 L456.3,501.4 L456.5,500.8 L456.8,500.2 L457.1,499.7 L457.4,499.2 L457.7,498.7 L458.1,498.3 L458.7,498.0 L459.3,497.9 L459.8,498.3 L460.2,498.7 L460.5,499.2 L460.8,499.7 L461.1,500.3 L461.3,500.8 L461.6,501.4 L461.8,502.0 L462.0,502.6 L462.2,503.2 L462.4,503.8 L462.5,504.3 L462.7,504.9 L462.9,505.5 L463.1,506.1 L463.2,506.7 L463.4,507.3 L463.6,507.9 L463.7,508.5 L463.9,509.1 L464.0,509.7 L464.2,510.3 L464.4,510.9 L464.4,511.2" fill="none" stroke="#e2b536" stroke-width="1.5" stroke-linejoin="round" stroke-linecap="round"/>
<path d="M475.2,505.1 L475.3,504.5 L475.5,503.9 L475.6,503.3 L475.7,502.7 L475.9,502.1 L476.0,501.5 L476.1,500.9 L476.3,500.3 L476.4,499.7 L476.5,499.1 L476.7,498.5 L476.8,497.8 L476.9,497.2 L477.1,496.6 L477.2,496.0 L477.4,495.4 L477.5,494.8 L477.7,494.2 L477.8,493.6 L478.0,493.0 L478.2,492.4 L478.4,491.8 L478.6,491.3 L478.8,490.7 L479.0,490.1 L479.2,489.6 L479.5,489.0 L479.7,488.5 L480.1,487.9 L480.5,487.5 L481.6,487.5 L482.1,487.9 L482.4,488.4 L482.7,489.0 L482.9,489.5 L483.2,490.1 L483.4,490.7 L483.6,491.3 L483.8,491.9 L483.9,492.5 L484.1,493.1 L484.3,493.7 L484.4,494.3 L484.6,494.9 L484.7,495.5 L484.9,496.1 L485.0,496.7 L485.2,497.3 L485.3,497.9 L485.4,498.5 L485.6,499.1 L485.7,499.7 L485.8,500.3 L486.0,500.9 L486.1,501.6 L486.2,502.2 L486.3,502.8 L486.5,503.4 L486.6,504.1 L486.7,504.7 L486.9,505.3 L487.0,506.0 L487.1,506.6 L487.3,507.2 L487.4,507.9 L487.4,508.2" fill="none" stroke="#e2b536" stroke-width="1.5" stroke-linejoin="round" stroke-linecap="round"/>
<path d="M498.8,497.0 L498.9,496.4 L499.0,495.7 L499.1,495.1 L499.2,494.5 L499.3,493.9 L499.4,493.3 L499.5,492.7 L499.6,492.1 L499.7,491.5 L499.8,490.8 L499.9,490.2 L500.0,489.6 L500.2,488.9 L500.3,488.3 L500.4,487.7 L500.5,487.1 L500.6,486.5 L500.7,485.9 L500.8,485.3 L501.0,484.7 L501.1,484.1 L501.2,483.5 L501.4,482.9 L501.5,482.3 L501.6,481.7 L501.8,481.1 L501.9,480.4 L502.1,479.9 L502.3,479.3 L502.5,478.7 L502.7,478.1 L502.9,477.5 L503.1,477.0 L503.4,476.5 L503.8,476.0 L504.9,475.9 L505.6,476.9 L505.9,477.4 L506.1,478.0 L506.3,478.6 L506.5,479.1 L506.7,479.7 L506.9,480.3 L507.0,480.9 L507.2,481.5 L507.3,482.1 L507.5,482.7 L507.6,483.4 L507.7,483.9 L507.9,484.6 L508.0,485.2 L508.1,485.8 L508.2,486.4 L508.3,487.0 L508.5,487.6 L508.6,488.3 L508.7,488.9 L508.8,489.5 L508.9,490.1 L509.0,490.7 L509.1,491.4 L509.2,492.0 L509.4,492.6 L509.5,493.3 L509.6,493.9 L509.7,494.5 L509.8,495.1 L509.9,495.7 L510.0,496.3 L510.1,496.9 L510.2,497.5 L510.3,498.1 L510.4,498.7 L510.5,499.3 L510.6,499.9 L510.7,500.5 L510.8,501.2 L510.9,501.8 L511.0,502.4 L511.1,503.0 L511.2,503.6 L511.2,504.0" fill="none" stroke="#e2b536" stroke-width="1.5" stroke-linejoin="round" stroke-linecap="round"/>
<path d="M522.6,493.6 L522.7,493.0 L522.7,492.3 L522.8,491.7 L522.9,491.0 L523.0,490.3 L523.1,489.7 L523.2,489.0 L523.3,488.4 L523.4,487.7 L523.5,487.1 L523.6,486.5 L523.6,485.8 L523.7,485.2 L523.8,484.6 L523.9,484.0 L524.0,483.3 L524.1,482.7 L524.2,482.1 L524.3,481.5 L524.4,480.9 L524.5,480.2 L524.6,479.6 L524.7,479.0 L524.8,478.4 L524.9,477.7 L525.0,477.1 L525.1,476.5 L525.2,475.9 L525.3,475.2 L525.5,474.6 L525.6,474.0 L525.7,473.4 L525.8,472.8 L526.0,472.2 L526.1,471.6 L526.3,471.0 L526.4,470.4 L526.6,469.8 L526.8,469.2 L527.0,468.6 L527.3,468.1 L527.6,467.6 L528.0,467.2 L529.1,467.6 L529.4,468.1 L529.6,468.7 L529.9,469.2 L530.1,469.8 L530.3,470.4 L530.4,471.0 L530.6,471.6 L530.7,472.2 L530.9,472.8 L531.0,473.4 L531.2,474.0 L531.3,474.6 L531.4,475.2 L531.5,475.8 L531.7,476.4 L531.8,477.1 L531.9,477.7 L532.0,478.3 L532.1,478.9 L532.2,479.5 L532.3,480.2 L532.4,480.8 L532.5,481.4 L532.6,482.0 L532.7,482.6 L532.8,483.3 L532.9,483.9 L533.0,484.5 L533.1,485.2 L533.2,485.8 L533.3,486.4 L533.4,487.0 L533.5,487.6 L533.6,488.3 L533.7,488.9 L533.8,489.5 L533.9,490.1 L533.9,490.7 L534.0,491.3 L534.1,492.0 L534.2,492.6 L534.3,493.2 L534.4,493.9 L534.5,494.5 L534.6,495.1 L534.7,495.7 L534.8,496.4 L534.8,497.0 L534.9,497.6 L535.0,498.2 L535.1,498.9 L535.2,499.1" fill="none" stroke="#e2b536" stroke-width="1.5" stroke-linejoin="round" stroke-linecap="round"/>
<path d="M546.5,494.9 L546.6,494.3 L546.7,493.7 L546.8,493.1 L546.9,492.5 L546.9,491.9 L547.0,491.3 L547.1,490.7 L547.2,490.1 L547.3,489.5 L547.4,488.8 L547.4,488.1 L547.5,487.5 L547.6,486.8 L547.7,486.2 L547.8,485.6 L547.9,484.9 L548.0,484.3 L548.1,483.7 L548.2,483.1 L548.3,482.5 L548.3,481.9 L548.4,481.2 L548.5,480.6 L548.6,479.9 L548.7,479.3 L548.8,478.7 L548.9,478.1 L549.1,477.5 L549.2,476.8 L549.3,476.2 L549.4,475.6 L549.5,475.0 L549.6,474.4 L549.8,473.8 L549.9,473.2 L550.0,472.6 L550.2,471.9 L550.3,471.3 L550.5,470.7 L550.7,470.1 L550.9,469.6 L551.1,469.0 L551.4,468.5 L552.3,467.8 L553.2,468.6 L553.5,469.2 L553.7,469.7 L553.9,470.3 L554.1,470.9 L554.3,471.5 L554.5,472.1 L554.6,472.7 L554.8,473.3 L554.9,473.9 L555.1,474.5 L555.2,475.1 L555.3,475.7 L555.4,476.3 L555.6,476.9 L555.7,477.6 L555.8,478.2 L555.9,478.8 L556.0,479.4 L556.1,480.0 L556.2,480.6 L556.4,481.3 L556.5,481.9 L556.6,482.5 L556.7,483.1 L556.8,483.7 L556.9,484.3 L557.0,485.0 L557.1,485.6 L557.2,486.2 L557.3,486.9 L557.4,487.6 L557.5,488.2 L557.5,488.8 L557.6,489.4 L557.7,490.0 L557.8,490.6 L557.9,491.2 L558.0,491.8 L558.1,492.4 L558.2,493.1 L558.3,493.7 L558.4,494.3 L558.4,494.9" fill="none" stroke="#e2b536" stroke-width="1.5" stroke-linejoin="round" stroke-linecap="round"/>
<path d="M570.6,497.4 L570.7,496.8 L570.8,496.2 L570.9,495.6 L571.0,495.0 L571.1,494.3 L571.2,493.8 L571.4,493.1 L571.5,492.5 L571.6,491.8 L571.7,491.2 L571.8,490.6 L571.9,490.0 L572.0,489.4 L572.1,488.8 L572.3,488.2 L572.4,487.5 L572.5,486.9 L572.7,486.3 L572.8,485.7 L572.9,485.1 L573.1,484.5 L573.3,483.9 L573.4,483.4 L573.6,482.8 L573.8,482.2 L574.1,481.6 L574.4,481.1 L574.7,480.6 L575.8,480.7 L576.2,481.1 L576.5,481.7 L576.8,482.2 L577.0,482.8 L577.2,483.3 L577.4,483.9 L577.6,484.5 L577.8,485.1 L578.0,485.7 L578.1,486.3 L578.3,486.9 L578.4,487.5 L578.6,488.1 L578.7,488.7 L578.8,489.3 L579.0,489.9 L579.1,490.5 L579.2,491.2 L579.4,491.8 L579.5,492.4 L579.6,493.0 L579.7,493.6 L579.8,494.2 L580.0,494.9 L580.1,495.5 L580.2,496.1 L580.3,496.7 L580.4,497.3 L580.5,497.9 L580.6,498.5 L580.8,499.1 L580.9,499.7 L581.0,500.3 L581.1,500.9 L581.1,501.1" fill="none" stroke="#e2b536" stroke-width="1.5" stroke-linejoin="round" stroke-linecap="round"/>
<path d="M592.9,506.3 L593.0,505.7 L593.2,505.1 L593.3,504.5 L593.5,503.9 L593.7,503.3 L593.8,502.7 L594.0,502.1 L594.2,501.5 L594.4,500.9 L594.6,500.3 L594.9,499.8 L595.1,499.2 L595.4,498.7 L595.7,498.2 L596.1,497.7 L596.7,497.5 L597.3,497.7 L597.7,498.1 L598.1,498.6 L598.4,499.1 L598.7,499.6 L598.9,500.2 L599.1,500.8 L599.4,501.4 L599.6,501.9 L599.8,502.5 L600.0,503.1 L600.1,503.7 L600.3,504.3 L600.5,504.9 L600.7,505.5 L600.8,506.1 L601.0,506.7 L601.1,507.3 L601.2,507.6" fill="none" stroke="#e2b536" stroke-width="1.5" stroke-linejoin="round" stroke-linecap="round"/>
<path d="M612.3,515.1 L612.6,514.5 L612.9,514.0 L613.2,513.5 L613.5,513.0 L613.9,512.5 L614.4,512.1 L614.9,511.9 L615.5,511.8 L616.1,512.0 L616.6,512.4 L617.0,512.8 L617.4,513.2 L617.8,513.7 L618.1,514.3 L618.4,514.8 L618.7,515.2" fill="none" stroke="#e2b536" stroke-width="1.5" stroke-linejoin="round" stroke-linecap="round"/>
<path d="M628.4,520.4 L629.0,520.1 L629.6,520.0 L630.2,519.9 L630.8,520.0 L631.3,520.2 L631.8,520.6 L632.1,520.7" fill="none" stroke="#e2b536" stroke-width="1.5" stroke-linejoin="round" stroke-linecap="round"/>
<path d="M640.2,521.6 L640.8,521.6 L641.4,521.6 L641.6,521.6" fill="none" stroke="#e2b536" stroke-width="1.5" stroke-linejoin="round" stroke-linecap="round"/>
</g>
<text x="142.4" y="11.6" class="ti" font-style="italic" style="font-size:17px">δ</text>
<text x="151.4" y="11.6" class="ti" font-style="italic" style="font-size:16.5px">u</text>
<line x1="165.9" y1="6.0" x2="175.7" y2="6.0" stroke="#1a1a1a" stroke-width="1.1"/>
<line x1="165.9" y1="8.6" x2="175.7" y2="8.6" stroke="#1a1a1a" stroke-width="1.1"/>
<text x="181.0" y="11.6" class="ti">0</text>
<text x="478.9" y="11.7" class="ti" font-style="italic" style="font-size:17px">δ</text>
<text x="487.7" y="11.7" class="ti" font-style="italic" style="font-size:16.5px">u</text>
<line x1="502.2" y1="6.1" x2="512.0" y2="6.1" stroke="#1a1a1a" stroke-width="1.1"/>
<line x1="502.2" y1="8.7" x2="512.0" y2="8.7" stroke="#1a1a1a" stroke-width="1.1"/>
<text x="517.2" y="11.7" class="ti">0.01</text>
<text transform="translate(49.2,44.5) scale(1,0.98)" class="pl">(a)</text>
<text transform="translate(49.2,165.4) scale(1,0.98)" class="pl">(c)</text>
<text transform="translate(49.2,253.2) scale(1,0.98)" class="pl">(e)</text>
<text transform="translate(49.2,340.2) scale(1,0.98)" class="pl">(g)</text>
<text transform="translate(49.2,393.4) scale(1,0.98)" class="pl">(i)</text>
<text transform="translate(49.2,481.6) scale(1,0.98)" class="pl">(k)</text>
<text transform="translate(602.3,45.6) scale(1,0.98)" class="pl">(b)</text>
<text transform="translate(602.9,165.7) scale(1,0.98)" class="pl">(d)</text>
<text transform="translate(602.2,251.9) scale(1,0.98)" class="pl">(f)</text>
<text transform="translate(602.0,307.5) scale(1,0.98)" class="pl">(h)</text>
<text transform="translate(602.2,428.1) scale(1,0.98)" class="pl">(j)</text>
<text transform="translate(602.2,481.7) scale(1,0.98)" class="pl">(l)</text>
<text transform="translate(19.8,142.8) rotate(-90)" text-anchor="middle" dominant-baseline="central" class="yl" style="font-size:14.5px" textLength="26.0" lengthAdjust="spacing">y/λ<tspan font-size="10" font-style="normal" dy="3">0</tspan></text>
<text transform="translate(11.9,230.0) rotate(-90)" text-anchor="middle" dominant-baseline="central" class="yl" style="font-size:14.5px">θ</text>
<text transform="translate(10.2,316.7) rotate(-90)" text-anchor="middle" dominant-baseline="central" class="yl" style="font-size:14.5px">S</text>
<text transform="translate(5.1,404.3) rotate(-90)" text-anchor="middle" dominant-baseline="central" class="yl" style="font-size:14.5px">ψ</text>
<text transform="translate(15.6,491.0) rotate(-90)" text-anchor="middle" dominant-baseline="central" class="yl" style="font-size:14.5px" textLength="57.0" lengthAdjust="spacing">f<tspan font-size="10" dy="2">RF</tspan><tspan dy="-2">T/m</tspan><tspan font-size="10" dy="2">e</tspan><tspan dy="-2">c</tspan></text>
<text transform="translate(364.0,143.0) rotate(-90)" text-anchor="middle" dominant-baseline="central" class="yl" style="font-size:14.5px" textLength="24.5" lengthAdjust="spacing">y/λ<tspan font-size="10" font-style="normal" dy="3">0</tspan></text>
<text transform="translate(353.2,230.2) rotate(-90)" text-anchor="middle" dominant-baseline="central" class="yl" style="font-size:14.5px">θ</text>
<text transform="translate(360.2,317.2) rotate(-90)" text-anchor="middle" dominant-baseline="central" class="yl" style="font-size:14.5px">S</text>
<text transform="translate(346.7,404.6) rotate(-90)" text-anchor="middle" dominant-baseline="central" class="yl" style="font-size:14.5px">ψ</text>
<text transform="translate(360.0,491.3) rotate(-90)" text-anchor="middle" dominant-baseline="central" class="yl" style="font-size:14.5px" textLength="57.5" lengthAdjust="spacing">f<tspan font-size="10" dy="2">RF</tspan><tspan dy="-2">T/m</tspan><tspan font-size="10" dy="2">e</tspan><tspan dy="-2">c</tspan></text>
<text x="163.4" y="551.6" class="yl" style="font-size:15px">t</text>
<line x1="174.6" y1="542.8" x2="169.6" y2="554.6" stroke="#2a2a2a" stroke-width="0.95"/>
<text x="175.9" y="551.6" class="yl" style="font-size:14.5px">T</text>
<text x="505.1" y="551.6" class="yl" style="font-size:15px">t</text>
<line x1="516.3" y1="542.8" x2="511.29999999999995" y2="554.6" stroke="#2a2a2a" stroke-width="0.95"/>
<text x="517.6" y="551.6" class="yl" style="font-size:14.5px">T</text>
<g transform="translate(0,0)" fill="none" stroke="#2a2a2a" stroke-width="1.05" stroke-linecap="round"><path d="M11.4,52.1 C13,52.9 16.5,54.3 19.7,55.3"/><path d="M14.0,53.6 C12.0,54.6 10.6,55.9 11.6,56.9 L13.5,58.6"/></g>
<g transform="translate(334.6,-1.1)" fill="none" stroke="#2a2a2a" stroke-width="1.05" stroke-linecap="round"><path d="M11.4,52.1 C13,52.9 16.5,54.3 19.7,55.3"/><path d="M14.0,53.6 C12.0,54.6 10.6,55.9 11.6,56.9 L13.5,58.6"/></g>
</svg>
</body></html>
